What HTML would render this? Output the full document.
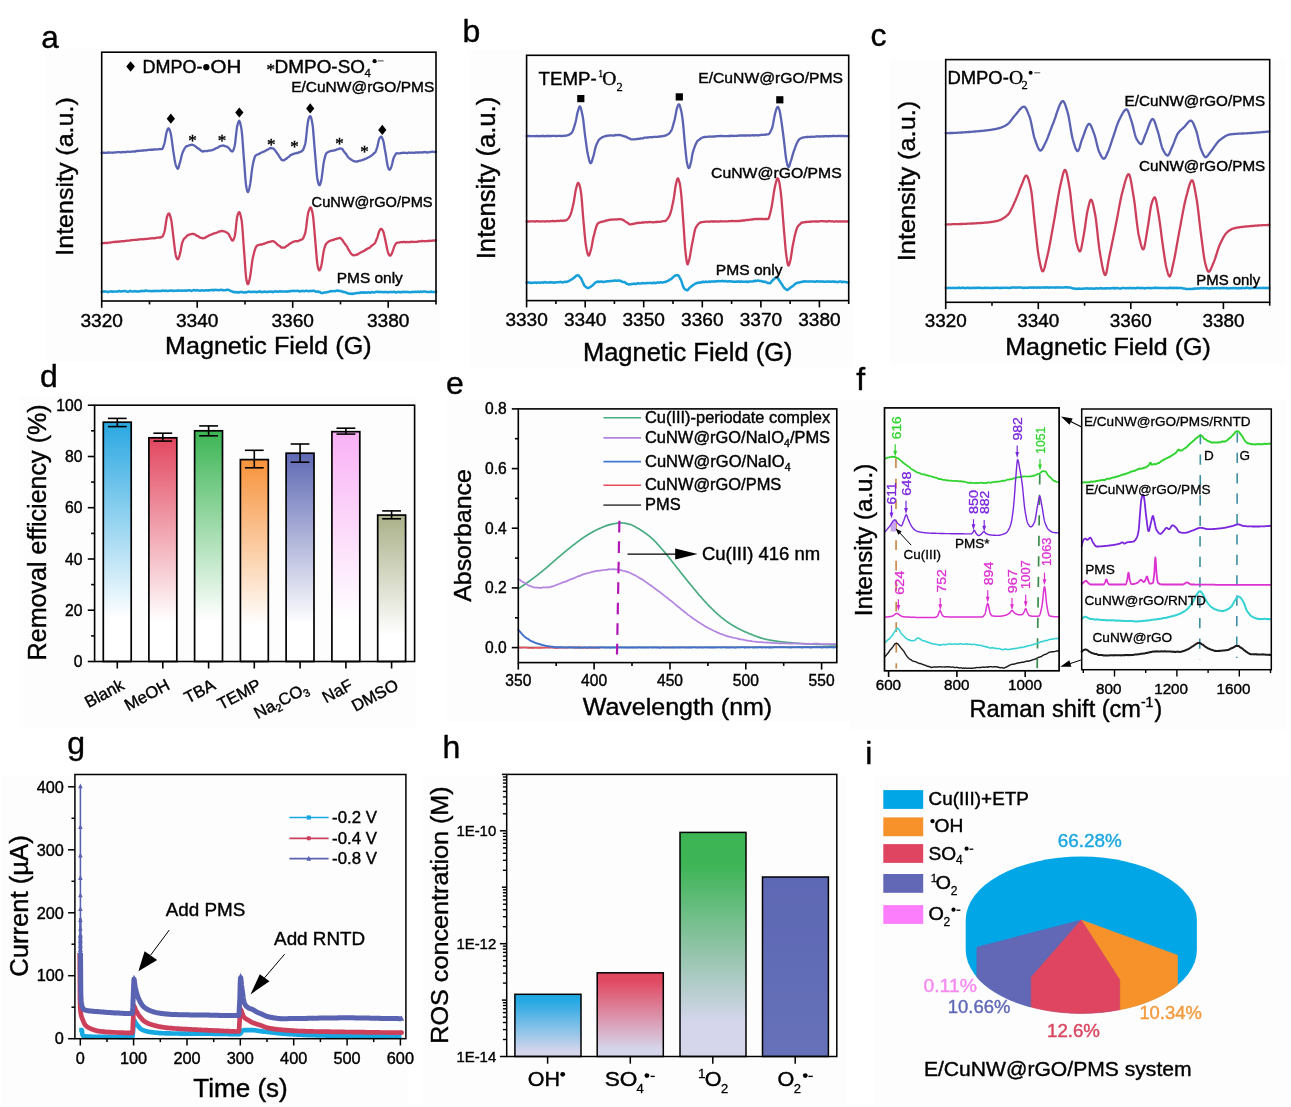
<!DOCTYPE html>
<html><head><meta charset="utf-8"><title>Figure</title>
<style>
html,body{margin:0;padding:0;background:#fff;}
body{width:1291px;height:1107px;overflow:hidden;}
svg{display:block;font-family:"Liberation Sans",sans-serif;}
</style></head><body>
<svg width="1291" height="1107" viewBox="0 0 1291 1107">
<defs><filter id="soft" x="0" y="0" width="100%" height="100%" filterUnits="userSpaceOnUse"><feGaussianBlur stdDeviation="0.45"/></filter><linearGradient id="gd0" x1="0" y1="0" x2="0" y2="1"><stop offset="0" stop-color="#29a7e1"/><stop offset="0.82" stop-color="#ffffff"/><stop offset="1" stop-color="#ffffff"/></linearGradient><linearGradient id="gd1" x1="0" y1="0" x2="0" y2="1"><stop offset="0" stop-color="#e2475f"/><stop offset="0.82" stop-color="#ffffff"/><stop offset="1" stop-color="#ffffff"/></linearGradient><linearGradient id="gd2" x1="0" y1="0" x2="0" y2="1"><stop offset="0" stop-color="#3cb554"/><stop offset="0.82" stop-color="#ffffff"/><stop offset="1" stop-color="#ffffff"/></linearGradient><linearGradient id="gd3" x1="0" y1="0" x2="0" y2="1"><stop offset="0" stop-color="#f7923a"/><stop offset="0.82" stop-color="#ffffff"/><stop offset="1" stop-color="#ffffff"/></linearGradient><linearGradient id="gd4" x1="0" y1="0" x2="0" y2="1"><stop offset="0" stop-color="#5f69b4"/><stop offset="0.82" stop-color="#ffffff"/><stop offset="1" stop-color="#ffffff"/></linearGradient><linearGradient id="gd5" x1="0" y1="0" x2="0" y2="1"><stop offset="0" stop-color="#f9b1f5"/><stop offset="0.82" stop-color="#ffffff"/><stop offset="1" stop-color="#ffffff"/></linearGradient><linearGradient id="gd6" x1="0" y1="0" x2="0" y2="1"><stop offset="0" stop-color="#aab088"/><stop offset="0.82" stop-color="#ffffff"/><stop offset="1" stop-color="#ffffff"/></linearGradient><linearGradient id="gh0" x1="0" y1="0" x2="0" y2="1"><stop offset="0" stop-color="#1ea7e3"/><stop offset="0.1" stop-color="#25a8e3"/><stop offset="0.92" stop-color="#d5d6ec"/><stop offset="1" stop-color="#d5d6ec"/></linearGradient><linearGradient id="gh1" x1="0" y1="0" x2="0" y2="1"><stop offset="0" stop-color="#e2465f"/><stop offset="0.1" stop-color="#e14a63"/><stop offset="0.92" stop-color="#d5d6ec"/><stop offset="1" stop-color="#d5d6ec"/></linearGradient><linearGradient id="gh2" x1="0" y1="0" x2="0" y2="1"><stop offset="0" stop-color="#3cb554"/><stop offset="0.15" stop-color="#3fb557"/><stop offset="0.55" stop-color="#96c5ae"/><stop offset="0.85" stop-color="#d5d6ec"/><stop offset="1" stop-color="#d5d6ec"/></linearGradient><linearGradient id="gh3" x1="0" y1="0" x2="0" y2="1"><stop offset="0" stop-color="#5d68b4"/><stop offset="1" stop-color="#6671b9"/></linearGradient></defs>
<rect x="0" y="0" width="1291" height="1107" fill="#fff"/>
<g filter="url(#soft)">
<rect x="45" y="48" width="395" height="314" fill="#fdfdfd"/>
<rect x="469" y="50" width="384" height="318" fill="#fdfdfd"/>
<rect x="890" y="59" width="395" height="306" fill="#fdfdfd"/>
<rect x="20" y="395" width="396" height="332" fill="#fdfdfd"/>
<rect x="446" y="400" width="414" height="322" fill="#fdfdfd"/>
<rect x="850" y="400" width="436" height="330" fill="#fdfdfd"/>
<rect x="2" y="775" width="406" height="330" fill="#fdfdfd"/>
<rect x="423" y="776" width="423" height="329" fill="#fdfdfd"/>
<rect x="875" y="775" width="414" height="330" fill="#fdfdfd"/>
<text x="41.2" y="48.2" font-size="31.5" stroke="#000" stroke-width="0.4">a</text>
<path d="M101.7,153 102.2,152.9 102.7,152.7 103.2,152.8 103.7,152.6 104.2,152.9 104.7,152.7 105.2,152.9 105.7,152.8 106.2,152.9 106.7,152.7 107.2,152.7 107.7,152.5 108.2,152.8 108.7,152.7 109.2,152.7 109.7,152.5 110.2,152.6 110.7,152.6 111.2,152.6 111.7,152.7 112.2,152.7 112.7,152.8 113.2,152.7 113.7,152.6 114.2,152.5 114.7,152.3 115.2,152.4 115.7,152.4 116.2,152.4 116.7,152.3 117.2,152.2 117.7,152.2 118.2,152.1 118.7,152.2 119.2,152.1 119.7,152.2 120.2,152.3 120.7,152.4 121.2,152.4 121.7,152.1 122.2,152 122.7,152.1 123.2,152.2 123.7,152.1 124.2,152 124.7,152.1 125.2,152.2 125.7,152.2 126.2,152 126.7,151.9 127.2,151.7 127.7,151.7 128.2,151.6 128.7,151.8 129.2,151.8 129.7,151.9 130.2,151.8 130.7,151.8 131.2,151.6 131.7,151.6 132.2,151.6 132.7,151.6 133.2,151.5 133.7,151.4 134.2,151.4 134.7,151.5 135.2,151.6 135.7,151.4 136.2,151.1 136.7,150.8 137.2,150.9 137.7,151 138.2,151 138.7,150.8 139.2,150.7 139.7,150.7 140.2,150.8 140.7,150.8 141.2,150.7 141.7,150.6 142.2,150.5 142.7,150.5 143.2,150.5 143.7,150.5 144.2,150.3 144.7,150.3 145.2,150.2 145.7,150.3 146.2,150.4 146.7,150.3 147.2,150.1 147.7,149.9 148.2,149.9 148.7,149.9 149.2,149.9 149.7,149.8 150.2,149.7 150.7,149.8 151.2,149.7 151.7,149.8 152.2,149.7 152.7,149.8 153.2,149.6 153.7,149.5 154.2,149.5 154.7,149.5 155.2,149.4 155.7,149.4 156.2,149.3 156.7,149.3 157.2,149.4 157.7,149.4 158.2,149.4 158.7,149.2 159.2,149.2 159.7,149 160.2,149.2 160.7,149.2 161.2,149.2 161.7,149 162.2,148.9 162.7,148.3 163.2,147.1 163.7,145.7 164.2,144 164.7,142.5 165.2,139.8 165.7,136.8 166.2,133.9 166.7,131.8 167.2,130.3 167.7,129.2 168.2,128.4 168.7,128.3 169.2,128.9 169.7,129.9 170.2,131.6 170.7,133.3 171.2,135.9 171.7,139.2 172.2,143.1 172.7,147 173.2,150.6 173.7,153.6 174.2,156.9 174.7,160 175.2,162.7 175.7,164.8 176.2,166.2 176.7,167.2 177.2,168.2 177.7,168.8 178.2,168.5 178.7,167 179.2,165.1 179.7,163.3 180.2,161.7 180.7,159.7 181.2,157.6 181.7,155.5 182.2,153.8 182.7,152.3 183.2,151.2 183.7,150.1 184.2,149.2 184.7,148.3 185.2,147.7 185.7,146.9 186.2,146.4 186.7,146.1 187.2,146.2 187.7,146 188.2,145.8 188.7,145.4 189.2,145.3 189.7,145.2 190.2,145.1 190.7,144.9 191.2,144.8 191.7,144.7 192.2,144.8 192.7,145 193.2,145.1 193.7,145.3 194.2,145.5 194.7,145.8 195.2,146.2 195.7,146.6 196.2,147 196.7,147.4 197.2,147.9 197.7,148.2 198.2,148.5 198.7,148.6 199.2,149 199.7,149.4 200.2,150 200.7,150.4 201.2,150.7 201.7,151 202.2,151.1 202.7,151.5 203.2,151.4 203.7,151.3 204.2,151 204.7,151 205.2,151 205.7,151.2 206.2,151.2 206.7,151.1 207.2,151 207.7,150.9 208.2,150.8 208.7,150.6 209.2,150.6 209.7,150.6 210.2,150.5 210.7,150.4 211.2,150.4 211.7,150.2 212.2,150.2 212.7,150 213.2,149.6 213.7,149.5 214.2,149.3 214.7,149.1 215.2,148.6 215.7,148.4 216.2,148.2 216.7,148 217.2,147.8 217.7,147.7 218.2,147.4 218.7,147 219.2,146.5 219.7,146.2 220.2,146 220.7,146 221.2,145.9 221.7,145.9 222.2,145.7 222.7,145.6 223.2,145.5 223.7,145.6 224.2,145.9 224.7,146 225.2,146.3 225.7,146.3 226.2,146.5 226.7,146.6 227.2,146.8 227.7,147.2 228.2,147.5 228.7,148 229.2,148.5 229.7,149.2 230.2,150 230.7,150.4 231.2,151 231.7,151.2 232.2,151.5 232.7,151.3 233.2,150.5 233.7,149.2 234.2,147.6 234.7,145.7 235.2,142.6 235.7,138.2 236.2,133.5 236.7,129.2 237.2,126.1 237.7,124.3 238.2,122.6 238.7,121.4 239.2,120.8 239.7,121.5 240.2,123 240.7,125.3 241.2,127.5 241.7,130.8 242.2,135.9 242.7,142.4 243.2,149.5 243.7,156.4 244.2,162.5 244.7,169.3 245.2,176.1 245.7,182.1 246.2,186.3 246.7,188.9 247.2,191 247.7,192.1 248.2,191.9 248.7,190.6 249.2,188.7 249.7,186.5 250.2,183.9 250.7,180.3 251.2,176.3 251.7,172.1 252.2,168.3 252.7,165.3 253.2,162.9 253.7,160.9 254.2,158.9 254.7,157.2 255.2,156 255.7,155.5 256.2,155.2 256.7,154.8 257.2,154.7 257.7,154.3 258.2,154.3 258.7,154 259.2,153.9 259.7,153.5 260.2,153.2 260.7,152.9 261.2,152.7 261.7,152.5 262.2,152.3 262.7,152 263.2,151.9 263.7,151.7 264.2,151.4 264.7,151.2 265.2,150.8 265.7,150.7 266.2,150.3 266.7,150.2 267.2,149.8 267.7,149.5 268.2,149.3 268.7,149.1 269.2,148.8 269.7,148.4 270.2,148.1 270.7,148 271.2,148 271.7,148.3 272.2,148.3 272.7,148.4 273.2,148.4 273.7,148.8 274.2,149.3 274.7,149.9 275.2,150.6 275.7,151.2 276.2,152 276.7,152.7 277.2,153.4 277.7,154.1 278.2,154.7 278.7,155.5 279.2,156.3 279.7,157.2 280.2,158 280.7,158.6 281.2,159.3 281.7,159.9 282.2,160.1 282.7,160.3 283.2,160.2 283.7,160.3 284.2,160.2 284.7,159.7 285.2,159.4 285.7,159 286.2,158.9 286.7,158.4 287.2,158 287.7,157.5 288.2,157.2 288.7,156.8 289.2,156.6 289.7,156 290.2,155.4 290.7,155 291.2,154.8 291.7,154.8 292.2,154.4 292.7,154.1 293.2,153.9 293.7,153.9 294.2,153.8 294.7,153.6 295.2,153.4 295.7,153.2 296.2,153 296.7,153.1 297.2,153 297.7,153 298.2,152.6 298.7,152.5 299.2,152.1 299.7,152.1 300.2,151.8 300.7,151.9 301.2,151.4 301.7,151.1 302.2,150.6 302.7,150.4 303.2,149.6 303.7,148.6 304.2,147.1 304.7,145.7 305.2,144 305.7,141.1 306.2,136.8 306.7,132 307.2,127.3 307.7,123.4 308.2,120.4 308.7,118.5 309.2,117.1 309.7,116.4 310.2,116.2 310.7,116.6 311.2,117.9 311.7,120.1 312.2,122.6 312.7,125.7 313.2,130.7 313.7,136.8 314.2,143.4 314.7,149.6 315.2,155.2 315.7,161.2 316.2,167.4 316.7,173.2 317.2,177.9 317.7,180.6 318.2,182.7 318.7,184.3 319.2,185.2 319.7,185.1 320.2,184.2 320.7,182.6 321.2,180.6 321.7,178 322.2,174.2 322.7,170.1 323.2,166.1 323.7,162.7 324.2,160.1 324.7,158.1 325.2,156.1 325.7,154.7 326.2,153.4 326.7,153 327.2,152.6 327.7,152.3 328.2,152.1 328.7,151.7 329.2,151.5 329.7,151.3 330.2,151.2 330.7,151.1 331.2,150.9 331.7,150.8 332.2,150.8 332.7,150.7 333.2,150.7 333.7,150.4 334.2,150.3 334.7,150.3 335.2,150.2 335.7,149.9 336.2,149.7 336.7,149.5 337.2,149.4 337.7,149.3 338.2,149.2 338.7,149 339.2,148.6 339.7,148.5 340.2,148.5 340.7,148.6 341.2,148.7 341.7,148.7 342.2,149.1 342.7,149.5 343.2,150.3 343.7,151.1 344.2,151.8 344.7,152.4 345.2,153.1 345.7,153.6 346.2,154.2 346.7,155 347.2,155.9 347.7,156.7 348.2,157.2 348.7,157.8 349.2,158.2 349.7,158.5 350.2,158.9 350.7,159.2 351.2,159.6 351.7,160 352.2,160.2 352.7,160.6 353.2,160.8 353.7,161.1 354.2,161.2 354.7,161.4 355.2,161.4 355.7,161.5 356.2,161.6 356.7,161.6 357.2,161.6 357.7,161.2 358.2,161.2 358.7,161 359.2,160.9 359.7,160.7 360.2,160.6 360.7,160.6 361.2,160.5 361.7,160.3 362.2,160 362.7,159.8 363.2,159.8 363.7,159.6 364.2,159.4 364.7,159.1 365.2,158.9 365.7,158.7 366.2,158.7 366.7,158.3 367.2,158 367.7,157.7 368.2,157.5 368.7,157.3 369.2,157 369.7,156.8 370.2,156.4 370.7,156 371.2,155.7 371.7,155.5 372.2,154.9 372.7,154.7 373.2,154.1 373.7,153.7 374.2,153.1 374.7,152.8 375.2,152.4 375.7,151.4 376.2,150.1 376.7,148.6 377.2,147.3 377.7,145.2 378.2,142.9 378.7,140.6 379.2,139 379.7,138.1 380.2,137.2 380.7,136.7 381.2,136.6 381.7,137.1 382.2,138.1 382.7,139.2 383.2,140.4 383.7,142.8 384.2,145.5 384.7,148.7 385.2,151.3 385.7,154 386.2,157.1 386.7,160.6 387.2,163.6 387.7,166.1 388.2,167.5 388.7,168.8 389.2,169.6 389.7,169.8 390.2,169.3 390.7,168.3 391.2,167.1 391.7,165.7 392.2,163.7 392.7,161.4 393.2,159.4 393.7,157.8 394.2,156.9 394.7,155.8 395.2,155.1 395.7,154 396.2,153.5 396.7,153.1 397.2,153.3 397.7,153.4 398.2,153.4 398.7,153.4 399.2,153.3 399.7,153.4 400.2,153.2 400.7,153.2 401.2,153 401.7,153.1 402.2,152.9 402.7,152.9 403.2,152.7 403.7,152.7 404.2,152.8 404.7,152.9 405.2,152.8 405.7,152.9 406.2,152.9 406.7,153.1 407.2,153.1 407.7,153 408.2,152.7 408.7,152.5 409.2,152.7 409.7,152.7 410.2,152.9 410.7,152.7 411.2,152.8 411.7,152.6 412.2,152.7 412.7,152.6 413.2,152.9 413.7,152.8 414.2,152.8 414.7,152.7 415.2,152.7 415.7,152.5 416.2,152.4 416.7,152.4 417.2,152.5 417.7,152.6 418.2,152.5 418.7,152.5 419.2,152.4 419.7,152.5 420.2,152.3 420.7,152.3 421.2,152.4 421.7,152.5 422.2,152.4 422.7,152.4 423.2,152.2 423.7,152.4 424.2,152.1 424.7,152.1 425.2,152 425.7,152.1 426.2,152.3 426.7,152.4 427.2,152.5 427.7,152.5 428.2,152.4 428.7,152.2 429.2,152.2 429.7,152.2 430.2,152.2 430.7,152 431.2,151.9 431.7,151.7 432.2,151.7 432.7,151.7 433.2,151.9 433.7,151.9 434.2,151.9 434.7,152 435.2,151.9 435.7,152 436,151.8" fill="none" stroke="#5a62b2" stroke-width="2.3" stroke-linejoin="round" stroke-linecap="round"/>
<path d="M101.7,243.5 102.2,243.2 102.7,243.3 103.2,243.1 103.7,243.2 104.2,243 104.7,243 105.2,242.9 105.7,242.8 106.2,242.9 106.7,243.1 107.2,243.1 107.7,242.9 108.2,242.7 108.7,242.6 109.2,242.6 109.7,242.6 110.2,242.6 110.7,242.5 111.2,242.3 111.7,242.3 112.2,242.2 112.7,242.2 113.2,242.1 113.7,242 114.2,242 114.7,241.9 115.2,241.7 115.7,241.7 116.2,241.7 116.7,242 117.2,241.7 117.7,241.7 118.2,241.5 118.7,241.8 119.2,241.7 119.7,241.6 120.2,241.4 120.7,241.4 121.2,241.4 121.7,241.4 122.2,241.1 122.7,241.2 123.2,241.2 123.7,241.3 124.2,241.2 124.7,241 125.2,240.9 125.7,240.8 126.2,240.8 126.7,240.8 127.2,240.7 127.7,240.6 128.2,240.6 128.7,240.7 129.2,240.6 129.7,240.6 130.2,240.4 130.7,240.3 131.2,240.1 131.7,240.1 132.2,240.2 132.7,240.2 133.2,240 133.7,239.9 134.2,239.8 134.7,239.8 135.2,239.8 135.7,239.9 136.2,239.9 136.7,239.9 137.2,239.7 137.7,239.7 138.2,239.5 138.7,239.6 139.2,239.4 139.7,239.4 140.2,239.3 140.7,239.3 141.2,239.2 141.7,239.1 142.2,239.3 142.7,239.4 143.2,239.3 143.7,239.1 144.2,239 144.7,239.1 145.2,239.2 145.7,239 146.2,238.9 146.7,238.9 147.2,238.9 147.7,238.9 148.2,238.7 148.7,238.7 149.2,238.5 149.7,238.6 150.2,238.6 150.7,238.3 151.2,238.4 151.7,238.2 152.2,238.3 152.7,238.2 153.2,238.1 153.7,238.3 154.2,238.4 154.7,238.4 155.2,238.1 155.7,237.9 156.2,237.8 156.7,237.8 157.2,237.7 157.7,237.6 158.2,237.6 158.7,237.6 159.2,237.5 159.7,237.4 160.2,237.6 160.7,237.4 161.2,237.3 161.7,237 162.2,236.8 162.7,236.3 163.2,235.3 163.7,234 164.2,232.5 164.7,230.7 165.2,228.1 165.7,224.4 166.2,221 166.7,217.9 167.2,216.3 167.7,215 168.2,214 168.7,213.6 169.2,213.5 169.7,214.5 170.2,215.9 170.7,217.9 171.2,219.8 171.7,222.9 172.2,226.8 172.7,231.1 173.2,235.6 173.7,239.7 174.2,244.2 174.7,248.2 175.2,252 175.7,254.8 176.2,256.7 176.7,258.1 177.2,259.1 177.7,259.3 178.2,258.9 178.7,257.9 179.2,256.6 179.7,254.9 180.2,253.1 180.7,250.5 181.2,247.6 181.7,244.9 182.2,242.9 182.7,241.6 183.2,240.3 183.7,239.4 184.2,238.7 184.7,238.1 185.2,237.8 185.7,237.3 186.2,236.9 186.7,236 187.2,235.6 187.7,235.3 188.2,235.2 188.7,234.9 189.2,234.6 189.7,234.4 190.2,234.3 190.7,234.2 191.2,234.2 191.7,234.1 192.2,233.9 192.7,233.8 193.2,233.9 193.7,234.1 194.2,234.1 194.7,234.3 195.2,234.5 195.7,235 196.2,235.4 196.7,235.8 197.2,235.9 197.7,236 198.2,236.1 198.7,236.6 199.2,237 199.7,237.4 200.2,237.6 200.7,237.8 201.2,237.9 201.7,237.9 202.2,238 202.7,238.3 203.2,238.4 203.7,238.2 204.2,238 204.7,237.9 205.2,237.7 205.7,237.4 206.2,236.9 206.7,236.8 207.2,236.5 207.7,236.2 208.2,235.9 208.7,235.6 209.2,235.4 209.7,235.2 210.2,235 210.7,234.7 211.2,234.4 211.7,234.4 212.2,234.3 212.7,234 213.2,233.7 213.7,233.4 214.2,233.4 214.7,233.2 215.2,233.2 215.7,233 216.2,232.9 216.7,232.7 217.2,232.5 217.7,232.2 218.2,231.9 218.7,231.7 219.2,231.4 219.7,231.5 220.2,231.3 220.7,231.4 221.2,231.1 221.7,231 222.2,230.9 222.7,231 223.2,231.2 223.7,231.3 224.2,231.3 224.7,231.5 225.2,231.7 225.7,232 226.2,232.2 226.7,232.5 227.2,232.9 227.7,233.3 228.2,233.5 228.7,234.2 229.2,235.1 229.7,236.2 230.2,237.1 230.7,238 231.2,239 231.7,240 232.2,240.5 232.7,240.7 233.2,240.2 233.7,239.2 234.2,237.9 234.7,236.2 235.2,233.8 235.7,229.6 236.2,224.6 236.7,220 237.2,216.5 237.7,214.9 238.2,213.5 238.7,212.5 239.2,212.1 239.7,212.6 240.2,214 240.7,215.8 241.2,218.2 241.7,220.9 242.2,225.7 242.7,231.9 243.2,239 243.7,246.1 244.2,252.6 244.7,259.7 245.2,267.1 245.7,273.7 246.2,278.5 246.7,281.1 247.2,283.2 247.7,284.2 248.2,284.1 248.7,282.8 249.2,280.9 249.7,278.8 250.2,276.3 250.7,273 251.2,269.2 251.7,265.2 252.2,261.4 252.7,258.4 253.2,256.2 253.7,254.2 254.2,252.2 254.7,250.4 255.2,248.9 255.7,247.6 256.2,246.7 256.7,246 257.2,245.6 257.7,245.3 258.2,245.2 258.7,245 259.2,244.8 259.7,244.7 260.2,244.7 260.7,244.4 261.2,244.4 261.7,244.5 262.2,244.5 262.7,244.2 263.2,243.8 263.7,243.7 264.2,243.8 264.7,243.6 265.2,243.3 265.7,243.1 266.2,243 266.7,242.7 267.2,242.5 267.7,242.2 268.2,242.3 268.7,242.1 269.2,242 269.7,241.8 270.2,241.8 270.7,241.6 271.2,241.4 271.7,241.3 272.2,241.2 272.7,241.2 273.2,241.3 273.7,241.4 274.2,241.6 274.7,242 275.2,242.5 275.7,243 276.2,243.3 276.7,243.8 277.2,244.4 277.7,244.8 278.2,245.3 278.7,245.5 279.2,245.7 279.7,246 280.2,246.4 280.7,247.1 281.2,247.4 281.7,247.7 282.2,247.6 282.7,247.5 283.2,247.7 283.7,247.6 284.2,247.6 284.7,247.4 285.2,247.2 285.7,246.7 286.2,246.3 286.7,246 287.2,245.8 287.7,245.4 288.2,245.1 288.7,244.6 289.2,244.2 289.7,243.7 290.2,243.4 290.7,243.3 291.2,243 291.7,242.7 292.2,242.3 292.7,242 293.2,241.8 293.7,241.6 294.2,241.6 294.7,241.5 295.2,241.3 295.7,241.1 296.2,241.2 296.7,241.3 297.2,241.2 297.7,241.1 298.2,241.1 298.7,240.9 299.2,240.6 299.7,240.3 300.2,240.1 300.7,240 301.2,239.7 301.7,239.6 302.2,239.2 302.7,238.9 303.2,238.2 303.7,237.1 304.2,235.9 304.7,234.5 305.2,233.3 305.7,230.6 306.2,227.2 306.7,223.1 307.2,219.1 307.7,215.4 308.2,212.8 308.7,211.1 309.2,209.8 309.7,208.5 310.2,207.6 310.7,207.4 311.2,208.2 311.7,209.7 312.2,211.6 312.7,213.8 313.2,217.3 313.7,222.3 314.2,228.1 314.7,234.2 315.2,239.9 315.7,245.8 316.2,252.2 316.7,258.2 317.2,263.1 317.7,266 318.2,268.1 318.7,269.7 319.2,270.4 319.7,270.2 320.2,269.4 320.7,267.8 321.2,266.1 321.7,263.8 322.2,260.8 322.7,257.4 323.2,254 323.7,251.1 324.2,249 324.7,247.3 325.2,245.8 325.7,244.5 326.2,243.8 326.7,243.2 327.2,242.7 327.7,242.2 328.2,241.9 328.7,241.6 329.2,241.3 329.7,241 330.2,240.8 330.7,240.6 331.2,240.4 331.7,240.2 332.2,240.2 332.7,240 333.2,240.1 333.7,239.7 334.2,239.6 334.7,239.2 335.2,239.1 335.7,239.1 336.2,239 336.7,238.8 337.2,238.5 337.7,238.5 338.2,238.3 338.7,238.3 339.2,238.1 339.7,237.9 340.2,237.9 340.7,238.3 341.2,238.9 341.7,239.3 342.2,239.8 342.7,240.5 343.2,241.3 343.7,242.2 344.2,242.7 344.7,243.6 345.2,244.1 345.7,245 346.2,245.5 346.7,246.2 347.2,246.8 347.7,247.9 348.2,248.9 348.7,249.9 349.2,250.7 349.7,251.5 350.2,252.3 350.7,253.2 351.2,253.8 351.7,254.2 352.2,254.7 352.7,255 353.2,255.3 353.7,255.2 354.2,255.1 354.7,255.3 355.2,255.2 355.7,255 356.2,254.7 356.7,254.5 357.2,254.6 357.7,254.4 358.2,254.1 358.7,253.7 359.2,253.3 359.7,253.1 360.2,252.8 360.7,252.5 361.2,252.2 361.7,251.9 362.2,251.7 362.7,251.4 363.2,251.4 363.7,251.1 364.2,250.9 364.7,250.3 365.2,250.1 365.7,249.6 366.2,249.5 366.7,249.1 367.2,248.9 367.7,248.6 368.2,248.3 368.7,248.1 369.2,248 369.7,247.7 370.2,247.3 370.7,246.6 371.2,246.1 371.7,245.8 372.2,245.4 372.7,245.1 373.2,244.5 373.7,244.2 374.2,243.8 374.7,243.4 375.2,242.6 375.7,241.5 376.2,240.2 376.7,239.1 377.2,237.9 377.7,236.3 378.2,234.4 378.7,232.8 379.2,231.3 379.7,230.3 380.2,229.6 380.7,229 381.2,228.9 381.7,229.1 382.2,229.7 382.7,230.5 383.2,231.3 383.7,232.9 384.2,235 384.7,237.3 385.2,239.5 385.7,242 386.2,244.3 386.7,246.7 387.2,249.2 387.7,251.3 388.2,253.1 388.7,254.2 389.2,255 389.7,255.6 390.2,255.7 390.7,255.5 391.2,254.7 391.7,253.7 392.2,252.6 392.7,251.1 393.2,249.8 393.7,248.1 394.2,246.8 394.7,245.7 395.2,244.8 395.7,243.9 396.2,243.2 396.7,242.9 397.2,242.7 397.7,242.7 398.2,242.7 398.7,242.6 399.2,242.5 399.7,242.3 400.2,242.2 400.7,242.1 401.2,242.2 401.7,242.2 402.2,242.3 402.7,242.1 403.2,242 403.7,241.8 404.2,241.9 404.7,242 405.2,242.3 405.7,242.3 406.2,242.1 406.7,242 407.2,242 407.7,242.2 408.2,242.2 408.7,242.2 409.2,242.1 409.7,242 410.2,242.1 410.7,242 411.2,241.8 411.7,241.7 412.2,241.7 412.7,241.9 413.2,242 413.7,241.8 414.2,241.8 414.7,241.8 415.2,241.8 415.7,241.8 416.2,241.8 416.7,241.8 417.2,241.9 417.7,241.6 418.2,241.5 418.7,241.3 419.2,241.4 419.7,241.2 420.2,241.3 420.7,241.3 421.2,241.4 421.7,241 422.2,241 422.7,241 423.2,241.1 423.7,241.1 424.2,241.3 424.7,241.3 425.2,241.1 425.7,241.1 426.2,241.2 426.7,241.2 427.2,240.9 427.7,240.9 428.2,240.9 428.7,241.1 429.2,240.9 429.7,240.9 430.2,240.7 430.7,240.7 431.2,240.8 431.7,240.8 432.2,240.8 432.7,240.6 433.2,240.5 433.7,240.6 434.2,240.6 434.7,240.5 435.2,240.3 435.7,240.3 436,240.4" fill="none" stroke="#cc3f5c" stroke-width="2.3" stroke-linejoin="round" stroke-linecap="round"/>
<path d="M101.7,292.1 102.2,292.1 102.7,291.6 103.2,291.5 103.7,291.5 104.2,291.7 104.7,291.6 105.2,291.6 105.7,291.6 106.2,291.5 106.7,291.6 107.2,291.8 107.7,292.1 108.2,292 108.7,291.8 109.2,291.6 109.7,291.4 110.2,291.5 110.7,291.4 111.2,291.5 111.7,291.3 112.2,291.6 112.7,291.8 113.2,291.7 113.7,291.4 114.2,291.4 114.7,291.5 115.2,291.5 115.7,291.4 116.2,291.5 116.7,291.8 117.2,291.7 117.7,291.5 118.2,291.2 118.7,291 119.2,291 119.7,291 120.2,291.4 120.7,291.5 121.2,291.4 121.7,291.3 122.2,291.3 122.7,291.3 123.2,291.1 123.7,291.1 124.2,291.2 124.7,291.2 125.2,291 125.7,291.1 126.2,291.2 126.7,291.5 127.2,291.7 127.7,291.7 128.2,291.8 128.7,291.5 129.2,291.5 129.7,291.1 130.2,291.1 130.7,290.8 131.2,291.1 131.7,291.3 132.2,291.5 132.7,291.6 133.2,291.4 133.7,291.4 134.2,291.2 134.7,291.1 135.2,291.2 135.7,291.4 136.2,291.4 136.7,291.4 137.2,291.2 137.7,291.5 138.2,291.4 138.7,291.5 139.2,291.4 139.7,291.3 140.2,291.1 140.7,291.2 141.2,291 141.7,291.2 142.2,291.1 142.7,291.1 143.2,291.1 143.7,291.1 144.2,291.2 144.7,291.1 145.2,290.6 145.7,290.5 146.2,290.5 146.7,290.8 147.2,290.8 147.7,290.9 148.2,290.9 148.7,291 149.2,291 149.7,291 150.2,290.9 150.7,291.1 151.2,291.3 151.7,291.2 152.2,290.9 152.7,290.9 153.2,291.2 153.7,291.2 154.2,291 154.7,290.8 155.2,290.9 155.7,291 156.2,291 156.7,290.9 157.2,290.8 157.7,290.9 158.2,290.9 158.7,291 159.2,291 159.7,291.1 160.2,290.9 160.7,291 161.2,290.8 161.7,291 162.2,290.7 162.7,290.6 163.2,290.6 163.7,290.7 164.2,290.9 164.7,290.9 165.2,290.8 165.7,290.7 166.2,290.6 166.7,290.9 167.2,291.1 167.7,291 168.2,290.9 168.7,290.7 169.2,290.7 169.7,290.8 170.2,290.8 170.7,290.6 171.2,290.4 171.7,290.5 172.2,290.7 172.7,290.9 173.2,290.8 173.7,290.9 174.2,290.8 174.7,290.8 175.2,290.8 175.7,290.8 176.2,290.8 176.7,290.8 177.2,290.6 177.7,290.7 178.2,290.5 178.7,290.7 179.2,290.6 179.7,290.6 180.2,290.6 180.7,290.8 181.2,290.7 181.7,290.7 182.2,290.5 182.7,290.5 183.2,290.8 183.7,290.8 184.2,290.7 184.7,290.6 185.2,290.5 185.7,290.7 186.2,290.6 186.7,290.7 187.2,290.6 187.7,290.4 188.2,290.4 188.7,290.3 189.2,290.2 189.7,290.2 190.2,290.5 190.7,290.7 191.2,290.9 191.7,290.9 192.2,290.7 192.7,290.5 193.2,290.2 193.7,290.1 194.2,290 194.7,290.3 195.2,290.5 195.7,290.5 196.2,290.4 196.7,290.1 197.2,290.2 197.7,290.3 198.2,290.5 198.7,290.4 199.2,290.6 199.7,290.7 200.2,290.8 200.7,290.5 201.2,290.3 201.7,290.3 202.2,290.3 202.7,290.4 203.2,290.5 203.7,290.6 204.2,290.7 204.7,290.6 205.2,290.4 205.7,290.3 206.2,290.2 206.7,290.3 207.2,290.3 207.7,290.6 208.2,290.3 208.7,290.4 209.2,290.3 209.7,290.3 210.2,290.3 210.7,290.1 211.2,290.1 211.7,290 212.2,289.9 212.7,290.2 213.2,290.1 213.7,290.4 214.2,289.9 214.7,289.9 215.2,289.7 215.7,290 216.2,290.1 216.7,290.1 217.2,290.1 217.7,290 218.2,290.2 218.7,290.3 219.2,290.3 219.7,289.9 220.2,289.9 220.7,289.7 221.2,289.7 221.7,289.9 222.2,290.2 222.7,290.3 223.2,290.1 223.7,290.2 224.2,290.2 224.7,290.3 225.2,290.2 225.7,290.2 226.2,290.1 226.7,289.8 227.2,289.8 227.7,289.7 228.2,289.9 228.7,290.1 229.2,290.1 229.7,290.3 230.2,290.7 230.7,291 231.2,291.2 231.7,291.3 232.2,291.4 232.7,291.7 233.2,291.8 233.7,292.2 234.2,292.1 234.7,292.2 235.2,292.1 235.7,292.2 236.2,292.2 236.7,292.1 237.2,292.4 237.7,292.3 238.2,292.5 238.7,292.3 239.2,292.4 239.7,292.1 240.2,292.1 240.7,291.9 241.2,292.1 241.7,292.1 242.2,292.2 242.7,292.1 243.2,292.3 243.7,292.5 244.2,292.6 244.7,292.3 245.2,292.1 245.7,292.2 246.2,292.5 246.7,292.3 247.2,292 247.7,291.7 248.2,291.7 248.7,291.6 249.2,291.7 249.7,291.7 250.2,292.1 250.7,292.1 251.2,292.1 251.7,291.8 252.2,291.7 252.7,291.9 253.2,292 253.7,291.9 254.2,291.7 254.7,291.8 255.2,291.9 255.7,292.1 256.2,292.1 256.7,292.2 257.2,291.9 257.7,291.9 258.2,291.8 258.7,291.6 259.2,291.7 259.7,291.5 260.2,291.7 260.7,291.5 261.2,292 261.7,292 262.2,292.3 262.7,292.1 263.2,291.9 263.7,291.6 264.2,291.4 264.7,291.7 265.2,291.9 265.7,292.1 266.2,292.1 266.7,291.9 267.2,291.8 267.7,291.9 268.2,292 268.7,291.7 269.2,291.5 269.7,291.5 270.2,291.8 270.7,291.7 271.2,291.7 271.7,291.4 272.2,291.6 272.7,291.8 273.2,292.2 273.7,291.9 274.2,291.7 274.7,291.2 275.2,291.4 275.7,291.4 276.2,291.6 276.7,291.6 277.2,291.6 277.7,291.8 278.2,291.8 278.7,291.8 279.2,291.4 279.7,291.3 280.2,291.2 280.7,291.4 281.2,291.5 281.7,291.7 282.2,291.6 282.7,291.6 283.2,291.4 283.7,291.5 284.2,291.5 284.7,291.4 285.2,291.6 285.7,291.5 286.2,291.7 286.7,291.5 287.2,291.7 287.7,291.4 288.2,291.4 288.7,291.2 289.2,291.3 289.7,291.4 290.2,291.3 290.7,291.1 291.2,290.8 291.7,291 292.2,290.9 292.7,291 293.2,290.8 293.7,290.9 294.2,290.8 294.7,291 295.2,291.1 295.7,291 296.2,291 296.7,291 297.2,290.7 297.7,290.7 298.2,290.7 298.7,291.1 299.2,291.4 299.7,291.5 300.2,291.3 300.7,291 301.2,290.9 301.7,291 302.2,291.2 302.7,291.1 303.2,291 303.7,291 304.2,291.3 304.7,291.3 305.2,291.1 305.7,290.8 306.2,290.7 306.7,290.7 307.2,290.9 307.7,291.1 308.2,291.2 308.7,291.3 309.2,291.1 309.7,291 310.2,290.8 310.7,290.9 311.2,291 311.7,291.1 312.2,290.9 312.7,290.8 313.2,290.7 313.7,290.8 314.2,290.8 314.7,291.1 315.2,291.5 315.7,291.6 316.2,291.7 316.7,291.7 317.2,291.6 317.7,291.6 318.2,291.6 318.7,291.9 319.2,291.8 319.7,291.9 320.2,292.2 320.7,292.6 321.2,293 321.7,292.9 322.2,293.1 322.7,293 323.2,292.8 323.7,292.7 324.2,292.5 324.7,292.6 325.2,292.4 325.7,292.5 326.2,292.4 326.7,292.3 327.2,292.1 327.7,292 328.2,291.9 328.7,291.8 329.2,291.7 329.7,291.6 330.2,291.3 330.7,291.1 331.2,291.1 331.7,291.3 332.2,291.3 332.7,291.3 333.2,291 333.7,290.9 334.2,291.1 334.7,291.3 335.2,291.2 335.7,291 336.2,290.8 336.7,290.8 337.2,290.6 337.7,290.6 338.2,290.7 338.7,290.9 339.2,291.1 339.7,291.1 340.2,290.9 340.7,291 341.2,291 341.7,291.4 342.2,291.6 342.7,291.9 343.2,291.9 343.7,291.8 344.2,291.9 344.7,292.2 345.2,292.4 345.7,292.5 346.2,292.6 346.7,292.9 347.2,293.2 347.7,293.2 348.2,293.4 348.7,293.5 349.2,293.7 349.7,293.8 350.2,293.8 350.7,293.6 351.2,293.9 351.7,293.7 352.2,293.9 352.7,293.6 353.2,293.7 353.7,293.7 354.2,293.6 354.7,293.6 355.2,293.4 355.7,293.3 356.2,293.1 356.7,293 357.2,292.9 357.7,292.9 358.2,293 358.7,293.1 359.2,293 359.7,292.9 360.2,292.5 360.7,292.3 361.2,292.5 361.7,292.7 362.2,292.6 362.7,292.7 363.2,292.4 363.7,292.4 364.2,292.2 364.7,292.7 365.2,292.8 365.7,292.7 366.2,292.5 366.7,292.5 367.2,292.7 367.7,292.5 368.2,292.4 368.7,292.2 369.2,292.3 369.7,292.6 370.2,292.8 370.7,292.6 371.2,292.4 371.7,292.1 372.2,292.2 372.7,292.3 373.2,292.3 373.7,292.4 374.2,292.5 374.7,292.4 375.2,292.2 375.7,291.9 376.2,291.8 376.7,291.8 377.2,291.7 377.7,291.9 378.2,292 378.7,292.2 379.2,292 379.7,291.8 380.2,291.7 380.7,292.1 381.2,292 381.7,292.1 382.2,292 382.7,292.2 383.2,292.2 383.7,292.2 384.2,292 384.7,292.1 385.2,292.2 385.7,292.2 386.2,292 386.7,291.9 387.2,292.1 387.7,292.3 388.2,292.4 388.7,292.2 389.2,291.9 389.7,291.9 390.2,292 390.7,292 391.2,291.9 391.7,291.9 392.2,292.2 392.7,292 393.2,292.1 393.7,291.8 394.2,291.9 394.7,291.8 395.2,292.1 395.7,292.5 396.2,292.6 396.7,292.4 397.2,292.2 397.7,292 398.2,292 398.7,291.7 399.2,292.1 399.7,292.2 400.2,292.4 400.7,292.1 401.2,292.1 401.7,292.1 402.2,292.2 402.7,292 403.2,291.8 403.7,291.8 404.2,291.9 404.7,292.1 405.2,292.1 405.7,291.8 406.2,291.9 406.7,291.9 407.2,292 407.7,291.8 408.2,291.9 408.7,292.1 409.2,292.2 409.7,292.2 410.2,292.2 410.7,292.3 411.2,292.2 411.7,292 412.2,291.8 412.7,291.8 413.2,291.9 413.7,292 414.2,292 414.7,291.9 415.2,291.7 415.7,291.9 416.2,291.8 416.7,292 417.2,291.7 417.7,291.8 418.2,291.6 418.7,291.9 419.2,292 419.7,292 420.2,291.7 420.7,291.6 421.2,291.7 421.7,292 422.2,291.9 422.7,291.7 423.2,291.5 423.7,291.6 424.2,291.5 424.7,291.5 425.2,291.7 425.7,291.7 426.2,291.7 426.7,291.8 427.2,292.1 427.7,292 428.2,292.1 428.7,292.1 429.2,292 429.7,291.9 430.2,291.7 430.7,291.9 431.2,291.6 431.7,291.9 432.2,291.7 432.7,292 433.2,292 433.7,292.1 434.2,291.9 434.7,292 435.2,291.7 435.7,291.8 436,291.6" fill="none" stroke="#189fd9" stroke-width="2.5" stroke-linejoin="round" stroke-linecap="round"/>
<path d="M170.8,113.6 L175,118.7 L170.8,123.8 L166.7,118.7Z" fill="#000"/>
<path d="M239.3,107.4 L243.5,112.5 L239.3,117.6 L235.2,112.5Z" fill="#000"/>
<path d="M310.2,103.3 L314.3,108.4 L310.2,113.5 L306.1,108.4Z" fill="#000"/>
<path d="M382.3,124.8 L386.4,129.9 L382.3,135 L378.2,129.9Z" fill="#000"/>
<text x="192.6" y="145.5" font-size="17" text-anchor="middle" stroke="#000" stroke-width="0.4" font-family='"Liberation Serif", serif'>*</text>
<text x="221.9" y="145.5" font-size="17" text-anchor="middle" stroke="#000" stroke-width="0.4" font-family='"Liberation Serif", serif'>*</text>
<text x="271.3" y="149.7" font-size="17" text-anchor="middle" stroke="#000" stroke-width="0.4" font-family='"Liberation Serif", serif'>*</text>
<text x="294.4" y="152.3" font-size="17" text-anchor="middle" stroke="#000" stroke-width="0.4" font-family='"Liberation Serif", serif'>*</text>
<text x="339.4" y="149.3" font-size="17" text-anchor="middle" stroke="#000" stroke-width="0.4" font-family='"Liberation Serif", serif'>*</text>
<text x="364.5" y="156.6" font-size="17" text-anchor="middle" stroke="#000" stroke-width="0.4" font-family='"Liberation Serif", serif'>*</text>
<path d="M130.6,61.2 L134.9,66.5 L130.6,71.8 L126.3,66.5Z" fill="#000"/>
<text x="142.6" y="72.7" font-size="18" textLength="59.8" lengthAdjust="spacingAndGlyphs" stroke="#000" stroke-width="0.4">DMPO-</text>
<circle cx="206.3" cy="67.2" r="3.1" fill="#000"/>
<text x="210.5" y="72.7" font-size="18" textLength="30.8" lengthAdjust="spacingAndGlyphs" stroke="#000" stroke-width="0.4">OH</text>
<text x="266.6" y="75" font-size="17" stroke="#000" stroke-width="0.4" font-family='"Liberation Serif", serif'>*</text>
<text x="274.6" y="72.7" font-size="18" textLength="90.4" lengthAdjust="spacingAndGlyphs" stroke="#000" stroke-width="0.4">DMPO-SO</text>
<text x="364.4" y="76.6" font-size="11.5" stroke="#000" stroke-width="0.3">4</text>
<circle cx="374.6" cy="61.2" r="2.1" fill="#000"/>
<line x1="377.8" y1="60.9" x2="383.6" y2="60.9" stroke="#333" stroke-width="0.9"/>
<text x="291.2" y="91.5" font-size="15.3" textLength="143.1" lengthAdjust="spacingAndGlyphs" stroke="#000" stroke-width="0.4">E/CuNW@rGO/PMS</text>
<text x="311.6" y="207.4" font-size="14.4" textLength="121" lengthAdjust="spacingAndGlyphs" stroke="#000" stroke-width="0.4">CuNW@rGO/PMS</text>
<text x="336.8" y="283.2" font-size="15" textLength="66" lengthAdjust="spacingAndGlyphs" stroke="#000" stroke-width="0.4">PMS only</text>
<rect x="101.7" y="52.2" width="334.3" height="248.8" fill="none" stroke="#000" stroke-width="1.6"/>
<line x1="101.7" y1="301" x2="101.7" y2="307.8" stroke="#000" stroke-width="1.6"/>
<line x1="197.2" y1="301" x2="197.2" y2="307.8" stroke="#000" stroke-width="1.6"/>
<line x1="292.7" y1="301" x2="292.7" y2="307.8" stroke="#000" stroke-width="1.6"/>
<line x1="388.2" y1="301" x2="388.2" y2="307.8" stroke="#000" stroke-width="1.6"/>
<line x1="149.5" y1="301" x2="149.5" y2="304.4" stroke="#000" stroke-width="1.6"/>
<line x1="245" y1="301" x2="245" y2="304.4" stroke="#000" stroke-width="1.6"/>
<line x1="340.5" y1="301" x2="340.5" y2="304.4" stroke="#000" stroke-width="1.6"/>
<line x1="436" y1="301" x2="436" y2="304.4" stroke="#000" stroke-width="1.6"/>
<text x="101.7" y="326.6" font-size="18.3" text-anchor="middle" textLength="42.5" lengthAdjust="spacingAndGlyphs" stroke="#000" stroke-width="0.4">3320</text>
<text x="197.2" y="326.6" font-size="18.3" text-anchor="middle" textLength="42.5" lengthAdjust="spacingAndGlyphs" stroke="#000" stroke-width="0.4">3340</text>
<text x="292.7" y="326.6" font-size="18.3" text-anchor="middle" textLength="42.5" lengthAdjust="spacingAndGlyphs" stroke="#000" stroke-width="0.4">3360</text>
<text x="388.2" y="326.6" font-size="18.3" text-anchor="middle" textLength="42.5" lengthAdjust="spacingAndGlyphs" stroke="#000" stroke-width="0.4">3380</text>
<text x="268.3" y="353.8" font-size="24.6" text-anchor="middle" textLength="206.5" lengthAdjust="spacingAndGlyphs" stroke="#000" stroke-width="0.4">Magnetic Field (G)</text>
<text x="72.6" y="176.5" font-size="24.5" text-anchor="middle" textLength="158.4" lengthAdjust="spacingAndGlyphs" stroke="#000" stroke-width="0.4" transform="rotate(-90 72.6 176.5)">Intensity (a.u.)</text>
<text x="462.6" y="41.6" font-size="32" stroke="#000" stroke-width="0.4">b</text>
<path d="M526.6,136.1 527.1,136.1 527.6,136.1 528.1,136 528.6,136 529.1,135.9 529.6,136 530.1,136.1 530.6,136.1 531.1,136.1 531.6,136.1 532.1,136.2 532.6,136.1 533.1,136.1 533.6,136.1 534.1,136 534.6,136.2 535.1,136.2 535.6,136.3 536.1,136.1 536.6,136 537.1,136 537.6,136 538.1,136.2 538.6,136.2 539.1,136.4 539.6,136.1 540.1,136.2 540.6,136 541.1,136 541.6,136 542.1,136.1 542.6,135.9 543.1,135.8 543.6,135.9 544.1,136.2 544.6,136.3 545.1,136.2 545.6,136.1 546.1,136 546.6,136 547.1,135.9 547.6,136 548.1,135.9 548.6,136.1 549.1,136 549.6,136.1 550.1,136 550.6,136.1 551.1,136.1 551.6,136 552.1,135.9 552.6,135.8 553.1,135.9 553.6,135.9 554.1,135.8 554.6,135.9 555.1,135.9 555.6,136 556.1,136.2 556.6,136.1 557.1,136.1 557.6,135.9 558.1,135.8 558.6,135.8 559.1,135.9 559.6,135.8 560.1,135.9 560.6,135.9 561.1,136.1 561.6,136.1 562.1,136 562.6,135.9 563.1,135.9 563.6,135.8 564.1,135.7 564.6,135.7 565.1,135.8 565.6,135.8 566.1,135.7 566.6,135.5 567.1,135.3 567.6,135.2 568.1,135 568.6,135 569.1,134.8 569.6,134.4 570.1,134 570.6,133.7 571.1,133.4 571.6,132.9 572.1,132.2 572.6,131.2 573.1,130.1 573.6,128.7 574.1,127.2 574.6,125.5 575.1,123.8 575.6,122 576.1,119.7 576.6,117.1 577.1,114.6 577.6,112.3 578.1,110.7 578.6,109 579.1,107.6 579.6,106.5 580.1,106.5 580.6,107.3 581.1,109.1 581.6,111.2 582.1,113.4 582.6,115.7 583.1,118.7 583.6,122.8 584.1,127.3 584.6,131.8 585.1,135.8 585.6,139.3 586.1,143.1 586.6,146.8 587.1,150.2 587.6,153.1 588.1,155.5 588.6,157.6 589.1,159.8 589.6,161.6 590.1,162.8 590.6,163.3 591.1,163 591.6,162.1 592.1,160.7 592.6,158.8 593.1,157.2 593.6,155.6 594.1,153.5 594.6,151.2 595.1,149 595.6,147.1 596.1,145.7 596.6,144.4 597.1,143.3 597.6,142.2 598.1,141.3 598.6,140.4 599.1,139.7 599.6,139.1 600.1,138.7 600.6,138.5 601.1,138.1 601.6,137.7 602.1,137.3 602.6,137.1 603.1,137 603.6,136.8 604.1,136.6 604.6,136.3 605.1,136.2 605.6,136.1 606.1,136 606.6,136 607.1,135.8 607.6,135.7 608.1,135.6 608.6,135.6 609.1,135.6 609.6,135.4 610.1,135.5 610.6,135.3 611.1,135.3 611.6,135.3 612.1,135.6 612.6,135.6 613.1,135.7 613.6,135.5 614.1,135.5 614.6,135.4 615.1,135.3 615.6,135 616.1,135 616.6,135.1 617.1,135.2 617.6,135.1 618.1,135 618.6,135 619.1,135 619.6,135 620.1,135.2 620.6,135.1 621.1,135.3 621.6,135.3 622.1,135.7 622.6,135.9 623.1,136 623.6,136 624.1,136.2 624.6,136.4 625.1,136.6 625.6,136.6 626.1,136.7 626.6,137 627.1,137.4 627.6,137.8 628.1,138 628.6,138.1 629.1,138.1 629.6,138.5 630.1,138.8 630.6,139.2 631.1,139.3 631.6,139.4 632.1,139.4 632.6,139.3 633.1,139.3 633.6,139.3 634.1,139.4 634.6,139.3 635.1,139.3 635.6,139.1 636.1,139.2 636.6,139.1 637.1,139 637.6,138.8 638.1,138.7 638.6,138.8 639.1,138.9 639.6,138.9 640.1,138.6 640.6,138.4 641.1,138.3 641.6,138.4 642.1,138.4 642.6,138.5 643.1,138.2 643.6,137.9 644.1,137.7 644.6,137.6 645.1,137.6 645.6,137.7 646.1,137.7 646.6,137.7 647.1,137.5 647.6,137.5 648.1,137.5 648.6,137.4 649.1,137.3 649.6,137.1 650.1,137.2 650.6,137.1 651.1,137.1 651.6,137.3 652.1,137.3 652.6,137.2 653.1,136.9 653.6,136.9 654.1,136.9 654.6,136.9 655.1,136.9 655.6,136.9 656.1,136.9 656.6,136.8 657.1,136.8 657.6,136.8 658.1,136.7 658.6,136.7 659.1,136.6 659.6,136.5 660.1,136.4 660.6,136.5 661.1,136.4 661.6,136.3 662.1,136.1 662.6,136.1 663.1,136.1 663.6,136 664.1,135.9 664.6,135.7 665.1,135.7 665.6,135.5 666.1,135.4 666.6,135.1 667.1,134.7 667.6,134.5 668.1,134.2 668.6,133.8 669.1,133.5 669.6,133 670.1,132.4 670.6,131.7 671.1,130.9 671.6,129.9 672.1,128.6 672.6,127 673.1,125.4 673.6,123.4 674.1,121.6 674.6,119.7 675.1,117.6 675.6,115 676.1,112.2 676.6,109.6 677.1,107.8 677.6,106.4 678.1,105.2 678.6,104.4 679.1,104.3 679.6,105.2 680.1,106.8 680.6,108.6 681.1,110.4 681.6,112.8 682.1,115.9 682.6,119.4 683.1,123.7 683.6,129.1 684.1,135.1 684.6,140.9 685.1,146.1 685.6,151 686.1,156 686.6,160.2 687.1,163.3 687.6,165.3 688.1,166.9 688.6,168 689.1,168 689.6,167.1 690.1,165.5 690.6,163.6 691.1,161.8 691.6,159.1 692.1,156 692.6,153.4 693.1,151.4 693.6,150 694.1,148.4 694.6,147 695.1,145.7 695.6,144.6 696.1,143.5 696.6,142.4 697.1,141.4 697.6,141 698.1,140.4 698.6,140.1 699.1,139.7 699.6,139.4 700.1,139 700.6,138.5 701.1,138.2 701.6,137.9 702.1,137.7 702.6,137.5 703.1,137.3 703.6,137.2 704.1,137.1 704.6,137 705.1,137 705.6,136.9 706.1,136.8 706.6,136.8 707.1,136.8 707.6,136.8 708.1,136.7 708.6,136.7 709.1,136.7 709.6,136.6 710.1,136.5 710.6,136.6 711.1,136.6 711.6,136.6 712.1,136.6 712.6,136.6 713.1,136.5 713.6,136.5 714.1,136.4 714.6,136.5 715.1,136.5 715.6,136.4 716.1,136.2 716.6,136.2 717.1,136.2 717.6,136.1 718.1,136.1 718.6,136.1 719.1,136.2 719.6,136 720.1,135.9 720.6,135.9 721.1,136 721.6,135.9 722.1,136 722.6,136 723.1,136.2 723.6,136.2 724.1,136.1 724.6,136.1 725.1,136.2 725.6,136.1 726.1,136.1 726.6,136.1 727.1,136.2 727.6,136.2 728.1,136.1 728.6,135.9 729.1,135.9 729.6,136 730.1,136.1 730.6,135.9 731.1,135.8 731.6,135.6 732.1,135.8 732.6,135.9 733.1,136 733.6,136 734.1,135.9 734.6,135.9 735.1,135.8 735.6,135.8 736.1,135.8 736.6,135.8 737.1,135.9 737.6,135.8 738.1,135.6 738.6,135.5 739.1,135.7 739.6,135.6 740.1,135.5 740.6,135.4 741.1,135.6 741.6,135.6 742.1,135.6 742.6,135.4 743.1,135.5 743.6,135.5 744.1,135.5 744.6,135.5 745.1,135.5 745.6,135.5 746.1,135.5 746.6,135.5 747.1,135.4 747.6,135.4 748.1,135.4 748.6,135.5 749.1,135.5 749.6,135.6 750.1,135.5 750.6,135.4 751.1,135.3 751.6,135.3 752.1,135.3 752.6,135.2 753.1,135.2 753.6,135.4 754.1,135.4 754.6,135.5 755.1,135.3 755.6,135.3 756.1,135.1 756.6,135.2 757.1,135.3 757.6,135.4 758.1,135.5 758.6,135.3 759.1,135.2 759.6,135.1 760.1,135.2 760.6,135 761.1,134.9 761.6,134.7 762.1,134.9 762.6,134.8 763.1,134.9 763.6,134.7 764.1,134.7 764.6,134.7 765.1,134.8 765.6,134.8 766.1,134.5 766.6,134.3 767.1,134.4 767.6,134.4 768.1,134.4 768.6,134.1 769.1,133.8 769.6,133.1 770.1,132.3 770.6,131.2 771.1,130.3 771.6,129.2 772.1,128 772.6,126 773.1,123.7 773.6,121 774.1,118.4 774.6,115.7 775.1,113.5 775.6,111.6 776.1,110 776.6,108.5 777.1,107.5 777.6,106.9 778.1,107 778.6,107.8 779.1,109.1 779.6,110.7 780.1,113 780.6,116.1 781.1,119.3 781.6,122.7 782.1,126.2 782.6,130 783.1,133.6 783.6,137.6 784.1,141.7 784.6,146.2 785.1,150.7 785.6,155.1 786.1,158.8 786.6,161.5 787.1,163.6 787.6,165.5 788.1,166.9 788.6,167.2 789.1,166.5 789.6,165.1 790.1,163.3 790.6,161.7 791.1,160.4 791.6,158.7 792.1,156.9 792.6,155.1 793.1,153.4 793.6,151.8 794.1,150.2 794.6,149 795.1,147.6 795.6,146.2 796.1,145 796.6,143.8 797.1,142.8 797.6,141.6 798.1,140.8 798.6,140.1 799.1,139.6 799.6,139 800.1,138.7 800.6,138.4 801.1,138.2 801.6,138 802.1,137.8 802.6,137.6 803.1,137.5 803.6,137.3 804.1,137.4 804.6,137.3 805.1,137.2 805.6,137.2 806.1,137 806.6,137.1 807.1,136.9 807.6,137 808.1,136.8 808.6,136.9 809.1,136.8 809.6,137 810.1,137 810.6,136.9 811.1,136.8 811.6,136.6 812.1,136.7 812.6,136.8 813.1,136.9 813.6,136.9 814.1,136.7 814.6,136.6 815.1,136.7 815.6,136.7 816.1,136.6 816.6,136.3 817.1,136.2 817.6,136.4 818.1,136.4 818.6,136.5 819.1,136.4 819.6,136.5 820.1,136.5 820.6,136.4 821.1,136.3 821.6,136.4 822.1,136.3 822.6,136.2 823.1,136.2 823.6,136.4 824.1,136.5 824.6,136.2 825.1,136.1 825.6,136.1 826.1,136.2 826.6,136.3 827.1,136.2 827.6,136.2 828.1,136.3 828.6,136.5 829.1,136.3 829.6,136.1 830.1,136 830.6,136.1 831.1,136.3 831.6,136.2 832.1,136.1 832.6,136 833.1,136 833.6,136 834.1,135.9 834.6,135.9 835.1,136 835.6,136.1 836.1,136.1 836.6,136.1 837.1,136.1 837.6,136 838.1,136 838.6,136 839.1,135.9 839.6,135.9 840.1,135.9 840.6,136 841.1,136.1 841.6,136 842.1,135.9 842.6,135.9 843.1,136 843.6,136 844.1,136.1 844.6,136.1 845.1,136.1 845.6,136 846.1,136.1 846.6,136.1 847.1,136.2 847.6,136.2 848.1,136.1 848.4,136" fill="none" stroke="#5a62b2" stroke-width="2.3" stroke-linejoin="round" stroke-linecap="round"/>
<path d="M526.6,221.4 527.1,221.6 527.6,221.5 528.1,221.6 528.6,221.5 529.1,221.5 529.6,221.4 530.1,221.3 530.6,221.3 531.1,221.3 531.6,221.3 532.1,221.3 532.6,221.4 533.1,221.3 533.6,221.3 534.1,221.3 534.6,221.6 535.1,221.5 535.6,221.4 536.1,221.2 536.6,221.3 537.1,221.2 537.6,221.2 538.1,221.3 538.6,221.4 539.1,221.5 539.6,221.4 540.1,221.3 540.6,221.3 541.1,221.4 541.6,221.3 542.1,221.3 542.6,221.3 543.1,221.3 543.6,221.3 544.1,221.3 544.6,221.4 545.1,221.4 545.6,221.5 546.1,221.3 546.6,221.3 547.1,221.2 547.6,221.2 548.1,221.3 548.6,221.3 549.1,221.4 549.6,221.4 550.1,221.3 550.6,221.2 551.1,221.2 551.6,221.2 552.1,221.1 552.6,221 553.1,220.9 553.6,221.1 554.1,221.1 554.6,221.3 555.1,221.2 555.6,221.2 556.1,221 556.6,221 557.1,221 557.6,220.9 558.1,220.9 558.6,220.9 559.1,221 559.6,220.9 560.1,220.7 560.6,220.7 561.1,220.5 561.6,220.8 562.1,220.8 562.6,220.9 563.1,220.7 563.6,220.4 564.1,220.5 564.6,220.6 565.1,220.6 565.6,220.4 566.1,220.3 566.6,220.1 567.1,219.7 567.6,219.2 568.1,218.7 568.6,218.2 569.1,217.5 569.6,216.7 570.1,215.6 570.6,214.4 571.1,213 571.6,211.3 572.1,209.4 572.6,207.3 573.1,205.2 573.6,203.1 574.1,200.2 574.6,196.9 575.1,193.6 575.6,190.8 576.1,188.8 576.6,186.8 577.1,184.8 577.6,183.4 578.1,182.8 578.6,183.2 579.1,184.1 579.6,185.6 580.1,187.2 580.6,190 581.1,193.2 581.6,197.7 582.1,203.6 582.6,210.3 583.1,216.8 583.6,222.4 584.1,227.9 584.6,233.6 585.1,238.7 585.6,243.1 586.1,246.5 586.6,249.2 587.1,251.6 587.6,253.6 588.1,254.9 588.6,255.6 589.1,255.4 589.6,254.2 590.1,252.6 590.6,250.8 591.1,249.1 591.6,246.9 592.1,244.2 592.6,241.4 593.1,238.8 593.6,236.6 594.1,234.9 594.6,232.8 595.1,230.8 595.6,228.9 596.1,227.2 596.6,225.8 597.1,224.7 597.6,223.8 598.1,223.2 598.6,222.9 599.1,222.7 599.6,222.6 600.1,222.3 600.6,222 601.1,222 601.6,221.9 602.1,221.8 602.6,221.6 603.1,221.4 603.6,221.4 604.1,221.4 604.6,221.2 605.1,220.9 605.6,220.6 606.1,220.5 606.6,220.5 607.1,220.4 607.6,220.3 608.1,220.2 608.6,220.1 609.1,219.9 609.6,219.9 610.1,219.8 610.6,219.7 611.1,219.6 611.6,219.5 612.1,219.7 612.6,219.7 613.1,219.7 613.6,219.6 614.1,219.5 614.6,219.3 615.1,219.4 615.6,219.3 616.1,219.5 616.6,219.4 617.1,219.4 617.6,219.3 618.1,219.2 618.6,219.2 619.1,219.3 619.6,219.3 620.1,219.2 620.6,219.1 621.1,219.2 621.6,219.4 622.1,219.6 622.6,219.8 623.1,219.9 623.6,220.3 624.1,220.6 624.6,221 625.1,221.3 625.6,221.7 626.1,222.1 626.6,222.3 627.1,222.6 627.6,222.8 628.1,223.3 628.6,223.6 629.1,224.1 629.6,224.3 630.1,224.3 630.6,224.4 631.1,224.3 631.6,224.2 632.1,223.9 632.6,224 633.1,224 633.6,223.9 634.1,223.6 634.6,223.7 635.1,223.5 635.6,223.4 636.1,223.2 636.6,223.1 637.1,223 637.6,223 638.1,223 638.6,223 639.1,222.8 639.6,222.7 640.1,222.8 640.6,222.8 641.1,222.7 641.6,222.6 642.1,222.5 642.6,222.5 643.1,222.6 643.6,222.5 644.1,222.3 644.6,222.4 645.1,222.2 645.6,222.3 646.1,222.1 646.6,222.2 647.1,222.3 647.6,222.3 648.1,222.2 648.6,222.1 649.1,222 649.6,222 650.1,222 650.6,222.2 651.1,222.1 651.6,222.2 652.1,222.2 652.6,222.3 653.1,222.3 653.6,222.3 654.1,222.2 654.6,222.2 655.1,222 655.6,222 656.1,221.9 656.6,222 657.1,222 657.6,221.8 658.1,221.8 658.6,221.7 659.1,221.8 659.6,221.9 660.1,221.8 660.6,221.7 661.1,221.6 661.6,221.6 662.1,221.4 662.6,221.2 663.1,221.2 663.6,221.2 664.1,221.2 664.6,221 665.1,221 665.6,220.7 666.1,220.4 666.6,219.8 667.1,219.3 667.6,218.7 668.1,218 668.6,217.3 669.1,216.3 669.6,215.5 670.1,214.1 670.6,212.7 671.1,210.9 671.6,209 672.1,206.6 672.6,204.3 673.1,202 673.6,199.5 674.1,196.5 674.6,192.7 675.1,189.2 675.6,186 676.1,183.6 676.6,181.5 677.1,179.7 677.6,178.6 678.1,178.4 678.6,179.5 679.1,181.1 679.6,182.8 680.1,185.3 680.6,188.9 681.1,193.1 681.6,198.7 682.1,205 682.6,212.1 683.1,219.1 683.6,225.9 684.1,233.5 684.6,241.1 685.1,247.9 685.6,252.9 686.1,257.1 686.6,260.9 687.1,263.6 687.6,264.4 688.1,263.4 688.6,261.8 689.1,259.9 689.6,258.2 690.1,255.6 690.6,252.4 691.1,249.4 691.6,246.6 692.1,244.1 692.6,241.5 693.1,238.9 693.6,236.4 694.1,233.8 694.6,231.6 695.1,229.6 695.6,228 696.1,227 696.6,226.3 697.1,225.7 697.6,224.9 698.1,224.3 698.6,223.8 699.1,223.3 699.6,223 700.1,222.6 700.6,222.5 701.1,222.1 701.6,222.1 702.1,222.1 702.6,222.1 703.1,222 703.6,221.8 704.1,221.8 704.6,221.8 705.1,221.7 705.6,221.6 706.1,221.7 706.6,221.6 707.1,221.6 707.6,221.6 708.1,221.6 708.6,221.8 709.1,221.7 709.6,221.7 710.1,221.4 710.6,221.5 711.1,221.4 711.6,221.4 712.1,221.5 712.6,221.4 713.1,221.6 713.6,221.5 714.1,221.5 714.6,221.5 715.1,221.5 715.6,221.4 716.1,221.3 716.6,221.4 717.1,221.5 717.6,221.6 718.1,221.6 718.6,221.6 719.1,221.5 719.6,221.4 720.1,221.3 720.6,221.2 721.1,221.3 721.6,221.3 722.1,221.4 722.6,221.3 723.1,221.4 723.6,221.3 724.1,221.4 724.6,221.4 725.1,221.4 725.6,221.4 726.1,221.4 726.6,221.3 727.1,221.3 727.6,221.3 728.1,221.3 728.6,221.2 729.1,221.2 729.6,221.1 730.1,221.1 730.6,221.1 731.1,221.2 731.6,221 732.1,221 732.6,220.9 733.1,221.1 733.6,221.1 734.1,221.2 734.6,221.2 735.1,221.2 735.6,221 736.1,221.1 736.6,221 737.1,221.1 737.6,221.1 738.1,221.1 738.6,221 739.1,220.9 739.6,220.9 740.1,221 740.6,221 741.1,220.8 741.6,220.6 742.1,220.5 742.6,220.5 743.1,220.4 743.6,220.5 744.1,220.5 744.6,220.5 745.1,220.2 745.6,220.2 746.1,220.1 746.6,220 747.1,219.9 747.6,219.9 748.1,220 748.6,220 749.1,219.8 749.6,219.7 750.1,219.6 750.6,219.6 751.1,219.7 751.6,219.5 752.1,219.6 752.6,219.4 753.1,219.4 753.6,219.1 754.1,219.1 754.6,219.1 755.1,219 755.6,219 756.1,219 756.6,219 757.1,219.1 757.6,219 758.1,219.1 758.6,219 759.1,219.1 759.6,218.9 760.1,218.9 760.6,218.9 761.1,219.1 761.6,219 762.1,219.1 762.6,218.9 763.1,219.1 763.6,219.1 764.1,219.1 764.6,219.1 765.1,219 765.6,219.1 766.1,218.9 766.6,219 767.1,219.1 767.6,219.1 768.1,219.1 768.6,218.5 769.1,217.2 769.6,215.5 770.1,213.6 770.6,211.4 771.1,209.3 771.6,206.9 772.1,204.3 772.6,201 773.1,197.9 773.6,194.4 774.1,191.2 774.6,188.2 775.1,185.9 775.6,184 776.1,182 776.6,180.2 777.1,178.9 777.6,178.3 778.1,178.8 778.6,179.9 779.1,181.6 779.6,183.8 780.1,187.1 780.6,190.9 781.1,195.2 781.6,200.3 782.1,206.5 782.6,212.9 783.1,219.5 783.6,225.7 784.1,231.7 784.6,237.5 785.1,243.6 785.6,249 786.1,253.8 786.6,257.3 787.1,260.6 787.6,263.5 788.1,265.3 788.6,265.6 789.1,264.7 789.6,263.1 790.1,261.2 790.6,259.2 791.1,256.3 791.6,253 792.1,249.5 792.6,246.3 793.1,243.7 793.6,241.4 794.1,239 794.6,236.6 795.1,234.4 795.6,232.6 796.1,230.8 796.6,229.2 797.1,227.8 797.6,226.8 798.1,226.1 798.6,225.5 799.1,225 799.6,224.5 800.1,224.1 800.6,223.7 801.1,223.1 801.6,222.6 802.1,222.5 802.6,222.5 803.1,222.5 803.6,222.4 804.1,222.3 804.6,222.2 805.1,222 805.6,222.1 806.1,222 806.6,222.1 807.1,221.9 807.6,221.9 808.1,221.8 808.6,221.8 809.1,221.7 809.6,221.8 810.1,221.7 810.6,221.8 811.1,221.6 811.6,221.5 812.1,221.6 812.6,221.6 813.1,221.6 813.6,221.3 814.1,221.3 814.6,221.3 815.1,221.5 815.6,221.5 816.1,221.5 816.6,221.5 817.1,221.5 817.6,221.5 818.1,221.6 818.6,221.5 819.1,221.4 819.6,221.3 820.1,221.2 820.6,221.2 821.1,221.1 821.6,221.3 822.1,221.1 822.6,221.1 823.1,221.1 823.6,221.3 824.1,221.3 824.6,221.3 825.1,221.2 825.6,221.4 826.1,221.4 826.6,221.5 827.1,221.5 827.6,221.4 828.1,221.3 828.6,221 829.1,221.1 829.6,221.2 830.1,221.3 830.6,221.3 831.1,221.3 831.6,221.3 832.1,221.2 832.6,221.4 833.1,221.4 833.6,221.6 834.1,221.6 834.6,221.6 835.1,221.5 835.6,221.4 836.1,221.4 836.6,221.2 837.1,221.3 837.6,221.5 838.1,221.6 838.6,221.5 839.1,221.3 839.6,221.4 840.1,221.5 840.6,221.5 841.1,221.4 841.6,221.3 842.1,221.4 842.6,221.4 843.1,221.5 843.6,221.5 844.1,221.4 844.6,221.3 845.1,221.4 845.6,221.5 846.1,221.4 846.6,221.4 847.1,221.5 847.6,221.5 848.1,221.5 848.4,221.4" fill="none" stroke="#cc3f5c" stroke-width="2.3" stroke-linejoin="round" stroke-linecap="round"/>
<path d="M526.6,282.6 527.1,282.7 527.6,282.6 528.1,282.3 528.6,282.4 529.1,282.6 529.6,282.7 530.1,282.7 530.6,282.6 531.1,283 531.6,282.9 532.1,282.9 532.6,282.7 533.1,282.7 533.6,282.7 534.1,282.6 534.6,282.6 535.1,282.6 535.6,282.7 536.1,282.8 536.6,282.9 537.1,282.7 537.6,282.6 538.1,282.5 538.6,282.5 539.1,282.7 539.6,282.7 540.1,282.8 540.6,282.6 541.1,282.5 541.6,282.4 542.1,282.4 542.6,282.6 543.1,282.7 543.6,282.6 544.1,282.3 544.6,282.2 545.1,282.1 545.6,282.4 546.1,282.6 546.6,282.6 547.1,282.5 547.6,282.4 548.1,282.4 548.6,282.4 549.1,282.4 549.6,282.3 550.1,282.4 550.6,282.1 551.1,282.3 551.6,282.4 552.1,282.5 552.6,282.5 553.1,282.3 553.6,282.6 554.1,282.7 554.6,282.6 555.1,282.4 555.6,282.4 556.1,282.4 556.6,282.3 557.1,282.2 557.6,282.2 558.1,282.3 558.6,282.2 559.1,282.2 559.6,282 560.1,281.9 560.6,281.8 561.1,282 561.6,282.2 562.1,282.4 562.6,282.4 563.1,282.4 563.6,282.2 564.1,282 564.6,281.8 565.1,281.8 565.6,281.8 566.1,281.9 566.6,282 567.1,281.7 567.6,281.5 568.1,281.2 568.6,281.2 569.1,280.9 569.6,280.6 570.1,280.3 570.6,279.9 571.1,279.8 571.6,279.4 572.1,279.1 572.6,278.7 573.1,278.5 573.6,278.2 574.1,277.7 574.6,277.3 575.1,276.8 575.6,276.4 576.1,275.8 576.6,275.5 577.1,275.4 577.6,275.4 578.1,275.2 578.6,275.5 579.1,276 579.6,276.7 580.1,277.3 580.6,277.8 581.1,278.5 581.6,279.5 582.1,280.7 582.6,281.7 583.1,282.8 583.6,283.9 584.1,285.2 584.6,285.8 585.1,286.3 585.6,286.6 586.1,287.1 586.6,287.5 587.1,287.8 587.6,288 588.1,288 588.6,287.9 589.1,287.7 589.6,287.4 590.1,287.1 590.6,286.8 591.1,286.4 591.6,286 592.1,285.7 592.6,285.3 593.1,284.9 593.6,284.4 594.1,283.9 594.6,283.4 595.1,282.9 595.6,282.4 596.1,282.2 596.6,282 597.1,281.7 597.6,281.7 598.1,281.5 598.6,282 599.1,281.8 599.6,281.8 600.1,281.8 600.6,281.7 601.1,281.6 601.6,281.5 602.1,281.7 602.6,281.9 603.1,282 603.6,281.9 604.1,281.8 604.6,281.8 605.1,281.7 605.6,281.6 606.1,281.5 606.6,281.4 607.1,281.3 607.6,281.2 608.1,281.2 608.6,281.3 609.1,281.3 609.6,281.2 610.1,281.1 610.6,281 611.1,280.9 611.6,281 612.1,281.1 612.6,281 613.1,280.8 613.6,280.7 614.1,280.7 614.6,280.5 615.1,280.6 615.6,280.6 616.1,280.8 616.6,280.8 617.1,280.8 617.6,280.6 618.1,280.4 618.6,280.5 619.1,280.7 619.6,280.7 620.1,280.6 620.6,280.8 621.1,281.1 621.6,281.6 622.1,281.7 622.6,282 623.1,282 623.6,282.1 624.1,282 624.6,282 625.1,282.4 625.6,282.9 626.1,283.4 626.6,283.7 627.1,283.7 627.6,284.1 628.1,284.2 628.6,284.6 629.1,284.2 629.6,284.3 630.1,284.2 630.6,284.4 631.1,284.2 631.6,284.1 632.1,284 632.6,284 633.1,283.8 633.6,283.6 634.1,283.6 634.6,283.8 635.1,284 635.6,284.1 636.1,284 636.6,283.7 637.1,283.4 637.6,283.2 638.1,283.3 638.6,283.5 639.1,283.6 639.6,283.5 640.1,283.4 640.6,283.5 641.1,283.6 641.6,283.4 642.1,283.2 642.6,283.1 643.1,283.2 643.6,283.3 644.1,283.2 644.6,283.3 645.1,283.2 645.6,283.3 646.1,283.1 646.6,283 647.1,283 647.6,283 648.1,283.1 648.6,283.1 649.1,283 649.6,282.9 650.1,282.9 650.6,283 651.1,283.1 651.6,283 652.1,283.3 652.6,283.2 653.1,282.9 653.6,282.6 654.1,282.7 654.6,283 655.1,283.2 655.6,283.1 656.1,283.1 656.6,282.8 657.1,282.6 657.6,282.3 658.1,282.5 658.6,282.6 659.1,282.7 659.6,282.6 660.1,282.4 660.6,282.3 661.1,282.3 661.6,282.4 662.1,282.5 662.6,282.5 663.1,282.4 663.6,282.3 664.1,282.1 664.6,282.1 665.1,282 665.6,281.9 666.1,281.6 666.6,281.5 667.1,281.2 667.6,281 668.1,280.9 668.6,280.6 669.1,280.1 669.6,279.7 670.1,279.6 670.6,279.5 671.1,279.2 671.6,278.7 672.1,278.3 672.6,277.6 673.1,277.2 673.6,276.8 674.1,276.4 674.6,276 675.1,275.6 675.6,275.5 676.1,275.3 676.6,275.3 677.1,275.2 677.6,275.3 678.1,275.3 678.6,275.7 679.1,276.4 679.6,277.5 680.1,278.5 680.6,279.3 681.1,280.3 681.6,281.7 682.1,283.3 682.6,284.9 683.1,286.3 683.6,287.6 684.1,288.3 684.6,288.9 685.1,289.4 685.6,289.7 686.1,289.9 686.6,290.2 687.1,290.3 687.6,290.2 688.1,289.7 688.6,289.1 689.1,288.3 689.6,287.8 690.1,287.3 690.6,287 691.1,286.6 691.6,286.2 692.1,285.9 692.6,285.5 693.1,285 693.6,284.8 694.1,284.5 694.6,284.2 695.1,283.7 695.6,283.6 696.1,283.5 696.6,283.2 697.1,283 697.6,282.7 698.1,282.9 698.6,282.7 699.1,282.6 699.6,282.6 700.1,282.7 700.6,282.6 701.1,282.3 701.6,282.1 702.1,282.2 702.6,281.8 703.1,281.9 703.6,281.8 704.1,282.2 704.6,282 705.1,281.9 705.6,281.6 706.1,281.8 706.6,281.8 707.1,282.1 707.6,282.1 708.1,281.8 708.6,281.6 709.1,281.5 709.6,281.8 710.1,281.9 710.6,281.7 711.1,281.6 711.6,281.6 712.1,281.6 712.6,281.6 713.1,281.4 713.6,281.6 714.1,281.6 714.6,281.7 715.1,281.5 715.6,281.3 716.1,281.3 716.6,281.3 717.1,281.4 717.6,281.3 718.1,281.1 718.6,281 719.1,281.2 719.6,281.2 720.1,281.3 720.6,281.3 721.1,281.3 721.6,281.1 722.1,280.8 722.6,281 723.1,281.2 723.6,281.4 724.1,281.2 724.6,281.2 725.1,281 725.6,281.2 726.1,281.2 726.6,281.4 727.1,281.5 727.6,281.4 728.1,281.3 728.6,281.2 729.1,281.4 729.6,281.4 730.1,281.3 730.6,281.2 731.1,281.4 731.6,281.4 732.1,281.5 732.6,281.7 733.1,281.8 733.6,281.7 734.1,281.7 734.6,281.6 735.1,281.8 735.6,281.7 736.1,281.7 736.6,281.6 737.1,281.7 737.6,281.8 738.1,281.5 738.6,281.3 739.1,281.6 739.6,281.7 740.1,281.9 740.6,281.6 741.1,281.7 741.6,281.5 742.1,281.6 742.6,281.7 743.1,281.8 743.6,281.7 744.1,281.7 744.6,281.7 745.1,281.7 745.6,281.7 746.1,281.6 746.6,281.6 747.1,281.9 747.6,281.9 748.1,281.9 748.6,281.5 749.1,281.4 749.6,281.5 750.1,281.5 750.6,281.6 751.1,281.5 751.6,281.4 752.1,281.4 752.6,281.4 753.1,281.4 753.6,281.2 754.1,281.1 754.6,280.8 755.1,280.9 755.6,280.8 756.1,280.9 756.6,280.9 757.1,280.8 757.6,280.7 758.1,280.5 758.6,280.7 759.1,280.7 759.6,281 760.1,280.9 760.6,281.1 761.1,281 761.6,281.2 762.1,281.3 762.6,281.6 763.1,281.8 763.6,281.7 764.1,281.7 764.6,281.6 765.1,281.9 765.6,281.9 766.1,282.2 766.6,282.5 767.1,282.8 767.6,282.9 768.1,282.9 768.6,282.9 769.1,283.1 769.6,283.3 770.1,283.2 770.6,282.9 771.1,282.1 771.6,281.4 772.1,280.8 772.6,280.5 773.1,280 773.6,279.4 774.1,279 774.6,278.5 775.1,278.1 775.6,277.7 776.1,277.5 776.6,277.6 777.1,277.7 777.6,278 778.1,278.8 778.6,279.5 779.1,280.3 779.6,281 780.1,281.5 780.6,282.5 781.1,283.1 781.6,284 782.1,284.7 782.6,285.5 783.1,286.4 783.6,287.1 784.1,287.8 784.6,288.2 785.1,288.7 785.6,289 786.1,289.5 786.6,289.8 787.1,290.1 787.6,289.9 788.1,289.6 788.6,289.1 789.1,288.8 789.6,288.5 790.1,287.9 790.6,287.5 791.1,287.1 791.6,286.9 792.1,286.5 792.6,286.1 793.1,285.7 793.6,285.4 794.1,285 794.6,284.4 795.1,283.9 795.6,283.6 796.1,283.3 796.6,283.1 797.1,283 797.6,282.8 798.1,282.6 798.6,282.3 799.1,282.5 799.6,282.5 800.1,282.3 800.6,282.1 801.1,282 801.6,282.1 802.1,281.8 802.6,281.6 803.1,281.5 803.6,281.7 804.1,281.6 804.6,281.5 805.1,281.2 805.6,281.4 806.1,281.4 806.6,281.6 807.1,281.5 807.6,281.6 808.1,281.5 808.6,281.5 809.1,281.4 809.6,281.4 810.1,281.5 810.6,281.4 811.1,281.5 811.6,281.4 812.1,281.6 812.6,281.6 813.1,281.6 813.6,281.5 814.1,281.7 814.6,281.7 815.1,281.8 815.6,281.7 816.1,281.4 816.6,281.3 817.1,281.2 817.6,281.4 818.1,281.6 818.6,281.5 819.1,281.6 819.6,281.5 820.1,281.7 820.6,281.6 821.1,281.5 821.6,281.4 822.1,281.4 822.6,281.6 823.1,281.6 823.6,281.8 824.1,281.8 824.6,281.8 825.1,281.7 825.6,281.7 826.1,281.6 826.6,281.5 827.1,281.5 827.6,281.7 828.1,281.7 828.6,281.5 829.1,281.5 829.6,281.7 830.1,281.8 830.6,281.6 831.1,281.6 831.6,281.8 832.1,281.7 832.6,281.5 833.1,281.4 833.6,281.7 834.1,281.8 834.6,281.9 835.1,281.6 835.6,281.8 836.1,281.7 836.6,282.1 837.1,282 837.6,282.2 838.1,282 838.6,281.8 839.1,281.7 839.6,281.6 840.1,281.5 840.6,281.6 841.1,281.6 841.6,281.9 842.1,282.2 842.6,282.1 843.1,281.8 843.6,281.7 844.1,281.9 844.6,282.1 845.1,282 845.6,282.1 846.1,282.1 846.6,282.2 847.1,282.3 847.6,282.5 848.1,282.6 848.4,282.5" fill="none" stroke="#189fd9" stroke-width="2.5" stroke-linejoin="round" stroke-linecap="round"/>
<rect x="577.2" y="95" width="7.2" height="7.2" fill="#000"/>
<rect x="675.7" y="93.3" width="7.2" height="7.2" fill="#000"/>
<rect x="776.2" y="96.2" width="7.2" height="7.2" fill="#000"/>
<text x="538.6" y="85" font-size="18" textLength="58" lengthAdjust="spacingAndGlyphs" stroke="#000" stroke-width="0.4">TEMP-</text>
<text x="598.3" y="77.3" font-size="9.5" stroke="#000" stroke-width="0.3" font-family='"Liberation Serif", serif'>1</text>
<text x="602.2" y="85" font-size="19.5" stroke="#000" stroke-width="0.4" font-family='"Liberation Serif", serif'>O</text>
<text x="616.6" y="90.5" font-size="12.5" stroke="#000" stroke-width="0.3" font-family='"Liberation Serif", serif'>2</text>
<text x="698.2" y="82.6" font-size="15.5" textLength="144.9" lengthAdjust="spacingAndGlyphs" stroke="#000" stroke-width="0.4">E/CuNW@rGO/PMS</text>
<text x="711.1" y="178.4" font-size="15.5" textLength="130.6" lengthAdjust="spacingAndGlyphs" stroke="#000" stroke-width="0.4">CuNW@rGO/PMS</text>
<text x="715.8" y="274.5" font-size="15.2" textLength="66.7" lengthAdjust="spacingAndGlyphs" stroke="#000" stroke-width="0.4">PMS only</text>
<rect x="526.6" y="55.3" width="322.1" height="245.3" fill="none" stroke="#000" stroke-width="1.6"/>
<line x1="526.6" y1="300.6" x2="526.6" y2="307.4" stroke="#000" stroke-width="1.6"/>
<line x1="585.2" y1="300.6" x2="585.2" y2="307.4" stroke="#000" stroke-width="1.6"/>
<line x1="643.7" y1="300.6" x2="643.7" y2="307.4" stroke="#000" stroke-width="1.6"/>
<line x1="702.3" y1="300.6" x2="702.3" y2="307.4" stroke="#000" stroke-width="1.6"/>
<line x1="760.9" y1="300.6" x2="760.9" y2="307.4" stroke="#000" stroke-width="1.6"/>
<line x1="819.4" y1="300.6" x2="819.4" y2="307.4" stroke="#000" stroke-width="1.6"/>
<line x1="555.9" y1="300.6" x2="555.9" y2="304" stroke="#000" stroke-width="1.6"/>
<line x1="614.4" y1="300.6" x2="614.4" y2="304" stroke="#000" stroke-width="1.6"/>
<line x1="673" y1="300.6" x2="673" y2="304" stroke="#000" stroke-width="1.6"/>
<line x1="731.6" y1="300.6" x2="731.6" y2="304" stroke="#000" stroke-width="1.6"/>
<line x1="790.1" y1="300.6" x2="790.1" y2="304" stroke="#000" stroke-width="1.6"/>
<line x1="848.7" y1="300.6" x2="848.7" y2="304" stroke="#000" stroke-width="1.6"/>
<text x="526.6" y="326.2" font-size="18.2" text-anchor="middle" textLength="42.4" lengthAdjust="spacingAndGlyphs" stroke="#000" stroke-width="0.4">3330</text>
<text x="585.2" y="326.2" font-size="18.2" text-anchor="middle" textLength="42.4" lengthAdjust="spacingAndGlyphs" stroke="#000" stroke-width="0.4">3340</text>
<text x="643.7" y="326.2" font-size="18.2" text-anchor="middle" textLength="42.4" lengthAdjust="spacingAndGlyphs" stroke="#000" stroke-width="0.4">3350</text>
<text x="702.3" y="326.2" font-size="18.2" text-anchor="middle" textLength="42.4" lengthAdjust="spacingAndGlyphs" stroke="#000" stroke-width="0.4">3360</text>
<text x="760.9" y="326.2" font-size="18.2" text-anchor="middle" textLength="42.4" lengthAdjust="spacingAndGlyphs" stroke="#000" stroke-width="0.4">3370</text>
<text x="819.4" y="326.2" font-size="18.2" text-anchor="middle" textLength="42.4" lengthAdjust="spacingAndGlyphs" stroke="#000" stroke-width="0.4">3380</text>
<text x="687.7" y="361" font-size="25" text-anchor="middle" textLength="209.5" lengthAdjust="spacingAndGlyphs" stroke="#000" stroke-width="0.4">Magnetic Field (G)</text>
<text x="495.3" y="178" font-size="25" text-anchor="middle" textLength="162.5" lengthAdjust="spacingAndGlyphs" stroke="#000" stroke-width="0.4" transform="rotate(-90 495.3 178)">Intensity (a.u.)</text>
<text x="870.6" y="45.8" font-size="32" stroke="#000" stroke-width="0.4">c</text>
<path d="M945.7,133.1 946.2,133.1 946.7,133.1 947.2,133.1 947.7,133.1 948.2,133.1 948.7,133.1 949.2,133.1 949.7,133 950.2,133 950.7,133 951.2,133 951.7,133 952.2,133 952.7,133 953.2,132.9 953.7,132.9 954.2,132.9 954.7,132.9 955.2,132.9 955.7,132.8 956.2,132.8 956.7,132.8 957.2,132.8 957.7,132.7 958.2,132.7 958.7,132.7 959.2,132.7 959.7,132.6 960.2,132.6 960.7,132.6 961.2,132.5 961.7,132.5 962.2,132.5 962.7,132.4 963.2,132.4 963.7,132.4 964.2,132.3 964.7,132.3 965.2,132.3 965.7,132.2 966.2,132.2 966.7,132.2 967.2,132.1 967.7,132.1 968.2,132 968.7,132 969.2,132 969.7,131.9 970.2,131.9 970.7,131.8 971.2,131.8 971.7,131.8 972.2,131.7 972.7,131.7 973.2,131.6 973.7,131.6 974.2,131.6 974.7,131.5 975.2,131.5 975.7,131.4 976.2,131.4 976.7,131.3 977.2,131.3 977.7,131.3 978.2,131.2 978.7,131.2 979.2,131.1 979.7,131.1 980.2,131 980.7,131 981.2,130.9 981.7,130.9 982.2,130.9 982.7,130.8 983.2,130.8 983.7,130.7 984.2,130.7 984.7,130.6 985.2,130.5 985.7,130.5 986.2,130.4 986.7,130.4 987.2,130.3 987.7,130.2 988.2,130.2 988.7,130.1 989.2,130.1 989.7,130 990.2,129.9 990.7,129.8 991.2,129.8 991.7,129.7 992.2,129.6 992.7,129.5 993.2,129.4 993.7,129.3 994.2,129.3 994.7,129.2 995.2,129.1 995.7,129 996.2,128.9 996.7,128.8 997.2,128.7 997.7,128.5 998.2,128.4 998.7,128.3 999.2,128.2 999.7,128 1000.2,127.9 1000.7,127.7 1001.2,127.5 1001.7,127.3 1002.2,127.1 1002.7,126.9 1003.2,126.7 1003.7,126.5 1004.2,126.2 1004.7,126 1005.2,125.7 1005.7,125.4 1006.2,125.1 1006.7,124.8 1007.2,124.5 1007.7,124.1 1008.2,123.7 1008.7,123.2 1009.2,122.7 1009.7,122.1 1010.2,121.5 1010.7,120.9 1011.2,120.3 1011.7,119.6 1012.2,118.9 1012.7,118.2 1013.2,117.6 1013.7,116.9 1014.2,116.3 1014.7,115.7 1015.2,115.2 1015.7,114.6 1016.2,114 1016.7,113.4 1017.2,112.8 1017.7,112.1 1018.2,111.5 1018.7,110.9 1019.2,110.2 1019.7,109.6 1020.2,109.1 1020.7,108.6 1021.2,108.1 1021.7,107.7 1022.2,107.3 1022.7,107 1023.2,106.8 1023.7,106.7 1024.2,106.7 1024.7,106.9 1025.2,107.4 1025.7,108 1026.2,108.8 1026.7,109.8 1027.2,110.9 1027.7,112.1 1028.2,113.3 1028.7,114.6 1029.2,115.8 1029.7,117.1 1030.2,118.8 1030.7,120.8 1031.2,123 1031.7,125.4 1032.2,127.9 1032.7,130.4 1033.2,132.8 1033.7,135.1 1034.2,137.1 1034.7,138.7 1035.2,140.1 1035.7,141.5 1036.2,143 1036.7,144.3 1037.2,145.7 1037.7,146.9 1038.2,148 1038.7,148.9 1039.2,149.7 1039.7,150.2 1040.2,150.5 1040.7,150.6 1041.2,150.3 1041.7,149.8 1042.2,149.2 1042.7,148.3 1043.2,147.4 1043.7,146.3 1044.2,145.3 1044.7,144.2 1045.2,143.2 1045.7,142.2 1046.2,141.2 1046.7,140 1047.2,138.9 1047.7,137.6 1048.2,136.4 1048.7,135 1049.2,133.7 1049.7,132.4 1050.2,131 1050.7,129.7 1051.2,128.3 1051.7,127 1052.2,125.7 1052.7,124.4 1053.2,123.2 1053.7,122 1054.2,120.6 1054.7,119.2 1055.2,117.8 1055.7,116.3 1056.2,114.7 1056.7,113.2 1057.2,111.7 1057.7,110.3 1058.2,108.8 1058.7,107.5 1059.2,106.2 1059.7,105 1060.2,104 1060.7,103.1 1061.2,102.3 1061.7,101.7 1062.2,101.3 1062.7,101.1 1063.2,101.2 1063.7,101.6 1064.2,102.3 1064.7,103.4 1065.2,104.7 1065.7,106.1 1066.2,107.7 1066.7,109.3 1067.2,111 1067.7,112.7 1068.2,114.6 1068.7,116.9 1069.2,119.6 1069.7,122.6 1070.2,125.6 1070.7,128.7 1071.2,131.7 1071.7,134.5 1072.2,137.1 1072.7,139.2 1073.2,140.9 1073.7,142.6 1074.2,144.2 1074.7,145.8 1075.2,147.3 1075.7,148.6 1076.2,149.7 1076.7,150.5 1077.2,151 1077.7,151.1 1078.2,150.7 1078.7,149.8 1079.2,148.6 1079.7,147.1 1080.2,145.4 1080.7,143.6 1081.2,141.9 1081.7,140.3 1082.2,139 1082.7,137.8 1083.2,136.4 1083.7,135 1084.2,133.6 1084.7,132.1 1085.2,130.7 1085.7,129.4 1086.2,128.1 1086.7,126.9 1087.2,125.9 1087.7,125.1 1088.2,124.4 1088.7,124 1089.2,123.9 1089.7,124.1 1090.2,124.5 1090.7,125.3 1091.2,126.2 1091.7,127.4 1092.2,128.6 1092.7,129.9 1093.2,131.3 1093.7,132.7 1094.2,134 1094.7,135.5 1095.2,137.2 1095.7,139.1 1096.2,141.2 1096.7,143.3 1097.2,145.4 1097.7,147.3 1098.2,149.1 1098.7,150.7 1099.2,152 1099.7,153 1100.2,154 1100.7,155 1101.2,156 1101.7,156.8 1102.2,157.6 1102.7,158.2 1103.2,158.6 1103.7,158.8 1104.2,158.7 1104.7,158.3 1105.2,157.7 1105.7,156.8 1106.2,155.8 1106.7,154.7 1107.2,153.6 1107.7,152.6 1108.2,151.4 1108.7,150.2 1109.2,148.8 1109.7,147.4 1110.2,145.9 1110.7,144.3 1111.2,142.8 1111.7,141.3 1112.2,139.7 1112.7,138.3 1113.2,136.8 1113.7,135.4 1114.2,133.9 1114.7,132.3 1115.2,130.8 1115.7,129.3 1116.2,127.7 1116.7,126.2 1117.2,124.8 1117.7,123.4 1118.2,122.2 1118.7,121 1119.2,119.9 1119.7,118.9 1120.2,118 1120.7,117 1121.2,116 1121.7,115 1122.2,114.1 1122.7,113.2 1123.2,112.4 1123.7,111.6 1124.2,110.9 1124.7,110.4 1125.2,109.9 1125.7,109.6 1126.2,109.4 1126.7,109.4 1127.2,109.8 1127.7,110.5 1128.2,111.5 1128.7,112.8 1129.2,114.2 1129.7,115.7 1130.2,117.3 1130.7,118.8 1131.2,120.3 1131.7,121.8 1132.2,123.5 1132.7,125.4 1133.2,127.4 1133.7,129.5 1134.2,131.5 1134.7,133.5 1135.2,135.3 1135.7,136.9 1136.2,138.2 1136.7,139.2 1137.2,140 1137.7,140.8 1138.2,141.6 1138.7,142.3 1139.2,142.9 1139.7,143.4 1140.2,143.8 1140.7,144 1141.2,144 1141.7,143.6 1142.2,142.9 1142.7,141.9 1143.2,140.7 1143.7,139.3 1144.2,137.9 1144.7,136.5 1145.2,135.1 1145.7,133.9 1146.2,132.8 1146.7,131.6 1147.2,130.2 1147.7,128.8 1148.2,127.4 1148.7,126 1149.2,124.6 1149.7,123.3 1150.2,122.2 1150.7,121.1 1151.2,120.2 1151.7,119.6 1152.2,119.1 1152.7,119 1153.2,119.2 1153.7,119.8 1154.2,120.7 1154.7,121.9 1155.2,123.3 1155.7,124.8 1156.2,126.4 1156.7,128 1157.2,129.6 1157.7,131.1 1158.2,132.7 1158.7,134.5 1159.2,136.4 1159.7,138.5 1160.2,140.5 1160.7,142.6 1161.2,144.5 1161.7,146.3 1162.2,147.8 1162.7,149.1 1163.2,150.1 1163.7,151 1164.2,151.9 1164.7,152.8 1165.2,153.6 1165.7,154.3 1166.2,154.8 1166.7,155.2 1167.2,155.5 1167.7,155.5 1168.2,155.2 1168.7,154.6 1169.2,153.7 1169.7,152.7 1170.2,151.6 1170.7,150.4 1171.2,149.2 1171.7,148 1172.2,146.9 1172.7,145.8 1173.2,144.6 1173.7,143.4 1174.2,142.1 1174.7,140.7 1175.2,139.4 1175.7,138.1 1176.2,136.8 1176.7,135.7 1177.2,134.6 1177.7,133.7 1178.2,133 1178.7,132.3 1179.2,131.7 1179.7,131.2 1180.2,130.6 1180.7,130.2 1181.2,129.7 1181.7,129.3 1182.2,128.8 1182.7,128.4 1183.2,127.9 1183.7,127.5 1184.2,127 1184.7,126.5 1185.2,125.9 1185.7,125.3 1186.2,124.6 1186.7,124 1187.2,123.4 1187.7,122.8 1188.2,122.2 1188.7,121.7 1189.2,121.3 1189.7,121 1190.2,120.7 1190.7,120.6 1191.2,120.7 1191.7,121 1192.2,121.5 1192.7,122.3 1193.2,123.2 1193.7,124.3 1194.2,125.5 1194.7,126.8 1195.2,128 1195.7,129.3 1196.2,130.6 1196.7,132.2 1197.2,134.1 1197.7,136.2 1198.2,138.4 1198.7,140.7 1199.2,142.9 1199.7,144.9 1200.2,146.8 1200.7,148.5 1201.2,149.7 1201.7,150.9 1202.2,152.1 1202.7,153.2 1203.2,154.3 1203.7,155.2 1204.2,156 1204.7,156.7 1205.2,157.1 1205.7,157.2 1206.2,157.1 1206.7,156.8 1207.2,156.3 1207.7,155.8 1208.2,155.1 1208.7,154.4 1209.2,153.7 1209.7,153 1210.2,152.3 1210.7,151.7 1211.2,151.1 1211.7,150.4 1212.2,149.8 1212.7,149.1 1213.2,148.3 1213.7,147.6 1214.2,146.9 1214.7,146.2 1215.2,145.5 1215.7,144.8 1216.2,144.1 1216.7,143.4 1217.2,142.8 1217.7,142.2 1218.2,141.6 1218.7,141.1 1219.2,140.6 1219.7,140.2 1220.2,139.8 1220.7,139.4 1221.2,139.1 1221.7,138.7 1222.2,138.3 1222.7,137.9 1223.2,137.6 1223.7,137.2 1224.2,136.9 1224.7,136.6 1225.2,136.3 1225.7,136 1226.2,135.7 1226.7,135.5 1227.2,135.2 1227.7,135 1228.2,134.9 1228.7,134.7 1229.2,134.6 1229.7,134.5 1230.2,134.4 1230.7,134.3 1231.2,134.3 1231.7,134.2 1232.2,134.2 1232.7,134.1 1233.2,134.1 1233.7,134 1234.2,134 1234.7,133.9 1235.2,133.9 1235.7,133.9 1236.2,133.8 1236.7,133.8 1237.2,133.8 1237.7,133.7 1238.2,133.7 1238.7,133.7 1239.2,133.7 1239.7,133.6 1240.2,133.6 1240.7,133.6 1241.2,133.6 1241.7,133.5 1242.2,133.5 1242.7,133.5 1243.2,133.5 1243.7,133.4 1244.2,133.4 1244.7,133.4 1245.2,133.4 1245.7,133.4 1246.2,133.3 1246.7,133.3 1247.2,133.3 1247.7,133.2 1248.2,133.2 1248.7,133.2 1249.2,133.1 1249.7,133.1 1250.2,133.1 1250.7,133 1251.2,133 1251.7,133 1252.2,132.9 1252.7,132.9 1253.2,132.9 1253.7,132.8 1254.2,132.8 1254.7,132.7 1255.2,132.7 1255.7,132.7 1256.2,132.6 1256.7,132.6 1257.2,132.5 1257.7,132.5 1258.2,132.5 1258.7,132.4 1259.2,132.4 1259.7,132.3 1260.2,132.3 1260.7,132.3 1261.2,132.2 1261.7,132.2 1262.2,132.1 1262.7,132.1 1263.2,132 1263.7,132 1264.2,132 1264.7,131.9 1265.2,131.9 1265.7,131.8 1266.2,131.8 1266.7,131.7 1267.2,131.7 1267.7,131.7 1268.2,131.6 1268.7,131.6 1269.2,131.5 1269.4,131.5" fill="none" stroke="#5a62b2" stroke-width="2.3" stroke-linejoin="round" stroke-linecap="round"/>
<path d="M945.7,224.3 946.2,224.3 946.7,224.3 947.2,224.3 947.7,224.3 948.2,224.3 948.7,224.3 949.2,224.3 949.7,224.3 950.2,224.3 950.7,224.3 951.2,224.3 951.7,224.3 952.2,224.2 952.7,224.2 953.2,224.2 953.7,224.2 954.2,224.2 954.7,224.2 955.2,224.2 955.7,224.2 956.2,224.2 956.7,224.1 957.2,224.1 957.7,224.1 958.2,224.1 958.7,224.1 959.2,224.1 959.7,224 960.2,224 960.7,224 961.2,224 961.7,224 962.2,224 962.7,223.9 963.2,223.9 963.7,223.9 964.2,223.9 964.7,223.9 965.2,223.8 965.7,223.8 966.2,223.8 966.7,223.8 967.2,223.7 967.7,223.7 968.2,223.7 968.7,223.7 969.2,223.6 969.7,223.6 970.2,223.6 970.7,223.6 971.2,223.5 971.7,223.5 972.2,223.5 972.7,223.5 973.2,223.4 973.7,223.4 974.2,223.4 974.7,223.3 975.2,223.3 975.7,223.3 976.2,223.3 976.7,223.2 977.2,223.2 977.7,223.2 978.2,223.1 978.7,223.1 979.2,223.1 979.7,223.1 980.2,223 980.7,223 981.2,223 981.7,222.9 982.2,222.9 982.7,222.9 983.2,222.8 983.7,222.8 984.2,222.7 984.7,222.7 985.2,222.7 985.7,222.6 986.2,222.6 986.7,222.5 987.2,222.5 987.7,222.4 988.2,222.4 988.7,222.3 989.2,222.3 989.7,222.2 990.2,222.1 990.7,222.1 991.2,222 991.7,221.9 992.2,221.8 992.7,221.8 993.2,221.7 993.7,221.6 994.2,221.5 994.7,221.4 995.2,221.3 995.7,221.2 996.2,221.1 996.7,221 997.2,220.9 997.7,220.8 998.2,220.7 998.7,220.5 999.2,220.3 999.7,220.1 1000.2,219.9 1000.7,219.7 1001.2,219.5 1001.7,219.2 1002.2,218.9 1002.7,218.6 1003.2,218.3 1003.7,218 1004.2,217.7 1004.7,217.3 1005.2,217 1005.7,216.6 1006.2,216.2 1006.7,215.8 1007.2,215.3 1007.7,214.9 1008.2,214.4 1008.7,213.8 1009.2,213.1 1009.7,212.4 1010.2,211.5 1010.7,210.6 1011.2,209.6 1011.7,208.6 1012.2,207.6 1012.7,206.5 1013.2,205.4 1013.7,204.3 1014.2,203.1 1014.7,202 1015.2,200.9 1015.7,199.7 1016.2,198.6 1016.7,197.4 1017.2,196.2 1017.7,194.9 1018.2,193.6 1018.7,192.3 1019.2,190.9 1019.7,189.6 1020.2,188.3 1020.7,187.1 1021.2,185.9 1021.7,184.8 1022.2,183.5 1022.7,182.1 1023.2,180.8 1023.7,179.5 1024.2,178.3 1024.7,177.3 1025.2,176.4 1025.7,175.9 1026.2,175.6 1026.7,175.7 1027.2,176.3 1027.7,177.2 1028.2,178.5 1028.7,180 1029.2,181.8 1029.7,183.8 1030.2,185.8 1030.7,188 1031.2,190.5 1031.7,194 1032.2,198.2 1032.7,203 1033.2,208 1033.7,213.2 1034.2,218.2 1034.7,222.8 1035.2,227.2 1035.7,231.8 1036.2,236.4 1036.7,241 1037.2,245.5 1037.7,249.6 1038.2,253.3 1038.7,256.4 1039.2,259 1039.7,261.6 1040.2,264.1 1040.7,266.4 1041.2,268.4 1041.7,270 1042.2,271 1042.7,271.4 1043.2,271.1 1043.7,270.2 1044.2,268.8 1044.7,267.1 1045.2,265.1 1045.7,263 1046.2,260.8 1046.7,258.7 1047.2,256.7 1047.7,254.6 1048.2,252.4 1048.7,250 1049.2,247.5 1049.7,244.9 1050.2,242.2 1050.7,239.5 1051.2,236.7 1051.7,233.9 1052.2,231.1 1052.7,228.3 1053.2,225.6 1053.7,222.8 1054.2,220.1 1054.7,217.3 1055.2,214.3 1055.7,211.3 1056.2,208.3 1056.7,205.3 1057.2,202.3 1057.7,199.3 1058.2,196.4 1058.7,193.6 1059.2,190.9 1059.7,188.4 1060.2,186.1 1060.7,184 1061.2,181.8 1061.7,179.6 1062.2,177.4 1062.7,175.3 1063.2,173.4 1063.7,171.8 1064.2,170.6 1064.7,169.9 1065.2,169.9 1065.7,170.5 1066.2,171.7 1066.7,173.4 1067.2,175.5 1067.7,177.9 1068.2,180.5 1068.7,183.3 1069.2,186 1069.7,188.9 1070.2,192.4 1070.7,196.6 1071.2,201.1 1071.7,205.9 1072.2,210.6 1072.7,215.2 1073.2,219.5 1073.7,223.3 1074.2,227.2 1074.7,231.2 1075.2,234.9 1075.7,238.4 1076.2,241.3 1076.7,243.6 1077.2,245.4 1077.7,247.1 1078.2,248.6 1078.7,249.9 1079.2,250.9 1079.7,251.4 1080.2,251.2 1080.7,250.2 1081.2,248.5 1081.7,246.2 1082.2,243.6 1082.7,240.8 1083.2,238 1083.7,235.4 1084.2,232.5 1084.7,229.3 1085.2,225.8 1085.7,222.2 1086.2,218.7 1086.7,215.4 1087.2,212.5 1087.7,210.1 1088.2,207.9 1088.7,205.8 1089.2,203.7 1089.7,201.9 1090.2,200.5 1090.7,199.7 1091.2,199.7 1091.7,200.2 1092.2,201.4 1092.7,203 1093.2,205 1093.7,207.3 1094.2,209.7 1094.7,212.2 1095.2,214.7 1095.7,217.8 1096.2,221.5 1096.7,225.8 1097.2,230.4 1097.7,235.1 1098.2,239.8 1098.7,244.2 1099.2,248.2 1099.7,251.5 1100.2,254.4 1100.7,257.2 1101.2,260.1 1101.7,263 1102.2,265.7 1102.7,268.1 1103.2,270.4 1103.7,272.2 1104.2,273.7 1104.7,274.7 1105.2,275.1 1105.7,274.7 1106.2,273.4 1106.7,271.2 1107.2,268.5 1107.7,265.5 1108.2,262.5 1108.7,259.6 1109.2,257 1109.7,254.7 1110.2,252.3 1110.7,249.9 1111.2,247.5 1111.7,245 1112.2,242.6 1112.7,240.2 1113.2,237.7 1113.7,235.3 1114.2,232.9 1114.7,230.4 1115.2,227.9 1115.7,225.5 1116.2,223 1116.7,220.4 1117.2,217.8 1117.7,215.1 1118.2,212.4 1118.7,209.6 1119.2,206.9 1119.7,204.3 1120.2,201.7 1120.7,199.3 1121.2,196.9 1121.7,194.7 1122.2,192.7 1122.7,190.8 1123.2,189 1123.7,187.1 1124.2,185.2 1124.7,183.3 1125.2,181.5 1125.7,179.8 1126.2,178.3 1126.7,176.9 1127.2,175.8 1127.7,174.9 1128.2,174.4 1128.7,174.2 1129.2,174.6 1129.7,175.7 1130.2,177.4 1130.7,179.7 1131.2,182.3 1131.7,185.1 1132.2,188.1 1132.7,191.1 1133.2,194.1 1133.7,197 1134.2,200.3 1134.7,204.1 1135.2,208.2 1135.7,212.5 1136.2,216.8 1136.7,221.1 1137.2,225.1 1137.7,228.9 1138.2,232.2 1138.7,235 1139.2,237.2 1139.7,239.4 1140.2,241.6 1140.7,243.7 1141.2,245.5 1141.7,247.1 1142.2,248.3 1142.7,249.1 1143.2,249.4 1143.7,248.9 1144.2,247.6 1144.7,245.6 1145.2,243 1145.7,240.1 1146.2,236.9 1146.7,233.7 1147.2,230.6 1147.7,227.7 1148.2,224.7 1148.7,221.4 1149.2,217.9 1149.7,214.3 1150.2,210.8 1150.7,207.8 1151.2,205.2 1151.7,203.3 1152.2,201.8 1152.7,200.4 1153.2,199.2 1153.7,198.2 1154.2,197.5 1154.7,197.3 1155.2,197.8 1155.7,199.1 1156.2,201.2 1156.7,203.7 1157.2,206.5 1157.7,209.5 1158.2,212.5 1158.7,215.3 1159.2,218.4 1159.7,221.8 1160.2,225.5 1160.7,229.4 1161.2,233.3 1161.7,237.2 1162.2,241 1162.7,244.7 1163.2,248.1 1163.7,251.4 1164.2,254.8 1164.7,258.1 1165.2,261.3 1165.7,264.2 1166.2,266.7 1166.7,268.8 1167.2,270.7 1167.7,272.5 1168.2,274.1 1168.7,275.4 1169.2,276.3 1169.7,276.5 1170.2,275.9 1170.7,274.7 1171.2,273 1171.7,270.9 1172.2,268.5 1172.7,266.2 1173.2,263.9 1173.7,261.7 1174.2,259.4 1174.7,256.9 1175.2,254.3 1175.7,251.6 1176.2,248.8 1176.7,246 1177.2,243.1 1177.7,240.3 1178.2,237.4 1178.7,234.7 1179.2,232 1179.7,229.4 1180.2,226.7 1180.7,224 1181.2,221.3 1181.7,218.6 1182.2,215.9 1182.7,213.2 1183.2,210.6 1183.7,208 1184.2,205.5 1184.7,203.2 1185.2,201 1185.7,198.9 1186.2,197 1186.7,195.1 1187.2,193.3 1187.7,191.3 1188.2,189.4 1188.7,187.6 1189.2,185.9 1189.7,184.3 1190.2,182.9 1190.7,181.8 1191.2,180.9 1191.7,180.4 1192.2,180.3 1192.7,180.8 1193.2,182 1193.7,183.8 1194.2,186 1194.7,188.5 1195.2,191.2 1195.7,194 1196.2,196.8 1196.7,199.6 1197.2,202.9 1197.7,206.6 1198.2,210.6 1198.7,214.9 1199.2,219.3 1199.7,223.7 1200.2,228 1200.7,232.1 1201.2,235.9 1201.7,239.7 1202.2,243.5 1202.7,247.4 1203.2,251.2 1203.7,254.8 1204.2,258 1204.7,260.8 1205.2,263 1205.7,264.9 1206.2,266.7 1206.7,268.4 1207.2,269.8 1207.7,270.9 1208.2,271.6 1208.7,271.8 1209.2,271.6 1209.7,271.1 1210.2,270.3 1210.7,269.4 1211.2,268.3 1211.7,267.1 1212.2,265.9 1212.7,264.6 1213.2,263.4 1213.7,262.3 1214.2,261.1 1214.7,259.7 1215.2,258.3 1215.7,256.7 1216.2,255.2 1216.7,253.6 1217.2,252 1217.7,250.4 1218.2,248.9 1218.7,247.5 1219.2,246.1 1219.7,244.9 1220.2,243.8 1220.7,242.7 1221.2,241.7 1221.7,240.7 1222.2,239.7 1222.7,238.7 1223.2,237.7 1223.7,236.9 1224.2,236 1224.7,235.2 1225.2,234.5 1225.7,233.8 1226.2,233.2 1226.7,232.7 1227.2,232.2 1227.7,231.8 1228.2,231.4 1228.7,231 1229.2,230.6 1229.7,230.3 1230.2,230 1230.7,229.7 1231.2,229.4 1231.7,229.1 1232.2,228.9 1232.7,228.7 1233.2,228.5 1233.7,228.4 1234.2,228.3 1234.7,228.2 1235.2,228 1235.7,227.9 1236.2,227.8 1236.7,227.7 1237.2,227.6 1237.7,227.5 1238.2,227.5 1238.7,227.4 1239.2,227.3 1239.7,227.2 1240.2,227.2 1240.7,227.1 1241.2,227 1241.7,227 1242.2,226.9 1242.7,226.8 1243.2,226.8 1243.7,226.7 1244.2,226.7 1244.7,226.6 1245.2,226.6 1245.7,226.5 1246.2,226.5 1246.7,226.4 1247.2,226.4 1247.7,226.4 1248.2,226.3 1248.7,226.3 1249.2,226.2 1249.7,226.2 1250.2,226.1 1250.7,226.1 1251.2,226 1251.7,226 1252.2,226 1252.7,225.9 1253.2,225.9 1253.7,225.8 1254.2,225.8 1254.7,225.7 1255.2,225.7 1255.7,225.7 1256.2,225.6 1256.7,225.6 1257.2,225.6 1257.7,225.5 1258.2,225.5 1258.7,225.4 1259.2,225.4 1259.7,225.4 1260.2,225.3 1260.7,225.3 1261.2,225.3 1261.7,225.3 1262.2,225.2 1262.7,225.2 1263.2,225.2 1263.7,225.2 1264.2,225.1 1264.7,225.1 1265.2,225.1 1265.7,225.1 1266.2,225.1 1266.7,225.1 1267.2,225 1267.7,225 1268.2,225 1268.7,225 1269.2,225 1269.4,225" fill="none" stroke="#cc3f5c" stroke-width="2.3" stroke-linejoin="round" stroke-linecap="round"/>
<path d="M945.7,288.1 946.2,288.1 946.7,288 947.2,288 947.7,288 948.2,287.9 948.7,287.8 949.2,287.9 949.7,288 950.2,288.1 950.7,288 951.2,288 951.7,288 952.2,288 952.7,287.8 953.2,287.9 953.7,287.9 954.2,288.1 954.7,287.9 955.2,288 955.7,288 956.2,288.1 956.7,288.1 957.2,288.1 957.7,288 958.2,287.8 958.7,287.6 959.2,287.8 959.7,287.8 960.2,288 960.7,288 961.2,287.8 961.7,288 962.2,287.7 962.7,287.8 963.2,287.6 963.7,287.9 964.2,288.1 964.7,288.2 965.2,288.1 965.7,288 966.2,288 966.7,287.9 967.2,287.8 967.7,287.6 968.2,287.7 968.7,288 969.2,288.2 969.7,288.1 970.2,288.1 970.7,288.1 971.2,288.1 971.7,288 972.2,287.9 972.7,287.9 973.2,287.8 973.7,287.8 974.2,287.8 974.7,288 975.2,288 975.7,287.8 976.2,287.7 976.7,287.9 977.2,288 977.7,287.9 978.2,287.7 978.7,287.6 979.2,287.7 979.7,287.7 980.2,287.9 980.7,287.9 981.2,288 981.7,288 982.2,288.1 982.7,288.1 983.2,288 983.7,287.9 984.2,287.9 984.7,287.8 985.2,287.8 985.7,287.8 986.2,288 986.7,287.9 987.2,287.8 987.7,287.7 988.2,287.8 988.7,287.9 989.2,288.1 989.7,288.1 990.2,288.1 990.7,288 991.2,287.9 991.7,287.9 992.2,287.8 992.7,287.8 993.2,288 993.7,288.1 994.2,288.1 994.7,287.8 995.2,287.7 995.7,287.7 996.2,287.8 996.7,287.8 997.2,287.8 997.7,287.7 998.2,287.9 998.7,287.9 999.2,288.1 999.7,287.9 1000.2,287.9 1000.7,287.8 1001.2,287.9 1001.7,288 1002.2,287.8 1002.7,287.7 1003.2,287.7 1003.7,287.8 1004.2,287.7 1004.7,287.8 1005.2,287.8 1005.7,287.8 1006.2,287.7 1006.7,287.8 1007.2,287.8 1007.7,287.8 1008.2,287.9 1008.7,287.9 1009.2,287.9 1009.7,287.9 1010.2,287.8 1010.7,287.7 1011.2,287.6 1011.7,287.7 1012.2,287.6 1012.7,287.5 1013.2,287.5 1013.7,287.5 1014.2,287.5 1014.7,287.5 1015.2,287.5 1015.7,287.7 1016.2,287.7 1016.7,287.6 1017.2,287.5 1017.7,287.5 1018.2,287.5 1018.7,287.6 1019.2,287.6 1019.7,287.5 1020.2,287.5 1020.7,287.4 1021.2,287.5 1021.7,287.6 1022.2,287.8 1022.7,288 1023.2,287.8 1023.7,287.8 1024.2,287.7 1024.7,287.9 1025.2,287.8 1025.7,287.7 1026.2,287.8 1026.7,287.7 1027.2,287.7 1027.7,287.7 1028.2,287.7 1028.7,287.7 1029.2,287.5 1029.7,287.5 1030.2,287.4 1030.7,287.5 1031.2,287.6 1031.7,287.7 1032.2,287.6 1032.7,287.6 1033.2,287.6 1033.7,287.7 1034.2,287.6 1034.7,287.6 1035.2,287.5 1035.7,287.6 1036.2,287.6 1036.7,287.8 1037.2,287.7 1037.7,287.5 1038.2,287.3 1038.7,287.4 1039.2,287.5 1039.7,287.7 1040.2,287.7 1040.7,287.6 1041.2,287.6 1041.7,287.5 1042.2,287.4 1042.7,287.5 1043.2,287.4 1043.7,287.6 1044.2,287.5 1044.7,287.7 1045.2,287.5 1045.7,287.5 1046.2,287.3 1046.7,287.4 1047.2,287.3 1047.7,287.4 1048.2,287.6 1048.7,287.7 1049.2,287.6 1049.7,287.5 1050.2,287.3 1050.7,287.4 1051.2,287.4 1051.7,287.5 1052.2,287.5 1052.7,287.4 1053.2,287.4 1053.7,287.4 1054.2,287.4 1054.7,287.5 1055.2,287.5 1055.7,287.7 1056.2,287.6 1056.7,287.5 1057.2,287.3 1057.7,287.3 1058.2,287.4 1058.7,287.4 1059.2,287.4 1059.7,287.4 1060.2,287.4 1060.7,287.4 1061.2,287.4 1061.7,287.4 1062.2,287.5 1062.7,287.5 1063.2,287.6 1063.7,287.5 1064.2,287.4 1064.7,287.3 1065.2,287.3 1065.7,287.2 1066.2,287.2 1066.7,287.3 1067.2,287.5 1067.7,287.3 1068.2,287.4 1068.7,287.4 1069.2,287.5 1069.7,287.4 1070.2,287.6 1070.7,287.7 1071.2,287.9 1071.7,288.1 1072.2,288.2 1072.7,288.4 1073.2,288.5 1073.7,288.5 1074.2,288.5 1074.7,288.6 1075.2,288.8 1075.7,288.9 1076.2,288.7 1076.7,288.7 1077.2,288.7 1077.7,288.9 1078.2,288.8 1078.7,288.7 1079.2,288.6 1079.7,288.7 1080.2,288.7 1080.7,288.8 1081.2,288.8 1081.7,288.8 1082.2,288.7 1082.7,288.7 1083.2,288.7 1083.7,288.6 1084.2,288.4 1084.7,288.5 1085.2,288.4 1085.7,288.5 1086.2,288.2 1086.7,288.2 1087.2,288.5 1087.7,288.6 1088.2,288.7 1088.7,288.5 1089.2,288.4 1089.7,288.4 1090.2,288.5 1090.7,288.6 1091.2,288.7 1091.7,288.5 1092.2,288.5 1092.7,288.5 1093.2,288.7 1093.7,288.7 1094.2,288.8 1094.7,288.6 1095.2,288.6 1095.7,288.4 1096.2,288.3 1096.7,288.3 1097.2,288.4 1097.7,288.5 1098.2,288.5 1098.7,288.5 1099.2,288.4 1099.7,288.3 1100.2,288.1 1100.7,288.1 1101.2,288.3 1101.7,288.4 1102.2,288.4 1102.7,288.3 1103.2,288.5 1103.7,288.5 1104.2,288.5 1104.7,288.3 1105.2,288.4 1105.7,288.5 1106.2,288.3 1106.7,288.2 1107.2,288.2 1107.7,288.3 1108.2,288.2 1108.7,288.3 1109.2,288.4 1109.7,288.5 1110.2,288.3 1110.7,288.3 1111.2,288.3 1111.7,288.2 1112.2,288.2 1112.7,288.1 1113.2,288.2 1113.7,288.1 1114.2,288.2 1114.7,288.1 1115.2,288.4 1115.7,288.3 1116.2,288.2 1116.7,288 1117.2,288 1117.7,288.1 1118.2,288.2 1118.7,288.3 1119.2,288.5 1119.7,288.4 1120.2,288.5 1120.7,288.6 1121.2,288.6 1121.7,288.2 1122.2,288 1122.7,288 1123.2,288 1123.7,288 1124.2,288 1124.7,288.1 1125.2,288.2 1125.7,288.3 1126.2,288.3 1126.7,288.3 1127.2,288.1 1127.7,288.1 1128.2,288.1 1128.7,288.2 1129.2,288.2 1129.7,288 1130.2,288 1130.7,287.9 1131.2,288.1 1131.7,288.2 1132.2,288.3 1132.7,288.2 1133.2,287.9 1133.7,288 1134.2,288.1 1134.7,288.3 1135.2,288.3 1135.7,288.3 1136.2,288.2 1136.7,288 1137.2,287.8 1137.7,287.7 1138.2,287.7 1138.7,288 1139.2,288.1 1139.7,288.1 1140.2,288.2 1140.7,288.2 1141.2,288.1 1141.7,288.1 1142.2,287.9 1142.7,288 1143.2,288.1 1143.7,288.2 1144.2,288.3 1144.7,288.4 1145.2,288.3 1145.7,288.2 1146.2,288 1146.7,288.1 1147.2,288 1147.7,288 1148.2,288.1 1148.7,288 1149.2,288.2 1149.7,288 1150.2,288.2 1150.7,288.2 1151.2,288.2 1151.7,288 1152.2,287.9 1152.7,288 1153.2,288.1 1153.7,288 1154.2,288 1154.7,287.8 1155.2,287.8 1155.7,287.6 1156.2,287.9 1156.7,287.9 1157.2,287.9 1157.7,287.9 1158.2,287.8 1158.7,287.9 1159.2,287.9 1159.7,287.9 1160.2,287.9 1160.7,288 1161.2,288 1161.7,288.1 1162.2,288.1 1162.7,288 1163.2,288 1163.7,288 1164.2,288.1 1164.7,288 1165.2,288 1165.7,288 1166.2,288.2 1166.7,288.2 1167.2,288.2 1167.7,288 1168.2,288.1 1168.7,288.1 1169.2,288.2 1169.7,287.9 1170.2,287.8 1170.7,287.6 1171.2,287.9 1171.7,287.9 1172.2,287.9 1172.7,287.9 1173.2,288.2 1173.7,288 1174.2,287.9 1174.7,287.8 1175.2,288 1175.7,288 1176.2,287.9 1176.7,287.8 1177.2,287.9 1177.7,288.1 1178.2,288.2 1178.7,288 1179.2,287.9 1179.7,287.9 1180.2,288 1180.7,288.1 1181.2,288.1 1181.7,288.1 1182.2,288.1 1182.7,288.3 1183.2,288.5 1183.7,288.5 1184.2,288.6 1184.7,288.5 1185.2,288.8 1185.7,288.9 1186.2,289.1 1186.7,289.1 1187.2,289 1187.7,289 1188.2,288.9 1188.7,288.9 1189.2,288.9 1189.7,288.9 1190.2,288.9 1190.7,288.9 1191.2,289 1191.7,289 1192.2,288.8 1192.7,288.7 1193.2,288.8 1193.7,288.9 1194.2,288.7 1194.7,288.6 1195.2,288.7 1195.7,288.6 1196.2,288.6 1196.7,288.4 1197.2,288.4 1197.7,288.4 1198.2,288.3 1198.7,288.4 1199.2,288.4 1199.7,288.6 1200.2,288.4 1200.7,288.2 1201.2,288.1 1201.7,288 1202.2,288.2 1202.7,288.3 1203.2,288.4 1203.7,288.1 1204.2,288.1 1204.7,288.1 1205.2,288.1 1205.7,288.3 1206.2,288.3 1206.7,288.3 1207.2,288.2 1207.7,288.4 1208.2,288.6 1208.7,288.5 1209.2,288.4 1209.7,288.3 1210.2,288.4 1210.7,288.4 1211.2,288.3 1211.7,288.1 1212.2,288.1 1212.7,288.1 1213.2,288.3 1213.7,288.3 1214.2,288.3 1214.7,288.1 1215.2,288.1 1215.7,288.1 1216.2,288.3 1216.7,288.2 1217.2,288 1217.7,288 1218.2,288.1 1218.7,288.2 1219.2,288.2 1219.7,288.2 1220.2,288.3 1220.7,288.2 1221.2,288.2 1221.7,288 1222.2,288 1222.7,288.1 1223.2,288.2 1223.7,288.1 1224.2,288 1224.7,287.9 1225.2,288.2 1225.7,288.2 1226.2,288.2 1226.7,288 1227.2,288.2 1227.7,288.3 1228.2,288.5 1228.7,288.3 1229.2,288.3 1229.7,288.3 1230.2,288.2 1230.7,288.2 1231.2,288.2 1231.7,288.3 1232.2,288.2 1232.7,288.1 1233.2,288 1233.7,288.2 1234.2,288.3 1234.7,288.2 1235.2,288 1235.7,288 1236.2,288.2 1236.7,288.3 1237.2,288.4 1237.7,288.3 1238.2,288.2 1238.7,288.1 1239.2,288.3 1239.7,288.3 1240.2,288.2 1240.7,288.2 1241.2,288.1 1241.7,288.2 1242.2,288 1242.7,288 1243.2,288 1243.7,288 1244.2,288.3 1244.7,288.2 1245.2,288.2 1245.7,287.9 1246.2,287.8 1246.7,287.6 1247.2,287.8 1247.7,287.8 1248.2,288.1 1248.7,288.1 1249.2,288.2 1249.7,288.3 1250.2,288.2 1250.7,288.3 1251.2,288.1 1251.7,288.2 1252.2,288 1252.7,288.1 1253.2,288 1253.7,288 1254.2,288 1254.7,288.1 1255.2,288.1 1255.7,288.1 1256.2,288.1 1256.7,288 1257.2,288 1257.7,288 1258.2,288 1258.7,288 1259.2,287.9 1259.7,288 1260.2,288 1260.7,288.1 1261.2,288.1 1261.7,288.1 1262.2,288.1 1262.7,288 1263.2,287.9 1263.7,287.8 1264.2,287.8 1264.7,288 1265.2,288.1 1265.7,288.2 1266.2,288 1266.7,287.9 1267.2,287.8 1267.7,287.9 1268.2,288 1268.7,288.1 1269.2,288.1 1269.4,288.1" fill="none" stroke="#189fd9" stroke-width="2.5" stroke-linejoin="round" stroke-linecap="round"/>
<text x="947.4" y="83.7" font-size="18" textLength="61.4" lengthAdjust="spacingAndGlyphs" stroke="#000" stroke-width="0.4">DMPO-</text>
<text x="1009" y="83.7" font-size="19.5" stroke="#000" stroke-width="0.4" font-family='"Liberation Serif", serif'>O</text>
<text x="1021.4" y="88.8" font-size="12.5" stroke="#000" stroke-width="0.3" font-family='"Liberation Serif", serif'>2</text>
<circle cx="1030.6" cy="72.8" r="2" fill="#000"/>
<line x1="1034.2" y1="72.8" x2="1040.2" y2="72.8" stroke="#333" stroke-width="0.9"/>
<text x="1124.6" y="106.3" font-size="15" textLength="140.5" lengthAdjust="spacingAndGlyphs" stroke="#000" stroke-width="0.4">E/CuNW@rGO/PMS</text>
<text x="1139.1" y="170.5" font-size="15" textLength="126.1" lengthAdjust="spacingAndGlyphs" stroke="#000" stroke-width="0.4">CuNW@rGO/PMS</text>
<text x="1196.3" y="284.6" font-size="14.6" textLength="63.8" lengthAdjust="spacingAndGlyphs" stroke="#000" stroke-width="0.4">PMS only</text>
<rect x="945.7" y="59.6" width="324" height="242.7" fill="none" stroke="#000" stroke-width="1.6"/>
<line x1="945.7" y1="302.3" x2="945.7" y2="309.1" stroke="#000" stroke-width="1.6"/>
<line x1="1038.3" y1="302.3" x2="1038.3" y2="309.1" stroke="#000" stroke-width="1.6"/>
<line x1="1130.8" y1="302.3" x2="1130.8" y2="309.1" stroke="#000" stroke-width="1.6"/>
<line x1="1223.4" y1="302.3" x2="1223.4" y2="309.1" stroke="#000" stroke-width="1.6"/>
<line x1="992" y1="302.3" x2="992" y2="305.7" stroke="#000" stroke-width="1.6"/>
<line x1="1084.6" y1="302.3" x2="1084.6" y2="305.7" stroke="#000" stroke-width="1.6"/>
<line x1="1177.1" y1="302.3" x2="1177.1" y2="305.7" stroke="#000" stroke-width="1.6"/>
<line x1="1269.7" y1="302.3" x2="1269.7" y2="305.7" stroke="#000" stroke-width="1.6"/>
<text x="945.7" y="327" font-size="18.1" text-anchor="middle" textLength="42" lengthAdjust="spacingAndGlyphs" stroke="#000" stroke-width="0.4">3320</text>
<text x="1038.3" y="327" font-size="18.1" text-anchor="middle" textLength="42" lengthAdjust="spacingAndGlyphs" stroke="#000" stroke-width="0.4">3340</text>
<text x="1130.8" y="327" font-size="18.1" text-anchor="middle" textLength="42" lengthAdjust="spacingAndGlyphs" stroke="#000" stroke-width="0.4">3360</text>
<text x="1223.4" y="327" font-size="18.1" text-anchor="middle" textLength="42" lengthAdjust="spacingAndGlyphs" stroke="#000" stroke-width="0.4">3380</text>
<text x="1108" y="355" font-size="24" text-anchor="middle" textLength="205.4" lengthAdjust="spacingAndGlyphs" stroke="#000" stroke-width="0.4">Magnetic Field (G)</text>
<text x="914.7" y="181" font-size="24" text-anchor="middle" textLength="160.4" lengthAdjust="spacingAndGlyphs" stroke="#000" stroke-width="0.4" transform="rotate(-90 914.7 181)">Intensity (a.u.)</text>
<text x="40" y="386.5" font-size="32" stroke="#000" stroke-width="0.4">d</text>
<rect x="103.3" y="422.2" width="27.9" height="239.3" fill="url(#gd0)" stroke="#000" stroke-width="1.7"/>
<line x1="117.3" y1="418.4" x2="117.3" y2="426.6" stroke="#000" stroke-width="1.6"/>
<line x1="107.9" y1="418.4" x2="126.7" y2="418.4" stroke="#000" stroke-width="1.6"/>
<line x1="107.9" y1="426.6" x2="126.7" y2="426.6" stroke="#000" stroke-width="1.6"/>
<rect x="148.9" y="437.8" width="27.9" height="223.7" fill="url(#gd1)" stroke="#000" stroke-width="1.7"/>
<line x1="162.8" y1="433.2" x2="162.8" y2="441.1" stroke="#000" stroke-width="1.6"/>
<line x1="153.4" y1="433.2" x2="172.2" y2="433.2" stroke="#000" stroke-width="1.6"/>
<line x1="153.4" y1="441.1" x2="172.2" y2="441.1" stroke="#000" stroke-width="1.6"/>
<rect x="194.6" y="430.8" width="27.9" height="230.7" fill="url(#gd2)" stroke="#000" stroke-width="1.7"/>
<line x1="208.6" y1="425.9" x2="208.6" y2="435.8" stroke="#000" stroke-width="1.6"/>
<line x1="199.2" y1="425.9" x2="218" y2="425.9" stroke="#000" stroke-width="1.6"/>
<line x1="199.2" y1="435.8" x2="218" y2="435.8" stroke="#000" stroke-width="1.6"/>
<rect x="240.4" y="459.6" width="27.9" height="201.9" fill="url(#gd3)" stroke="#000" stroke-width="1.7"/>
<line x1="254.3" y1="450.3" x2="254.3" y2="467.8" stroke="#000" stroke-width="1.6"/>
<line x1="244.9" y1="450.3" x2="263.7" y2="450.3" stroke="#000" stroke-width="1.6"/>
<line x1="244.9" y1="467.8" x2="263.7" y2="467.8" stroke="#000" stroke-width="1.6"/>
<rect x="286.1" y="453.2" width="27.9" height="208.3" fill="url(#gd4)" stroke="#000" stroke-width="1.7"/>
<line x1="300.1" y1="444" x2="300.1" y2="462.2" stroke="#000" stroke-width="1.6"/>
<line x1="290.7" y1="444" x2="309.4" y2="444" stroke="#000" stroke-width="1.6"/>
<line x1="290.7" y1="462.2" x2="309.4" y2="462.2" stroke="#000" stroke-width="1.6"/>
<rect x="331.9" y="431.7" width="27.9" height="229.8" fill="url(#gd5)" stroke="#000" stroke-width="1.7"/>
<line x1="345.9" y1="428.2" x2="345.9" y2="434.1" stroke="#000" stroke-width="1.6"/>
<line x1="336.5" y1="428.2" x2="355.3" y2="428.2" stroke="#000" stroke-width="1.6"/>
<line x1="336.5" y1="434.1" x2="355.3" y2="434.1" stroke="#000" stroke-width="1.6"/>
<rect x="377.7" y="515.1" width="27.9" height="146.4" fill="url(#gd6)" stroke="#000" stroke-width="1.7"/>
<line x1="391.6" y1="510.9" x2="391.6" y2="518.8" stroke="#000" stroke-width="1.6"/>
<line x1="382.2" y1="510.9" x2="401" y2="510.9" stroke="#000" stroke-width="1.6"/>
<line x1="382.2" y1="518.8" x2="401" y2="518.8" stroke="#000" stroke-width="1.6"/>
<rect x="94.6" y="405.2" width="320" height="256.3" fill="none" stroke="#000" stroke-width="1.6"/>
<line x1="94.6" y1="661.5" x2="87.8" y2="661.5" stroke="#000" stroke-width="1.6"/>
<line x1="94.6" y1="610.2" x2="87.8" y2="610.2" stroke="#000" stroke-width="1.6"/>
<line x1="94.6" y1="559" x2="87.8" y2="559" stroke="#000" stroke-width="1.6"/>
<line x1="94.6" y1="507.7" x2="87.8" y2="507.7" stroke="#000" stroke-width="1.6"/>
<line x1="94.6" y1="456.5" x2="87.8" y2="456.5" stroke="#000" stroke-width="1.6"/>
<line x1="94.6" y1="405.2" x2="87.8" y2="405.2" stroke="#000" stroke-width="1.6"/>
<line x1="94.6" y1="635.9" x2="91.1" y2="635.9" stroke="#000" stroke-width="1.6"/>
<line x1="94.6" y1="584.6" x2="91.1" y2="584.6" stroke="#000" stroke-width="1.6"/>
<line x1="94.6" y1="533.4" x2="91.1" y2="533.4" stroke="#000" stroke-width="1.6"/>
<line x1="94.6" y1="482.1" x2="91.1" y2="482.1" stroke="#000" stroke-width="1.6"/>
<line x1="94.6" y1="430.8" x2="91.1" y2="430.8" stroke="#000" stroke-width="1.6"/>
<text x="82.4" y="667.1" font-size="15.7" text-anchor="end" stroke="#000" stroke-width="0.4">0</text>
<text x="82.4" y="615.8" font-size="15.7" text-anchor="end" stroke="#000" stroke-width="0.4">20</text>
<text x="82.4" y="564.6" font-size="15.7" text-anchor="end" stroke="#000" stroke-width="0.4">40</text>
<text x="82.4" y="513.3" font-size="15.7" text-anchor="end" stroke="#000" stroke-width="0.4">60</text>
<text x="82.4" y="462.1" font-size="15.7" text-anchor="end" stroke="#000" stroke-width="0.4">80</text>
<text x="82.4" y="410.8" font-size="15.7" text-anchor="end" stroke="#000" stroke-width="0.4">100</text>
<line x1="117.3" y1="661.5" x2="117.3" y2="668.5" stroke="#000" stroke-width="1.6"/>
<line x1="162.8" y1="661.5" x2="162.8" y2="668.5" stroke="#000" stroke-width="1.6"/>
<line x1="208.6" y1="661.5" x2="208.6" y2="668.5" stroke="#000" stroke-width="1.6"/>
<line x1="254.3" y1="661.5" x2="254.3" y2="668.5" stroke="#000" stroke-width="1.6"/>
<line x1="300.1" y1="661.5" x2="300.1" y2="668.5" stroke="#000" stroke-width="1.6"/>
<line x1="345.9" y1="661.5" x2="345.9" y2="668.5" stroke="#000" stroke-width="1.6"/>
<line x1="391.6" y1="661.5" x2="391.6" y2="668.5" stroke="#000" stroke-width="1.6"/>
<text x="125.3" y="688.6" font-size="16.7" text-anchor="end" stroke="#000" stroke-width="0.4" transform="rotate(-28 125.3 688.6)">Blank</text>
<text x="170.8" y="688.6" font-size="16.7" text-anchor="end" stroke="#000" stroke-width="0.4" transform="rotate(-28 170.8 688.6)">MeOH</text>
<text x="216.6" y="688.6" font-size="16.7" text-anchor="end" stroke="#000" stroke-width="0.4" transform="rotate(-28 216.6 688.6)">TBA</text>
<text x="262.3" y="688.6" font-size="16.7" text-anchor="end" stroke="#000" stroke-width="0.4" transform="rotate(-28 262.3 688.6)">TEMP</text>
<text x="309.6" y="691.8" font-size="16.7" text-anchor="end" stroke="#000" stroke-width="0.4" transform="rotate(-28 309.6 691.8)">Na<tspan font-size="11" dy="3.5">2</tspan><tspan dy="-3.5">CO</tspan><tspan font-size="11" dy="3.5">3</tspan></text>
<text x="353.9" y="688.6" font-size="16.7" text-anchor="end" stroke="#000" stroke-width="0.4" transform="rotate(-28 353.9 688.6)">NaF</text>
<text x="399.6" y="688.6" font-size="16.7" text-anchor="end" stroke="#000" stroke-width="0.4" transform="rotate(-28 399.6 688.6)">DMSO</text>
<text x="45.9" y="532.4" font-size="25.5" text-anchor="middle" textLength="256.1" lengthAdjust="spacingAndGlyphs" stroke="#000" stroke-width="0.4" transform="rotate(-90 45.9 532.4)">Removal efficiency (%)</text>
<text x="446" y="394" font-size="32" stroke="#000" stroke-width="0.4">e</text>
<path d="M518.3,647.6 836.6,647" fill="none" stroke="#555" stroke-width="1.5" stroke-linejoin="round" stroke-linecap="round"/>
<path d="M518.3,647.7 519.3,647.6 520.3,647.6 521.3,647.5 522.3,647.6 523.3,647.5 524.3,647.5 525.3,647.5 526.3,647.6 527.3,647.7 528.3,647.9 529.3,648 530.3,648 531.3,648 532.3,648 533.3,648.1 534.3,647.8 535.3,647.8 536.3,647.7 537.3,647.9 538.3,647.9 539.3,647.9 540.3,647.8 541.3,647.9 542.3,647.8 543.3,647.7 544.3,647.7 545.3,647.7 546.3,647.5 547.3,647.4 548.3,647.7 549.3,647.7 550.3,647.6 551.3,647.3 552.3,647.6 553.3,647.8 554.3,647.9 555.3,648 556.3,648.1 557.3,647.9 558.3,647.8 559.3,647.6 560.3,647.7 561.3,647.7 562.3,647.6 563.3,647.8 564.3,647.8 565.3,647.8 566.3,647.7 567.3,647.6 568.3,647.6 569.3,647.5 570.3,647.4 571.3,647.2 572.3,647.2 573.3,647.4 574.3,647.6 575.3,647.6 576.3,647.6 577.3,647.9 578.3,647.6 579.3,647.4 580.3,647.2 581.3,647.4 582.3,647.9 583.3,647.9 584.3,647.8 585.3,647.6 586.3,647.9 587.3,647.7 588.3,647.8 589.3,647.6 590.3,647.6 591.3,647.6 592.3,647.6 593.3,647.6 594.3,647.6 595.3,647.7 596.3,647.8 597.3,647.8 598.3,647.7 599.3,647.6 600,647.7" fill="none" stroke="#e8505b" stroke-width="1.6" stroke-linejoin="round" stroke-linecap="round"/>
<path d="M518.3,588.8 518.8,588.5 519.3,588.1 519.8,587.8 520.3,587.5 520.8,587.1 521.3,586.8 521.8,586.5 522.3,586.1 522.8,585.8 523.3,585.4 523.8,585.1 524.3,584.8 524.8,584.4 525.3,584.1 525.8,583.7 526.3,583.3 526.8,583 527.3,582.6 527.8,582.3 528.3,581.9 528.8,581.6 529.3,581.2 529.8,580.8 530.3,580.5 530.8,580.1 531.3,579.7 531.8,579.3 532.3,579 532.8,578.6 533.3,578.2 533.8,577.8 534.3,577.5 534.8,577.1 535.3,576.7 535.8,576.3 536.3,575.9 536.8,575.5 537.3,575.2 537.8,574.8 538.3,574.4 538.8,574 539.3,573.6 539.8,573.2 540.3,572.8 540.8,572.4 541.3,572 541.8,571.6 542.3,571.2 542.8,570.8 543.3,570.4 543.8,570 544.3,569.5 544.8,569.1 545.3,568.7 545.8,568.3 546.3,567.8 546.8,567.4 547.3,567 547.8,566.5 548.3,566.1 548.8,565.6 549.3,565.2 549.8,564.8 550.3,564.3 550.8,563.9 551.3,563.5 551.8,563 552.3,562.6 552.8,562.1 553.3,561.7 553.8,561.3 554.3,560.8 554.8,560.4 555.3,560 555.8,559.6 556.3,559.1 556.8,558.7 557.3,558.3 557.8,557.9 558.3,557.4 558.8,557 559.3,556.6 559.8,556.2 560.3,555.7 560.8,555.3 561.3,554.9 561.8,554.5 562.3,554 562.8,553.6 563.3,553.2 563.8,552.8 564.3,552.4 564.8,551.9 565.3,551.5 565.8,551.1 566.3,550.7 566.8,550.3 567.3,549.9 567.8,549.5 568.3,549.1 568.8,548.7 569.3,548.3 569.8,547.9 570.3,547.5 570.8,547.1 571.3,546.7 571.8,546.3 572.3,545.9 572.8,545.5 573.3,545.1 573.8,544.7 574.3,544.3 574.8,544 575.3,543.6 575.8,543.2 576.3,542.8 576.8,542.4 577.3,542 577.8,541.7 578.3,541.3 578.8,540.9 579.3,540.5 579.8,540.2 580.3,539.8 580.8,539.4 581.3,539.1 581.8,538.7 582.3,538.4 582.8,538 583.3,537.7 583.8,537.3 584.3,537 584.8,536.7 585.3,536.3 585.8,536 586.3,535.7 586.8,535.4 587.3,535.1 587.8,534.8 588.3,534.5 588.8,534.2 589.3,533.9 589.8,533.6 590.3,533.3 590.8,533 591.3,532.7 591.8,532.4 592.3,532.1 592.8,531.9 593.3,531.6 593.8,531.3 594.3,531 594.8,530.8 595.3,530.5 595.8,530.3 596.3,530 596.8,529.8 597.3,529.5 597.8,529.3 598.3,529.1 598.8,528.8 599.3,528.6 599.8,528.4 600.3,528.2 600.8,528 601.3,527.7 601.8,527.5 602.3,527.3 602.8,527.1 603.3,526.9 603.8,526.7 604.3,526.5 604.8,526.3 605.3,526.1 605.8,525.9 606.3,525.8 606.8,525.6 607.3,525.4 607.8,525.2 608.3,525.1 608.8,524.9 609.3,524.8 609.8,524.7 610.3,524.6 610.8,524.4 611.3,524.3 611.8,524.2 612.3,524.1 612.8,524 613.3,523.9 613.8,523.8 614.3,523.7 614.8,523.6 615.3,523.5 615.8,523.5 616.3,523.4 616.8,523.3 617.3,523.2 617.8,523.2 618.3,523.1 618.8,523 619.3,523 619.8,523 620.3,522.9 620.8,522.9 621.3,522.9 621.8,522.9 622.3,522.9 622.8,523 623.3,523 623.8,523.1 624.3,523.1 624.8,523.2 625.3,523.3 625.8,523.4 626.3,523.5 626.8,523.6 627.3,523.7 627.8,523.8 628.3,524 628.8,524.1 629.3,524.2 629.8,524.3 630.3,524.5 630.8,524.6 631.3,524.8 631.8,525 632.3,525.2 632.8,525.5 633.3,525.7 633.8,526 634.3,526.2 634.8,526.5 635.3,526.8 635.8,527.1 636.3,527.4 636.8,527.7 637.3,528 637.8,528.2 638.3,528.5 638.8,528.8 639.3,529.1 639.8,529.4 640.3,529.7 640.8,530 641.3,530.4 641.8,530.7 642.3,531 642.8,531.3 643.3,531.7 643.8,532 644.3,532.4 644.8,532.7 645.3,533.1 645.8,533.4 646.3,533.8 646.8,534.2 647.3,534.5 647.8,534.9 648.3,535.3 648.8,535.7 649.3,536.1 649.8,536.5 650.3,536.9 650.8,537.4 651.3,537.8 651.8,538.2 652.3,538.7 652.8,539.2 653.3,539.7 653.8,540.1 654.3,540.6 654.8,541.2 655.3,541.7 655.8,542.2 656.3,542.7 656.8,543.3 657.3,543.8 657.8,544.4 658.3,544.9 658.8,545.5 659.3,546 659.8,546.6 660.3,547.2 660.8,547.8 661.3,548.3 661.8,548.9 662.3,549.5 662.8,550 663.3,550.6 663.8,551.2 664.3,551.8 664.8,552.4 665.3,553 665.8,553.6 666.3,554.2 666.8,554.8 667.3,555.4 667.8,556 668.3,556.7 668.8,557.3 669.3,557.9 669.8,558.5 670.3,559.2 670.8,559.8 671.3,560.5 671.8,561.1 672.3,561.7 672.8,562.4 673.3,563 673.8,563.7 674.3,564.3 674.8,564.9 675.3,565.5 675.8,566.2 676.3,566.8 676.8,567.4 677.3,568.1 677.8,568.7 678.3,569.3 678.8,569.9 679.3,570.6 679.8,571.2 680.3,571.8 680.8,572.5 681.3,573.1 681.8,573.7 682.3,574.4 682.8,575 683.3,575.6 683.8,576.3 684.3,576.9 684.8,577.5 685.3,578.1 685.8,578.8 686.3,579.4 686.8,580 687.3,580.6 687.8,581.2 688.3,581.9 688.8,582.5 689.3,583.1 689.8,583.7 690.3,584.3 690.8,584.9 691.3,585.5 691.8,586.1 692.3,586.8 692.8,587.4 693.3,588 693.8,588.6 694.3,589.2 694.8,589.8 695.3,590.4 695.8,591 696.3,591.6 696.8,592.2 697.3,592.8 697.8,593.4 698.3,594 698.8,594.6 699.3,595.1 699.8,595.7 700.3,596.3 700.8,596.8 701.3,597.4 701.8,598 702.3,598.5 702.8,599.1 703.3,599.6 703.8,600.2 704.3,600.8 704.8,601.3 705.3,601.9 705.8,602.4 706.3,602.9 706.8,603.5 707.3,604 707.8,604.6 708.3,605.1 708.8,605.6 709.3,606.1 709.8,606.7 710.3,607.2 710.8,607.7 711.3,608.2 711.8,608.7 712.3,609.2 712.8,609.6 713.3,610.1 713.8,610.6 714.3,611.1 714.8,611.5 715.3,612 715.8,612.5 716.3,612.9 716.8,613.4 717.3,613.8 717.8,614.3 718.3,614.7 718.8,615.2 719.3,615.6 719.8,616 720.3,616.4 720.8,616.9 721.3,617.3 721.8,617.7 722.3,618.1 722.8,618.5 723.3,618.9 723.8,619.3 724.3,619.7 724.8,620.1 725.3,620.4 725.8,620.8 726.3,621.2 726.8,621.5 727.3,621.9 727.8,622.2 728.3,622.5 728.8,622.9 729.3,623.2 729.8,623.5 730.3,623.8 730.8,624.2 731.3,624.5 731.8,624.8 732.3,625.1 732.8,625.4 733.3,625.7 733.8,626 734.3,626.3 734.8,626.6 735.3,626.9 735.8,627.1 736.3,627.4 736.8,627.7 737.3,628 737.8,628.2 738.3,628.5 738.8,628.7 739.3,629 739.8,629.3 740.3,629.5 740.8,629.8 741.3,630 741.8,630.2 742.3,630.5 742.8,630.7 743.3,631 743.8,631.2 744.3,631.4 744.8,631.7 745.3,631.9 745.8,632.1 746.3,632.3 746.8,632.5 747.3,632.8 747.8,633 748.3,633.2 748.8,633.4 749.3,633.6 749.8,633.8 750.3,634 750.8,634.2 751.3,634.4 751.8,634.6 752.3,634.8 752.8,635 753.3,635.2 753.8,635.4 754.3,635.6 754.8,635.8 755.3,636 755.8,636.2 756.3,636.3 756.8,636.5 757.3,636.7 757.8,636.9 758.3,637.1 758.8,637.3 759.3,637.4 759.8,637.6 760.3,637.8 760.8,637.9 761.3,638.1 761.8,638.2 762.3,638.4 762.8,638.5 763.3,638.7 763.8,638.8 764.3,638.9 764.8,639 765.3,639.1 765.8,639.2 766.3,639.4 766.8,639.5 767.3,639.6 767.8,639.7 768.3,639.8 768.8,639.9 769.3,640 769.8,640.1 770.3,640.2 770.8,640.3 771.3,640.3 771.8,640.4 772.3,640.5 772.8,640.6 773.3,640.7 773.8,640.8 774.3,640.9 774.8,640.9 775.3,641 775.8,641.1 776.3,641.2 776.8,641.2 777.3,641.3 777.8,641.4 778.3,641.5 778.8,641.5 779.3,641.6 779.8,641.6 780.3,641.7 780.8,641.8 781.3,641.8 781.8,641.9 782.3,641.9 782.8,642 783.3,642 783.8,642.1 784.3,642.1 784.8,642.2 785.3,642.2 785.8,642.3 786.3,642.3 786.8,642.4 787.3,642.4 787.8,642.5 788.3,642.5 788.8,642.6 789.3,642.6 789.8,642.7 790.3,642.7 790.8,642.7 791.3,642.8 791.8,642.8 792.3,642.9 792.8,642.9 793.3,643 793.8,643 794.3,643 794.8,643.1 795.3,643.1 795.8,643.1 796.3,643.2 796.8,643.2 797.3,643.3 797.8,643.3 798.3,643.3 798.8,643.4 799.3,643.4 799.8,643.4 800.3,643.5 800.8,643.5 801.3,643.5 801.8,643.5 802.3,643.6 802.8,643.6 803.3,643.6 803.8,643.7 804.3,643.7 804.8,643.7 805.3,643.8 805.8,643.8 806.3,643.8 806.8,643.8 807.3,643.9 807.8,643.9 808.3,643.9 808.8,643.9 809.3,644 809.8,644 810.3,644 810.8,644 811.3,644.1 811.8,644.1 812.3,644.1 812.8,644.1 813.3,644.1 813.8,644.2 814.3,644.2 814.8,644.2 815.3,644.2 815.8,644.3 816.3,644.3 816.8,644.3 817.3,644.3 817.8,644.3 818.3,644.4 818.8,644.4 819.3,644.4 819.8,644.4 820.3,644.4 820.8,644.5 821.3,644.5 821.8,644.5 822.3,644.5 822.8,644.5 823.3,644.6 823.8,644.6 824.3,644.6 824.8,644.6 825.3,644.6 825.8,644.6 826.3,644.7 826.8,644.7 827.3,644.7 827.8,644.7 828.3,644.7 828.8,644.7 829.3,644.7 829.8,644.8 830.3,644.8 830.8,644.8 831.3,644.8 831.8,644.8 832.3,644.8 832.8,644.8 833.3,644.8 833.8,644.9 834.3,644.9 834.8,644.9 835.3,644.9 835.8,644.9 836.3,644.9 836.6,644.9" fill="none" stroke="#4aab80" stroke-width="1.7" stroke-linejoin="round" stroke-linecap="round"/>
<path d="M518.3,579.2 518.8,579.4 519.3,579.6 519.8,579.7 520.3,580.2 520.8,580.7 521.3,581.3 521.8,581.5 522.3,581.7 522.8,581.8 523.3,582.2 523.8,582.4 524.3,582.7 524.8,582.9 525.3,583.2 525.8,583.6 526.3,584 526.8,584.3 527.3,584.6 527.8,585 528.3,585.3 528.8,585.5 529.3,585.7 529.8,585.8 530.3,586 530.8,586.2 531.3,586.5 531.8,586.7 532.3,586.8 532.8,587 533.3,587.1 533.8,587.3 534.3,587.4 534.8,587.5 535.3,587.5 535.8,587.6 536.3,587.6 536.8,587.7 537.3,587.7 537.8,587.7 538.3,587.7 538.8,587.7 539.3,587.8 539.8,587.8 540.3,587.8 540.8,587.9 541.3,587.9 541.8,587.7 542.3,587.6 542.8,587.4 543.3,587.5 543.8,587.4 544.3,587.4 544.8,587.5 545.3,587.5 545.8,587.5 546.3,587.3 546.8,587.2 547.3,587.3 547.8,587.4 548.3,587.4 548.8,587.3 549.3,587.3 549.8,587.1 550.3,587 550.8,586.8 551.3,586.6 551.8,586.6 552.3,586.4 552.8,586.4 553.3,586.2 553.8,586 554.3,585.8 554.8,585.6 555.3,585.3 555.8,585.2 556.3,585 556.8,584.9 557.3,584.6 557.8,584.5 558.3,584.2 558.8,584 559.3,583.8 559.8,583.7 560.3,583.5 560.8,583.4 561.3,583.1 561.8,582.9 562.3,582.6 562.8,582.5 563.3,582.3 563.8,582 564.3,581.7 564.8,581.8 565.3,581.8 565.8,581.6 566.3,581.4 566.8,581.1 567.3,580.9 567.8,580.6 568.3,580.4 568.8,580.2 569.3,579.9 569.8,579.7 570.3,579.6 570.8,579.3 571.3,579.1 571.8,578.9 572.3,578.9 572.8,578.7 573.3,578.4 573.8,578.2 574.3,578.1 574.8,577.8 575.3,577.6 575.8,577.4 576.3,577.2 576.8,576.8 577.3,576.6 577.8,576.3 578.3,576.2 578.8,576.2 579.3,576.1 579.8,575.9 580.3,575.6 580.8,575.4 581.3,575.1 581.8,574.8 582.3,574.7 582.8,574.6 583.3,574.4 583.8,574.1 584.3,574 584.8,573.9 585.3,573.9 585.8,573.7 586.3,573.6 586.8,573.3 587.3,573.2 587.8,573.1 588.3,573 588.8,573 589.3,572.9 589.8,572.7 590.3,572.5 590.8,572.3 591.3,572.1 591.8,572 592.3,571.8 592.8,571.7 593.3,571.6 593.8,571.6 594.3,571.4 594.8,571.3 595.3,571.2 595.8,571.1 596.3,570.9 596.8,570.9 597.3,570.8 597.8,570.8 598.3,570.7 598.8,570.6 599.3,570.7 599.8,570.8 600.3,570.7 600.8,570.5 601.3,570.4 601.8,570.3 602.3,570.2 602.8,570.1 603.3,570 603.8,570 604.3,569.9 604.8,569.9 605.3,569.9 605.8,569.8 606.3,569.8 606.8,569.8 607.3,569.7 607.8,569.4 608.3,569.3 608.8,569.2 609.3,569.3 609.8,569.3 610.3,569.3 610.8,569.4 611.3,569.5 611.8,569.3 612.3,569.2 612.8,569.2 613.3,569.2 613.8,569.4 614.3,569.2 614.8,569.3 615.3,569.3 615.8,569.3 616.3,569.5 616.8,569.4 617.3,569.5 617.8,569.5 618.3,569.7 618.8,569.9 619.3,570 619.8,570 620.3,570 620.8,570.2 621.3,570.1 621.8,570.4 622.3,570.5 622.8,570.8 623.3,571 623.8,571 624.3,571.1 624.8,571.1 625.3,571.3 625.8,571.4 626.3,571.6 626.8,571.8 627.3,571.9 627.8,572.1 628.3,572.2 628.8,572.3 629.3,572.6 629.8,572.8 630.3,573 630.8,573.2 631.3,573.5 631.8,573.8 632.3,574 632.8,574.3 633.3,574.6 633.8,574.7 634.3,574.9 634.8,575.2 635.3,575.5 635.8,575.8 636.3,576 636.8,576.3 637.3,576.6 637.8,576.9 638.3,577.2 638.8,577.6 639.3,577.9 639.8,578.1 640.3,578.4 640.8,578.7 641.3,578.9 641.8,579.1 642.3,579.5 642.8,579.9 643.3,580.3 643.8,580.5 644.3,580.9 644.8,581.3 645.3,581.7 645.8,582 646.3,582.2 646.8,582.6 647.3,582.9 647.8,583.4 648.3,583.7 648.8,584.1 649.3,584.4 649.8,584.7 650.3,585 650.8,585.3 651.3,585.9 651.8,586.1 652.3,586.5 652.8,586.8 653.3,587.2 653.8,587.6 654.3,588 654.8,588.4 655.3,588.7 655.8,589.1 656.3,589.5 656.8,589.9 657.3,590.2 657.8,590.6 658.3,590.9 658.8,591.3 659.3,591.7 659.8,592.1 660.3,592.4 660.8,592.9 661.3,593.3 661.8,593.6 662.3,593.8 662.8,594.3 663.3,594.8 663.8,595.2 664.3,595.7 664.8,596 665.3,596.4 665.8,596.8 666.3,597.2 666.8,597.5 667.3,597.8 667.8,598.3 668.3,598.8 668.8,599.2 669.3,599.6 669.8,600.1 670.3,600.3 670.8,600.5 671.3,601 671.8,601.4 672.3,601.9 672.8,602.2 673.3,602.6 673.8,603 674.3,603.5 674.8,604 675.3,604.5 675.8,605 676.3,605.3 676.8,605.8 677.3,606.1 677.8,606.5 678.3,606.9 678.8,607.2 679.3,607.6 679.8,608 680.3,608.5 680.8,609.1 681.3,609.4 681.8,609.8 682.3,610.1 682.8,610.5 683.3,611 683.8,611.3 684.3,611.9 684.8,612.1 685.3,612.4 685.8,612.8 686.3,613.2 686.8,613.7 687.3,614.1 687.8,614.6 688.3,615 688.8,615.3 689.3,615.5 689.8,616 690.3,616.4 690.8,616.7 691.3,617 691.8,617.4 692.3,617.9 692.8,618.2 693.3,618.6 693.8,618.9 694.3,619.4 694.8,619.6 695.3,619.9 695.8,620.2 696.3,620.5 696.8,621 697.3,621.4 697.8,621.8 698.3,622 698.8,622.3 699.3,622.5 699.8,622.9 700.3,623.2 700.8,623.5 701.3,623.9 701.8,624.3 702.3,624.5 702.8,624.6 703.3,625 703.8,625.5 704.3,625.7 704.8,626 705.3,626.4 705.8,626.7 706.3,626.9 706.8,627.1 707.3,627.5 707.8,627.8 708.3,628.1 708.8,628.3 709.3,628.6 709.8,628.8 710.3,629 710.8,629.2 711.3,629.5 711.8,629.8 712.3,630 712.8,630.3 713.3,630.5 713.8,630.8 714.3,631 714.8,631.3 715.3,631.5 715.8,631.7 716.3,631.8 716.8,632.1 717.3,632.4 717.8,632.7 718.3,632.9 718.8,633.1 719.3,633.2 719.8,633.5 720.3,633.7 720.8,633.9 721.3,634.1 721.8,634.2 722.3,634.3 722.8,634.5 723.3,634.8 723.8,635 724.3,635.2 724.8,635.4 725.3,635.6 725.8,635.7 726.3,635.8 726.8,636.1 727.3,636.2 727.8,636.5 728.3,636.4 728.8,636.6 729.3,636.7 729.8,636.9 730.3,636.9 730.8,637.2 731.3,637.3 731.8,637.5 732.3,637.5 732.8,637.6 733.3,637.7 733.8,637.9 734.3,638 734.8,638 735.3,638 735.8,638.1 736.3,638.2 736.8,638.5 737.3,638.5 737.8,638.6 738.3,638.9 738.8,639.1 739.3,639.3 739.8,639.2 740.3,639.3 740.8,639.2 741.3,639.5 741.8,639.5 742.3,639.6 742.8,639.7 743.3,639.7 743.8,639.8 744.3,640 744.8,640.1 745.3,640.2 745.8,640.3 746.3,640.4 746.8,640.6 747.3,640.6 747.8,640.6 748.3,640.7 748.8,640.8 749.3,641 749.8,640.9 750.3,640.9 750.8,640.9 751.3,641.1 751.8,641.3 752.3,641.4 752.8,641.5 753.3,641.5 753.8,641.5 754.3,641.5 754.8,641.6 755.3,641.7 755.8,641.8 756.3,641.9 756.8,641.9 757.3,641.8 757.8,641.7 758.3,642 758.8,642 759.3,642.1 759.8,642 760.3,642.1 760.8,642.2 761.3,642.2 761.8,642.2 762.3,642.1 762.8,642.3 763.3,642.4 763.8,642.5 764.3,642.5 764.8,642.5 765.3,642.3 765.8,642.4 766.3,642.6 766.8,642.7 767.3,642.7 767.8,642.6 768.3,642.7 768.8,642.7 769.3,642.7 769.8,642.7 770.3,642.7 770.8,642.8 771.3,642.7 771.8,642.8 772.3,642.9 772.8,643 773.3,642.9 773.8,643 774.3,643.1 774.8,643.1 775.3,643.1 775.8,643.1 776.3,643.2 776.8,643 777.3,643 777.8,643.2 778.3,643.3 778.8,643.4 779.3,643.4 779.8,643.4 780.3,643.4 780.8,643.4 781.3,643.4 781.8,643.3 782.3,643.4 782.8,643.4 783.3,643.4 783.8,643.3 784.3,643.4 784.8,643.5 785.3,643.5 785.8,643.5 786.3,643.4 786.8,643.4 787.3,643.3 787.8,643.4 788.3,643.4 788.8,643.6 789.3,643.6 789.8,643.6 790.3,643.4 790.8,643.5 791.3,643.6 791.8,643.7 792.3,643.6 792.8,643.6 793.3,643.6 793.8,643.3 794.3,643.2 794.8,643.3 795.3,643.5 795.8,643.6 796.3,643.7 796.8,643.6 797.3,643.5 797.8,643.5 798.3,643.6 798.8,643.5 799.3,643.5 799.8,643.5 800.3,643.6 800.8,643.7 801.3,643.6 801.8,643.6 802.3,643.7 802.8,643.9 803.3,643.9 803.8,643.8 804.3,643.8 804.8,643.8 805.3,643.9 805.8,644 806.3,644 806.8,643.9 807.3,643.8 807.8,643.7 808.3,643.7 808.8,643.7 809.3,643.9 809.8,643.8 810.3,643.9 810.8,643.9 811.3,643.8 811.8,643.9 812.3,643.8 812.8,643.8 813.3,643.7 813.8,643.7 814.3,643.7 814.8,643.7 815.3,643.7 815.8,643.6 816.3,643.6 816.8,643.7 817.3,643.7 817.8,643.7 818.3,643.7 818.8,643.9 819.3,643.9 819.8,644 820.3,643.9 820.8,644 821.3,644.1 821.8,644.1 822.3,644 822.8,644 823.3,644 823.8,644.2 824.3,644.2 824.8,644.3 825.3,644.1 825.8,644.1 826.3,644 826.8,644 827.3,644 827.8,644 828.3,644 828.8,644 829.3,644 829.8,644.1 830.3,644.2 830.8,644.1 831.3,644 831.8,643.9 832.3,644.1 832.8,644 833.3,644 833.8,643.9 834.3,643.9 834.8,643.9 835.3,644 835.8,644.1 836.3,644.2 836.6,644.1" fill="none" stroke="#b384e0" stroke-width="1.7" stroke-linejoin="round" stroke-linecap="round"/>
<path d="M518.3,629.6 518.8,630.2 519.3,630.8 519.8,631.4 520.3,632.1 520.8,632.7 521.3,633.2 521.8,633.8 522.3,634.4 522.8,634.9 523.3,635.5 523.8,635.9 524.3,636.4 524.8,636.8 525.3,637.2 525.8,637.5 526.3,637.9 526.8,638.3 527.3,638.6 527.8,638.9 528.3,639 528.8,639.4 529.3,639.9 529.8,640.4 530.3,640.7 530.8,640.9 531.3,641.1 531.8,641.3 532.3,641.5 532.8,641.7 533.3,641.9 533.8,642.1 534.3,642.3 534.8,642.6 535.3,642.8 535.8,643 536.3,643.1 536.8,643.3 537.3,643.4 537.8,643.7 538.3,643.8 538.8,643.9 539.3,644 539.8,644.1 540.3,644.3 540.8,644.5 541.3,644.7 541.8,644.8 542.3,645 542.8,645.1 543.3,645.2 543.8,645.3 544.3,645.4 544.8,645.6 545.3,645.7 545.8,645.9 546.3,646 546.8,646.1 547.3,646.1 547.8,646.1 548.3,646.2 548.8,646.3 549.3,646.4 549.8,646.5 550.3,646.5 550.8,646.6 551.3,646.6 551.8,646.7 552.3,646.7 552.8,646.8 553.3,646.9 553.8,647 554.3,647.1 554.8,647.1 555.3,647.3 555.8,647.2 556.3,647.3 556.8,647.1 557.3,647.2 557.8,647.3 558.3,647.5 558.8,647.4 559.3,647.3 559.8,647.3 560.3,647.3 560.8,647.3 561.3,647.3 561.8,647.4 562.3,647.3 562.8,647.4 563.3,647.4 563.8,647.5 564.3,647.4 564.8,647.4 565.3,647.5 565.8,647.5 566.3,647.5 566.8,647.5 567.3,647.4 567.8,647.4 568.3,647.3 568.8,647.3 569.3,647.4 569.8,647.4 570.3,647.5 570.8,647.4 571.3,647.5 571.8,647.5 572.3,647.5 572.8,647.5 573.3,647.4 573.8,647.6 574.3,647.6 574.8,647.6 575.3,647.4 575.8,647.4 576.3,647.5 576.8,647.5 577.3,647.4 577.8,647.4 578.3,647.3 578.8,647.5 579.3,647.6 579.8,647.8 580.3,647.7 580.8,647.6 581.3,647.6 581.8,647.6 582.3,647.6 582.8,647.6 583.3,647.5 583.8,647.4 584.3,647.4 584.8,647.4 585.3,647.4 585.8,647.5 586.3,647.6 586.8,647.7 587.3,647.7 587.8,647.7 588.3,647.5 588.8,647.4 589.3,647.4 589.8,647.5 590.3,647.6 590.8,647.5 591.3,647.5 591.8,647.4 592.3,647.6 592.8,647.6 593.3,647.6 593.8,647.6 594.3,647.6 594.8,647.6 595.3,647.5 595.8,647.5 596.3,647.5 596.8,647.5 597.3,647.4 597.8,647.5 598.3,647.4 598.8,647.6 599.3,647.6 599.8,647.4 600.3,647.4 600.8,647.3 601.3,647.4 601.8,647.5 602.3,647.4 602.8,647.4 603.3,647.4 603.8,647.5 604.3,647.6 604.8,647.5 605.3,647.5 605.8,647.5 606.3,647.5 606.8,647.6 607.3,647.6 607.8,647.5 608.3,647.4 608.8,647.4 609.3,647.5 609.8,647.7 610.3,647.7 610.8,647.6 611.3,647.5 611.8,647.5 612.3,647.5 612.8,647.5 613.3,647.5 613.8,647.5 614.3,647.4 614.8,647.4 615.3,647.5 615.8,647.6 616.3,647.6 616.8,647.6 617.3,647.5 617.8,647.5 618.3,647.5 618.8,647.5 619.3,647.5 619.8,647.4 620.3,647.4 620.8,647.4 621.3,647.5 621.8,647.5 622.3,647.4 622.8,647.4 623.3,647.5 623.8,647.6 624.3,647.6 624.8,647.5 625.3,647.5 625.8,647.4 626.3,647.5 626.8,647.5 627.3,647.7 627.8,647.6 628.3,647.6 628.8,647.5 629.3,647.5 629.8,647.5 630.3,647.4 630.8,647.5 631.3,647.5 631.8,647.5 632.3,647.5 632.8,647.5 633.3,647.5 633.8,647.5 634.3,647.6 634.8,647.5 635.3,647.5 635.8,647.5 636.3,647.5 636.8,647.4 637.3,647.5 637.8,647.4 638.3,647.5 638.8,647.4 639.3,647.4 639.8,647.3 640.3,647.4 640.8,647.5 641.3,647.4 641.8,647.5 642.3,647.6 642.8,647.6 643.3,647.5 643.8,647.4 644.3,647.5 644.8,647.5 645.3,647.6 645.8,647.5 646.3,647.6 646.8,647.5 647.3,647.5 647.8,647.5 648.3,647.6 648.8,647.6 649.3,647.5 649.8,647.4 650.3,647.4 650.8,647.4 651.3,647.5 651.8,647.5 652.3,647.5 652.8,647.5 653.3,647.5 653.8,647.5 654.3,647.4 654.8,647.4 655.3,647.4 655.8,647.5 656.3,647.5 656.8,647.6 657.3,647.5 657.8,647.5 658.3,647.5 658.8,647.5 659.3,647.6 659.8,647.7 660.3,647.6 660.8,647.7 661.3,647.6 661.8,647.6 662.3,647.4 662.8,647.4 663.3,647.3 663.8,647.5 664.3,647.5 664.8,647.6 665.3,647.6 665.8,647.6 666.3,647.5 666.8,647.5 667.3,647.5 667.8,647.6 668.3,647.6 668.8,647.6 669.3,647.5 669.8,647.4 670.3,647.5 670.8,647.6 671.3,647.6 671.8,647.6 672.3,647.4 672.8,647.6 673.3,647.5 673.8,647.7 674.3,647.5 674.8,647.6 675.3,647.6 675.8,647.6 676.3,647.5 676.8,647.4 677.3,647.4 677.8,647.5 678.3,647.6 678.8,647.5 679.3,647.5 679.8,647.4 680.3,647.5 680.8,647.4 681.3,647.4 681.8,647.5 682.3,647.5 682.8,647.4 683.3,647.4 683.8,647.4 684.3,647.5 684.8,647.5 685.3,647.6 685.8,647.6 686.3,647.6 686.8,647.6 687.3,647.5 687.8,647.5 688.3,647.5 688.8,647.6 689.3,647.5 689.8,647.5 690.3,647.5 690.8,647.5 691.3,647.5 691.8,647.6 692.3,647.5 692.8,647.4 693.3,647.4 693.8,647.4 694.3,647.4 694.8,647.3 695.3,647.4 695.8,647.5 696.3,647.6 696.8,647.6 697.3,647.6 697.8,647.5 698.3,647.5 698.8,647.5 699.3,647.5 699.8,647.4 700.3,647.4 700.8,647.4 701.3,647.5 701.8,647.5 702.3,647.6 702.8,647.6 703.3,647.6 703.8,647.5 704.3,647.3 704.8,647.4 705.3,647.4 705.8,647.5 706.3,647.5 706.8,647.4 707.3,647.4 707.8,647.4 708.3,647.5 708.8,647.5 709.3,647.5 709.8,647.5 710.3,647.5 710.8,647.5 711.3,647.5 711.8,647.5 712.3,647.5 712.8,647.5 713.3,647.5 713.8,647.5 714.3,647.5 714.8,647.5 715.3,647.6 715.8,647.5 716.3,647.4 716.8,647.3 717.3,647.4 717.8,647.5 718.3,647.4 718.8,647.4 719.3,647.4 719.8,647.4 720.3,647.4 720.8,647.5 721.3,647.6 721.8,647.5 722.3,647.4 722.8,647.4 723.3,647.4 723.8,647.3 724.3,647.4 724.8,647.4 725.3,647.5 725.8,647.5 726.3,647.5 726.8,647.5 727.3,647.4 727.8,647.5 728.3,647.5 728.8,647.5 729.3,647.5 729.8,647.5 730.3,647.5 730.8,647.4 731.3,647.4 731.8,647.5 732.3,647.5 732.8,647.4 733.3,647.4 733.8,647.5 734.3,647.6 734.8,647.6 735.3,647.7 735.8,647.6 736.3,647.6 736.8,647.4 737.3,647.4 737.8,647.4 738.3,647.4 738.8,647.4 739.3,647.5 739.8,647.4 740.3,647.4 740.8,647.4 741.3,647.3 741.8,647.4 742.3,647.4 742.8,647.3 743.3,647.3 743.8,647.4 744.3,647.5 744.8,647.5 745.3,647.5 745.8,647.5 746.3,647.5 746.8,647.4 747.3,647.4 747.8,647.3 748.3,647.4 748.8,647.5 749.3,647.5 749.8,647.4 750.3,647.4 750.8,647.4 751.3,647.4 751.8,647.4 752.3,647.4 752.8,647.5 753.3,647.5 753.8,647.6 754.3,647.6 754.8,647.5 755.3,647.3 755.8,647.4 756.3,647.3 756.8,647.5 757.3,647.4 757.8,647.5 758.3,647.4 758.8,647.4 759.3,647.3 759.8,647.4 760.3,647.3 760.8,647.4 761.3,647.4 761.8,647.5 762.3,647.5 762.8,647.5 763.3,647.4 763.8,647.4 764.3,647.4 764.8,647.4 765.3,647.5 765.8,647.4 766.3,647.5 766.8,647.4 767.3,647.4 767.8,647.4 768.3,647.5 768.8,647.6 769.3,647.5 769.8,647.5 770.3,647.4 770.8,647.5 771.3,647.4 771.8,647.5 772.3,647.5 772.8,647.4 773.3,647.4 773.8,647.3 774.3,647.3 774.8,647.4 775.3,647.4 775.8,647.3 776.3,647.3 776.8,647.3 777.3,647.4 777.8,647.4 778.3,647.4 778.8,647.4 779.3,647.3 779.8,647.3 780.3,647.3 780.8,647.3 781.3,647.3 781.8,647.2 782.3,647.2 782.8,647.2 783.3,647.2 783.8,647.2 784.3,647.2 784.8,647.3 785.3,647.4 785.8,647.4 786.3,647.4 786.8,647.4 787.3,647.5 787.8,647.4 788.3,647.4 788.8,647.4 789.3,647.5 789.8,647.4 790.3,647.4 790.8,647.5 791.3,647.5 791.8,647.5 792.3,647.4 792.8,647.4 793.3,647.4 793.8,647.4 794.3,647.4 794.8,647.4 795.3,647.4 795.8,647.4 796.3,647.4 796.8,647.4 797.3,647.4 797.8,647.3 798.3,647.3 798.8,647.3 799.3,647.2 799.8,647.2 800.3,647.2 800.8,647.4 801.3,647.4 801.8,647.6 802.3,647.5 802.8,647.5 803.3,647.4 803.8,647.4 804.3,647.3 804.8,647.4 805.3,647.3 805.8,647.3 806.3,647.3 806.8,647.3 807.3,647.3 807.8,647.3 808.3,647.3 808.8,647.3 809.3,647.3 809.8,647.5 810.3,647.5 810.8,647.5 811.3,647.4 811.8,647.5 812.3,647.4 812.8,647.3 813.3,647.2 813.8,647.2 814.3,647.3 814.8,647.3 815.3,647.4 815.8,647.4 816.3,647.4 816.8,647.3 817.3,647.4 817.8,647.4 818.3,647.4 818.8,647.4 819.3,647.3 819.8,647.4 820.3,647.3 820.8,647.4 821.3,647.5 821.8,647.5 822.3,647.5 822.8,647.4 823.3,647.4 823.8,647.3 824.3,647.4 824.8,647.4 825.3,647.4 825.8,647.4 826.3,647.4 826.8,647.5 827.3,647.5 827.8,647.4 828.3,647.4 828.8,647.3 829.3,647.3 829.8,647.3 830.3,647.3 830.8,647.3 831.3,647.3 831.8,647.4 832.3,647.4 832.8,647.4 833.3,647.5 833.8,647.5 834.3,647.4 834.8,647.2 835.3,647.2 835.8,647.1 836.3,647.2 836.6,647.2" fill="none" stroke="#3f6fcb" stroke-width="1.9" stroke-linejoin="round" stroke-linecap="round"/>
<line x1="619.4" y1="520.8" x2="617.0" y2="654.5" stroke="#b318b6" stroke-width="2.2" stroke-dasharray="11.6 8.9"/>
<line x1="627.5" y1="554.1" x2="677" y2="554.1" stroke="#000" stroke-width="1.3"/>
<path d="M675.2,548.6 L697.6,554.1 L675.2,559.6Z" fill="#000"/>
<text x="701.9" y="560.4" font-size="18" textLength="118.3" lengthAdjust="spacingAndGlyphs" stroke="#000" stroke-width="0.4">Cu(III) 416 nm</text>
<line x1="603.4" y1="417.8" x2="641" y2="417.8" stroke="#4aab80" stroke-width="1.6"/>
<line x1="603.4" y1="437.9" x2="641" y2="437.9" stroke="#b384e0" stroke-width="1.6"/>
<line x1="603.4" y1="461.6" x2="641" y2="461.6" stroke="#3f78cf" stroke-width="1.6"/>
<line x1="603.4" y1="485.3" x2="641" y2="485.3" stroke="#e8505b" stroke-width="1.6"/>
<line x1="603.4" y1="505.1" x2="641" y2="505.1" stroke="#555555" stroke-width="1.6"/>
<text x="645" y="423.3" font-size="16.3" textLength="185.1" lengthAdjust="spacingAndGlyphs" stroke="#000" stroke-width="0.4">Cu(III)-periodate complex</text>
<text x="645" y="443.1" font-size="16.3" textLength="185.1" lengthAdjust="spacingAndGlyphs" stroke="#000" stroke-width="0.4">CuNW@rGO/NaIO<tspan font-size="10.5" dy="4.2">4</tspan><tspan dy="-4.2">/PMS</tspan></text>
<text x="645" y="466.8" font-size="16.3" textLength="145.6" lengthAdjust="spacingAndGlyphs" stroke="#000" stroke-width="0.4">CuNW@rGO/NaIO<tspan font-size="10.5" dy="4.2">4</tspan><tspan dy="-4.2"></tspan></text>
<text x="645" y="489.9" font-size="16.3" textLength="136.3" lengthAdjust="spacingAndGlyphs" stroke="#000" stroke-width="0.4">CuNW@rGO/PMS</text>
<text x="645" y="509.6" font-size="16.3" textLength="35.6" lengthAdjust="spacingAndGlyphs" stroke="#000" stroke-width="0.4">PMS</text>
<rect x="518.3" y="408.9" width="318.5" height="253.7" fill="none" stroke="#000" stroke-width="1.6"/>
<line x1="518.3" y1="647.6" x2="511.8" y2="647.6" stroke="#000" stroke-width="1.6"/>
<line x1="518.3" y1="587.9" x2="511.8" y2="587.9" stroke="#000" stroke-width="1.6"/>
<line x1="518.3" y1="528.2" x2="511.8" y2="528.2" stroke="#000" stroke-width="1.6"/>
<line x1="518.3" y1="468.6" x2="511.8" y2="468.6" stroke="#000" stroke-width="1.6"/>
<line x1="518.3" y1="408.9" x2="511.8" y2="408.9" stroke="#000" stroke-width="1.6"/>
<line x1="518.3" y1="617.8" x2="515" y2="617.8" stroke="#000" stroke-width="1.6"/>
<line x1="518.3" y1="558.1" x2="515" y2="558.1" stroke="#000" stroke-width="1.6"/>
<line x1="518.3" y1="498.4" x2="515" y2="498.4" stroke="#000" stroke-width="1.6"/>
<line x1="518.3" y1="438.7" x2="515" y2="438.7" stroke="#000" stroke-width="1.6"/>
<text x="506.8" y="653.1" font-size="15.6" text-anchor="end" stroke="#000" stroke-width="0.4">0.0</text>
<text x="506.8" y="593.4" font-size="15.6" text-anchor="end" stroke="#000" stroke-width="0.4">0.2</text>
<text x="506.8" y="533.7" font-size="15.6" text-anchor="end" stroke="#000" stroke-width="0.4">0.4</text>
<text x="506.8" y="474.1" font-size="15.6" text-anchor="end" stroke="#000" stroke-width="0.4">0.6</text>
<text x="506.8" y="414.4" font-size="15.6" text-anchor="end" stroke="#000" stroke-width="0.4">0.8</text>
<line x1="518.3" y1="662.6" x2="518.3" y2="669.6" stroke="#000" stroke-width="1.6"/>
<line x1="594.1" y1="662.6" x2="594.1" y2="669.6" stroke="#000" stroke-width="1.6"/>
<line x1="670" y1="662.6" x2="670" y2="669.6" stroke="#000" stroke-width="1.6"/>
<line x1="745.8" y1="662.6" x2="745.8" y2="669.6" stroke="#000" stroke-width="1.6"/>
<line x1="821.6" y1="662.6" x2="821.6" y2="669.6" stroke="#000" stroke-width="1.6"/>
<line x1="556.2" y1="662.6" x2="556.2" y2="665.9" stroke="#000" stroke-width="1.6"/>
<line x1="632" y1="662.6" x2="632" y2="665.9" stroke="#000" stroke-width="1.6"/>
<line x1="707.9" y1="662.6" x2="707.9" y2="665.9" stroke="#000" stroke-width="1.6"/>
<line x1="783.7" y1="662.6" x2="783.7" y2="665.9" stroke="#000" stroke-width="1.6"/>
<text x="518.3" y="686.3" font-size="15.6" text-anchor="middle" stroke="#000" stroke-width="0.4">350</text>
<text x="594.1" y="686.3" font-size="15.6" text-anchor="middle" stroke="#000" stroke-width="0.4">400</text>
<text x="670" y="686.3" font-size="15.6" text-anchor="middle" stroke="#000" stroke-width="0.4">450</text>
<text x="745.8" y="686.3" font-size="15.6" text-anchor="middle" stroke="#000" stroke-width="0.4">500</text>
<text x="821.6" y="686.3" font-size="15.6" text-anchor="middle" stroke="#000" stroke-width="0.4">550</text>
<text x="677.5" y="714.5" font-size="24.5" text-anchor="middle" textLength="189.4" lengthAdjust="spacingAndGlyphs" stroke="#000" stroke-width="0.4">Wavelength (nm)</text>
<text x="470.5" y="535.5" font-size="24.5" text-anchor="middle" textLength="132.4" lengthAdjust="spacingAndGlyphs" stroke="#000" stroke-width="0.4" transform="rotate(-90 470.5 535.5)">Absorbance</text>
<text x="856.3" y="390.4" font-size="32" stroke="#000" stroke-width="0.4">f</text>
<line x1="895.9" y1="458.3" x2="896.3" y2="668.5" stroke="#c98a4b" stroke-width="1.7" stroke-dasharray="9.6 10.9" stroke-dashoffset="0"/>
<line x1="1039.8" y1="474.3" x2="1037.2" y2="668.2" stroke="#3b8c4c" stroke-width="1.7" stroke-dasharray="10.3 10.2" stroke-dashoffset="0"/>
<path d="M890.6,531.6 L890.6,524.6 L894.7,519.9 L896.0,521.6 L896.0,531.6Z" fill="#c9a6ef"/>
<path d="M885,459 885.5,458.8 886,458.1 886.5,457.9 887,457.7 887.5,457.7 888,457.6 888.5,457.5 889,457.4 889.5,457.1 890,457 890.5,457 891,457.1 891.5,456.9 892,456.7 892.5,456.6 893,456.9 893.5,456.9 894,456.8 894.5,456.8 895,456.9 895.5,457.2 896,457.4 896.5,457.8 897,458 897.5,458.2 898,458.3 898.5,458.6 899,458.8 899.5,459.3 900,459.7 900.5,460.3 901,460.7 901.5,461.2 902,461.7 902.5,462.2 903,462.7 903.5,462.9 904,463.4 904.5,463.6 905,464.1 905.5,464.3 906,464.7 906.5,465.3 907,465.6 907.5,466 908,466.2 908.5,466.5 909,466.7 909.5,467.1 910,467.7 910.5,468.3 911,468.7 911.5,469 912,469.3 912.5,469.7 913,469.9 913.5,470.3 914,470.5 914.5,470.7 915,471.2 915.5,471.4 916,471.8 916.5,472.1 917,472.3 917.5,472.5 918,472.6 918.5,472.8 919,473 919.5,473 920,473.4 920.5,473.6 921,473.8 921.5,474 922,474.2 922.5,474.4 923,474.4 923.5,474.3 924,474.2 924.5,474.5 925,474.5 925.5,474.9 926,475.2 926.5,475.4 927,475.3 927.5,475.2 928,475.6 928.5,475.7 929,475.8 929.5,475.8 930,476 930.5,476.3 931,476.4 931.5,476.5 932,476.6 932.5,476.9 933,476.9 933.5,477.1 934,477.2 934.5,477.6 935,477.6 935.5,477.6 936,477.6 936.5,477.8 937,478.1 937.5,478.3 938,478.6 938.5,478.9 939,479.1 939.5,479.2 940,478.9 940.5,478.9 941,478.9 941.5,479.2 942,479.6 942.5,479.6 943,479.8 943.5,479.9 944,479.9 944.5,479.9 945,479.9 945.5,480 946,480.4 946.5,480.3 947,480.4 947.5,480.2 948,480.3 948.5,480.6 949,480.7 949.5,480.7 950,480.6 950.5,480.7 951,480.7 951.5,480.7 952,480.8 952.5,481 953,481 953.5,480.9 954,480.8 954.5,480.7 955,480.9 955.5,481 956,481.2 956.5,481 957,480.9 957.5,481 958,481.2 958.5,481.2 959,481.3 959.5,481.4 960,481.4 960.5,481.3 961,481.2 961.5,481.2 962,481.4 962.5,481.6 963,481.8 963.5,481.7 964,481.6 964.5,481.6 965,481.8 965.5,482 966,482 966.5,482.2 967,482.4 967.5,482.7 968,482.9 968.5,482.8 969,482.8 969.5,482.7 970,482.8 970.5,482.7 971,482.8 971.5,482.7 972,482.9 972.5,483 973,483.1 973.5,483 974,483 974.5,482.8 975,483.1 975.5,483.1 976,483.3 976.5,483.1 977,482.9 977.5,482.8 978,482.8 978.5,483.1 979,483.1 979.5,483 980,482.9 980.5,482.8 981,482.7 981.5,482.6 982,482.8 982.5,482.9 983,483.1 983.5,483.1 984,483.1 984.5,483.1 985,483.3 985.5,483.1 986,482.9 986.5,482.8 987,482.8 987.5,482.7 988,482.4 988.5,482.4 989,482.3 989.5,482.5 990,482.7 990.5,482.9 991,482.8 991.5,482.4 992,482.2 992.5,482.1 993,482.3 993.5,482.2 994,482 994.5,482 995,481.7 995.5,481.8 996,481.7 996.5,481.9 997,482 997.5,481.7 998,481.6 998.5,481.5 999,481.6 999.5,481.5 1000,481.3 1000.5,481.3 1001,481.2 1001.5,481.1 1002,480.9 1002.5,480.7 1003,480.7 1003.5,480.8 1004,480.7 1004.5,480.8 1005,480.7 1005.5,480.6 1006,480.3 1006.5,480 1007,479.8 1007.5,479.7 1008,479.7 1008.5,479.6 1009,479.6 1009.5,479.4 1010,479.4 1010.5,479.2 1011,479.2 1011.5,479.3 1012,479.1 1012.5,478.8 1013,478.4 1013.5,478.3 1014,478.3 1014.5,478.3 1015,478.3 1015.5,478.2 1016,477.9 1016.5,477.6 1017,477.3 1017.5,477.4 1018,477.3 1018.5,477.2 1019,477.2 1019.5,477.2 1020,477.2 1020.5,476.9 1021,476.6 1021.5,476.6 1022,476.7 1022.5,476.8 1023,476.6 1023.5,476.5 1024,476.4 1024.5,476.4 1025,476.3 1025.5,476.5 1026,476.5 1026.5,476.5 1027,476.6 1027.5,476.5 1028,476.5 1028.5,476.4 1029,476.5 1029.5,476.5 1030,476.6 1030.5,476.3 1031,476.4 1031.5,476.2 1032,476.1 1032.5,475.8 1033,475.8 1033.5,475.7 1034,475.8 1034.5,475.5 1035,475.4 1035.5,475.3 1036,475 1036.5,474.6 1037,474.4 1037.5,474.1 1038,474 1038.5,473.8 1039,473.8 1039.5,473.5 1040,473.1 1040.5,472.7 1041,472.2 1041.5,471.9 1042,471.5 1042.5,471.3 1043,471.2 1043.5,471.1 1044,471.3 1044.5,471.4 1045,471.3 1045.5,471.5 1046,471.8 1046.5,472.7 1047,473.4 1047.5,474.4 1048,475.1 1048.5,475.9 1049,476.4 1049.5,476.6 1050,476.9 1050.5,477.3 1051,477.9 1051.5,478.4 1052,479.1 1052.5,479.6 1053,480.2 1053.5,480.3 1054,480.9 1054.5,480.9 1055,481.3 1055.5,481.2 1056,481.6 1056.5,481.9 1057,482 1057.5,482 1058,482 1058.5,482.3 1058.8,482.4" fill="none" stroke="#2fd32f" stroke-width="1.7" stroke-linejoin="round" stroke-linecap="round"/>
<path d="M885,531.7 885.3,531.4 885.6,531 885.9,530.7 886.2,530.4 886.5,530 886.8,529.7 887.1,529.3 887.4,529 887.7,528.6 888,528.3 888.3,527.9 888.6,527.6 888.9,527.2 889.2,526.9 889.5,526.5 889.8,526.1 890.1,525.7 890.4,525.2 890.7,524.7 891,524.3 891.3,523.7 891.6,523.2 891.9,522.7 892.2,522.3 892.5,521.8 892.8,521.4 893.1,521 893.4,520.6 893.7,520.4 894,520.1 894.3,520 894.6,519.9 894.9,519.9 895.2,520.1 895.5,520.3 895.8,520.7 896.1,521 896.4,521.5 896.7,521.9 897,522.4 897.3,522.8 897.6,523.2 897.9,523.5 898.2,523.8 898.5,524 898.8,524.3 899.1,524.6 899.4,524.8 899.7,525.1 900,525.3 900.3,525.5 900.6,525.6 900.9,525.7 901.2,525.8 901.5,525.7 901.8,525.4 902.1,524.9 902.4,524.2 902.7,523.4 903,522.6 903.3,521.8 903.6,521 903.9,520.3 904.2,519.5 904.5,518.5 904.8,517.6 905.1,516.7 905.4,515.9 905.7,515.3 906,514.9 906.3,514.8 906.6,515.1 906.9,515.7 907.2,516.4 907.5,517.3 907.8,518.2 908.1,519 908.4,519.7 908.7,520.4 909,521.1 909.3,521.8 909.6,522.5 909.9,523.1 910.2,523.8 910.5,524.4 910.8,524.9 911.1,525.4 911.4,525.9 911.7,526.4 912,526.9 912.3,527.3 912.6,527.7 912.9,528.1 913.2,528.5 913.5,528.8 913.8,529.1 914.1,529.4 914.4,529.6 914.7,529.8 915,530.1 915.3,530.3 915.6,530.5 915.9,530.7 916.2,530.8 916.5,531 916.8,531.2 917.1,531.3 917.4,531.4 917.7,531.5 918,531.6 918.3,531.7 918.6,531.8 918.9,531.8 919.2,531.9 919.5,531.9 919.8,532 920.1,532.1 920.4,532.1 920.7,532.2 921,532.2 921.3,532.3 921.6,532.3 921.9,532.4 922.2,532.4 922.5,532.4 922.8,532.5 923.1,532.5 923.4,532.6 923.7,532.6 924,532.6 924.3,532.7 924.6,532.7 924.9,532.7 925.2,532.8 925.5,532.8 925.8,532.8 926.1,532.9 926.4,532.9 926.7,532.9 927,532.9 927.3,533 927.6,533 927.9,533 928.2,533 928.5,533 928.8,533.1 929.1,533.1 929.4,533.1 929.7,533.1 930,533.1 930.3,533.1 930.6,533.2 930.9,533.2 931.2,533.2 931.5,533.2 931.8,533.2 932.1,533.2 932.4,533.2 932.7,533.2 933,533.3 933.3,533.3 933.6,533.3 933.9,533.3 934.2,533.3 934.5,533.3 934.8,533.3 935.1,533.3 935.4,533.3 935.7,533.3 936,533.4 936.3,533.4 936.6,533.4 936.9,533.4 937.2,533.4 937.5,533.4 937.8,533.4 938.1,533.4 938.4,533.4 938.7,533.4 939,533.4 939.3,533.4 939.6,533.5 939.9,533.5 940.2,533.5 940.5,533.5 940.8,533.5 941.1,533.5 941.4,533.5 941.7,533.5 942,533.5 942.3,533.5 942.6,533.5 942.9,533.5 943.2,533.5 943.5,533.5 943.8,533.5 944.1,533.5 944.4,533.6 944.7,533.6 945,533.6 945.3,533.6 945.6,533.6 945.9,533.6 946.2,533.6 946.5,533.6 946.8,533.6 947.1,533.6 947.4,533.6 947.7,533.6 948,533.6 948.3,533.6 948.6,533.6 948.9,533.6 949.2,533.6 949.5,533.6 949.8,533.6 950.1,533.6 950.4,533.7 950.7,533.7 951,533.7 951.3,533.7 951.6,533.7 951.9,533.7 952.2,533.7 952.5,533.7 952.8,533.7 953.1,533.7 953.4,533.7 953.7,533.7 954,533.7 954.3,533.7 954.6,533.7 954.9,533.7 955.2,533.7 955.5,533.7 955.8,533.7 956.1,533.7 956.4,533.7 956.7,533.7 957,533.8 957.3,533.8 957.6,533.8 957.9,533.8 958.2,533.8 958.5,533.8 958.8,533.8 959.1,533.8 959.4,533.8 959.7,533.8 960,533.8 960.3,533.8 960.6,533.8 960.9,533.8 961.2,533.8 961.5,533.8 961.8,533.8 962.1,533.8 962.4,533.8 962.7,533.8 963,533.8 963.3,533.8 963.6,533.8 963.9,533.9 964.2,533.9 964.5,533.9 964.8,533.9 965.1,533.9 965.4,533.9 965.7,533.9 966,533.9 966.3,533.9 966.6,533.9 966.9,533.9 967.2,533.9 967.5,533.9 967.8,533.9 968.1,533.9 968.4,533.9 968.7,533.9 969,533.9 969.3,533.9 969.6,533.9 969.9,533.9 970.2,533.9 970.5,533.9 970.8,533.9 971.1,533.9 971.4,533.9 971.7,533.7 972,533.4 972.3,533.1 972.6,532.7 972.9,532.4 973.2,531.8 973.5,531.1 973.8,530.6 974.1,530.2 974.4,530.3 974.7,530.6 975,531.2 975.3,531.9 975.6,532.5 975.9,533.1 976.2,533.4 976.5,533.8 976.8,534.2 977.1,534.6 977.4,534.9 977.7,535.2 978,535.4 978.3,535.5 978.6,535.6 978.9,535.6 979.2,535.5 979.5,535.4 979.8,535.2 980.1,535 980.4,534.8 980.7,534.5 981,534.3 981.3,534.1 981.6,533.8 981.9,533.5 982.2,533.2 982.5,532.8 982.8,532.4 983.1,532.1 983.4,531.8 983.7,531.7 984,531.7 984.3,531.9 984.6,532.1 984.9,532.4 985.2,532.8 985.5,533.1 985.8,533.4 986.1,533.6 986.4,533.7 986.7,533.9 987,534 987.3,534.2 987.6,534.3 987.9,534.4 988.2,534.5 988.5,534.6 988.8,534.7 989.1,534.7 989.4,534.8 989.7,534.8 990,534.9 990.3,534.9 990.6,534.9 990.9,535 991.2,535 991.5,535 991.8,535.1 992.1,535.1 992.4,535.1 992.7,535.2 993,535.2 993.3,535.2 993.6,535.2 993.9,535.3 994.2,535.3 994.5,535.3 994.8,535.3 995.1,535.3 995.4,535.3 995.7,535.4 996,535.4 996.3,535.4 996.6,535.4 996.9,535.4 997.2,535.4 997.5,535.4 997.8,535.4 998.1,535.4 998.4,535.4 998.7,535.3 999,535.3 999.3,535.3 999.6,535.2 999.9,535.1 1000.2,535.1 1000.5,535 1000.8,534.9 1001.1,534.9 1001.4,534.8 1001.7,534.7 1002,534.6 1002.3,534.5 1002.6,534.4 1002.9,534.3 1003.2,534.2 1003.5,534.1 1003.8,534 1004.1,533.9 1004.4,533.8 1004.7,533.7 1005,533.5 1005.3,533.4 1005.6,533.2 1005.9,533 1006.2,532.8 1006.5,532.6 1006.8,532.3 1007.1,532 1007.4,531.6 1007.7,531.2 1008,530.7 1008.3,530.2 1008.6,529.7 1008.9,529.1 1009.2,528.5 1009.5,527.9 1009.8,527.2 1010.1,526.4 1010.4,525.6 1010.7,524.7 1011,523.6 1011.3,522.3 1011.6,520.8 1011.9,519.1 1012.2,517.2 1012.5,515.2 1012.8,513 1013.1,510.6 1013.4,508 1013.7,505 1014,501.9 1014.3,498.3 1014.6,494.2 1014.9,489.9 1015.2,485.5 1015.5,481.2 1015.8,477.2 1016.1,473.6 1016.4,470.1 1016.7,466.3 1017,463 1017.3,460.5 1017.6,459.6 1017.9,459.9 1018.2,460.8 1018.5,462 1018.8,463.5 1019.1,465.3 1019.4,467 1019.7,468.7 1020,470.2 1020.3,471.8 1020.6,473.5 1020.9,475.2 1021.2,477 1021.5,479 1021.8,481 1022.1,483.1 1022.4,485.6 1022.7,488.5 1023,491.5 1023.3,494.7 1023.6,497.9 1023.9,501 1024.2,504 1024.5,506.7 1024.8,509.1 1025.1,511 1025.4,512.8 1025.7,514.6 1026,516.2 1026.3,517.8 1026.6,519.3 1026.9,520.6 1027.2,521.7 1027.5,522.7 1027.8,523.4 1028.1,524 1028.4,524.5 1028.7,525 1029,525.4 1029.3,525.8 1029.6,526.2 1029.9,526.5 1030.2,526.7 1030.5,526.9 1030.8,526.9 1031.1,526.9 1031.4,526.7 1031.7,526.5 1032,526.3 1032.3,525.9 1032.6,525.6 1032.9,525.1 1033.2,524.6 1033.5,524.1 1033.8,523.5 1034.1,522.9 1034.4,522.3 1034.7,521.6 1035,520.5 1035.3,519.1 1035.6,517.5 1035.9,515.7 1036.2,513.8 1036.5,511.8 1036.8,509.9 1037.1,508.1 1037.4,506.5 1037.7,505 1038,503.3 1038.3,501.6 1038.6,499.9 1038.9,498.4 1039.2,497.2 1039.5,496.5 1039.8,496.4 1040.1,496.9 1040.4,498 1040.7,499.3 1041,501 1041.3,502.7 1041.6,504.4 1041.9,506 1042.2,507.6 1042.5,509.3 1042.8,511.2 1043.1,513.2 1043.4,515.1 1043.7,517 1044,518.7 1044.3,520.2 1044.6,521.4 1044.9,522.4 1045.2,523.2 1045.5,524 1045.8,524.7 1046.1,525.4 1046.4,526.1 1046.7,526.7 1047,527.3 1047.3,527.8 1047.6,528.3 1047.9,528.8 1048.2,529.2 1048.5,529.5 1048.8,529.8 1049.1,530.1 1049.4,530.4 1049.7,530.6 1050,530.8 1050.3,531 1050.6,531.2 1050.9,531.4 1051.2,531.6 1051.5,531.7 1051.8,531.9 1052.1,532 1052.4,532.2 1052.7,532.3 1053,532.4 1053.3,532.4 1053.6,532.5 1053.9,532.5 1054.2,532.6 1054.5,532.6 1054.8,532.6 1055.1,532.7 1055.4,532.7 1055.7,532.7 1056,532.8 1056.3,532.8 1056.6,532.8 1056.9,532.8 1057.2,532.9 1057.5,532.9 1057.8,532.9 1058.1,532.9 1058.4,532.9 1058.7,532.9 1058.8,532.9" fill="none" stroke="#7a26dc" stroke-width="1.4" stroke-linejoin="round" stroke-linecap="round"/>
<path d="M885,617.1 885.3,617.1 885.6,617.1 885.9,617.1 886.2,617.1 886.5,617 886.8,617 887.1,617 887.4,617 887.7,616.9 888,616.9 888.3,616.9 888.6,616.8 888.9,616.8 889.2,616.7 889.5,616.7 889.8,616.6 890.1,616.6 890.4,616.5 890.7,616.5 891,616.4 891.3,616.3 891.6,616.3 891.9,616.2 892.2,616.1 892.5,616 892.8,615.9 893.1,615.7 893.4,615.5 893.7,615.3 894,615 894.3,614.8 894.6,614.5 894.9,614.3 895.2,614.1 895.5,613.9 895.8,613.7 896.1,613.6 896.4,613.5 896.7,613.4 897,613.4 897.3,613.5 897.6,613.6 897.9,613.8 898.2,614 898.5,614.2 898.8,614.4 899.1,614.7 899.4,614.9 899.7,615.1 900,615.3 900.3,615.5 900.6,615.6 900.9,615.8 901.2,616 901.5,616.1 901.8,616.3 902.1,616.4 902.4,616.5 902.7,616.6 903,616.7 903.3,616.8 903.6,616.8 903.9,616.8 904.2,616.8 904.5,616.9 904.8,616.9 905.1,616.9 905.4,616.9 905.7,616.9 906,616.9 906.3,617 906.6,617 906.9,617 907.2,617 907.5,617 907.8,617 908.1,617.1 908.4,617.1 908.7,617.1 909,617.1 909.3,617.1 909.6,617.1 909.9,617.1 910.2,617.2 910.5,617.2 910.8,617.2 911.1,617.2 911.4,617.2 911.7,617.2 912,617.2 912.3,617.2 912.6,617.3 912.9,617.3 913.2,617.3 913.5,617.3 913.8,617.3 914.1,617.3 914.4,617.3 914.7,617.3 915,617.3 915.3,617.3 915.6,617.4 915.9,617.4 916.2,617.4 916.5,617.4 916.8,617.4 917.1,617.4 917.4,617.4 917.7,617.4 918,617.4 918.3,617.4 918.6,617.4 918.9,617.4 919.2,617.5 919.5,617.5 919.8,617.5 920.1,617.5 920.4,617.5 920.7,617.5 921,617.5 921.3,617.5 921.6,617.5 921.9,617.5 922.2,617.5 922.5,617.5 922.8,617.5 923.1,617.5 923.4,617.5 923.7,617.5 924,617.5 924.3,617.5 924.6,617.5 924.9,617.5 925.2,617.6 925.5,617.6 925.8,617.6 926.1,617.6 926.4,617.6 926.7,617.6 927,617.6 927.3,617.6 927.6,617.6 927.9,617.6 928.2,617.6 928.5,617.6 928.8,617.6 929.1,617.6 929.4,617.6 929.7,617.6 930,617.6 930.3,617.6 930.6,617.6 930.9,617.6 931.2,617.6 931.5,617.6 931.8,617.6 932.1,617.6 932.4,617.6 932.7,617.6 933,617.6 933.3,617.6 933.6,617.6 933.9,617.6 934.2,617.6 934.5,617.6 934.8,617.6 935.1,617.5 935.4,617.4 935.7,617.3 936,617.1 936.3,616.9 936.6,616.7 936.9,616.5 937.2,616.3 937.5,616 937.8,615.6 938.1,614.9 938.4,614.1 938.7,613.2 939,612.3 939.3,611.5 939.6,610.9 939.9,610.6 940.2,610.7 940.5,611.1 940.8,611.7 941.1,612.5 941.4,613.3 941.7,614.1 942,614.8 942.3,615.2 942.6,615.5 942.9,615.8 943.2,616 943.5,616.3 943.8,616.5 944.1,616.6 944.4,616.7 944.7,616.8 945,616.8 945.3,616.8 945.6,616.8 945.9,616.8 946.2,616.8 946.5,616.8 946.8,616.8 947.1,616.8 947.4,616.9 947.7,616.9 948,616.9 948.3,616.9 948.6,616.9 948.9,616.9 949.2,616.9 949.5,616.9 949.8,616.9 950.1,616.9 950.4,616.9 950.7,616.9 951,616.9 951.3,616.9 951.6,616.9 951.9,616.9 952.2,616.9 952.5,616.9 952.8,616.9 953.1,617 953.4,617 953.7,617 954,617 954.3,617 954.6,617 954.9,617 955.2,617 955.5,617 955.8,617 956.1,617 956.4,617 956.7,617 957,617 957.3,617 957.6,617 957.9,617 958.2,617 958.5,617 958.8,617 959.1,617 959.4,617 959.7,617 960,617 960.3,617 960.6,617 960.9,617 961.2,617 961.5,617 961.8,617 962.1,617 962.4,617 962.7,617.1 963,617.1 963.3,617.1 963.6,617.1 963.9,617.1 964.2,617.1 964.5,617.1 964.8,617.1 965.1,617.1 965.4,617.1 965.7,617.1 966,617.1 966.3,617.1 966.6,617.1 966.9,617.1 967.2,617.1 967.5,617.1 967.8,617.1 968.1,617.1 968.4,617.1 968.7,617.1 969,617.1 969.3,617.1 969.6,617.1 969.9,617.1 970.2,617.1 970.5,617.1 970.8,617.1 971.1,617.1 971.4,617.1 971.7,617.1 972,617.1 972.3,617.1 972.6,617.1 972.9,617.1 973.2,617.1 973.5,617.1 973.8,617.1 974.1,617.1 974.4,617.1 974.7,617.1 975,617.1 975.3,617.1 975.6,617.1 975.9,617.1 976.2,617.1 976.5,617.1 976.8,617.1 977.1,617.1 977.4,617.1 977.7,617.1 978,617.1 978.3,617.1 978.6,617.1 978.9,617.1 979.2,617.1 979.5,617.1 979.8,617.1 980.1,617.1 980.4,617.1 980.7,617.1 981,617.1 981.3,617.1 981.6,617.1 981.9,617.1 982.2,617 982.5,616.8 982.8,616.6 983.1,616.4 983.4,616.1 983.7,615.8 984,615.5 984.3,615.1 984.6,614.8 984.9,614.3 985.2,613.5 985.5,612.4 985.8,610.9 986.1,609.4 986.4,607.8 986.7,606.3 987,605 987.3,604.1 987.6,603.6 987.9,603.7 988.2,604.4 988.5,605.5 988.8,607 989.1,608.5 989.4,610.1 989.7,611.5 990,612.7 990.3,613.5 990.6,614 990.9,614.5 991.2,615 991.5,615.3 991.8,615.7 992.1,615.9 992.4,616.1 992.7,616.1 993,616.1 993.3,616.1 993.6,616.1 993.9,616.1 994.2,616.1 994.5,616.2 994.8,616.2 995.1,616.2 995.4,616.2 995.7,616.2 996,616.2 996.3,616.2 996.6,616.2 996.9,616.2 997.2,616.2 997.5,616.2 997.8,616.2 998.1,616.2 998.4,616.2 998.7,616.2 999,616.2 999.3,616.2 999.6,616.2 999.9,616.2 1000.2,616.2 1000.5,616.2 1000.8,616.2 1001.1,616.1 1001.4,616.1 1001.7,616.1 1002,616 1002.3,616 1002.6,615.9 1002.9,615.9 1003.2,615.8 1003.5,615.8 1003.8,615.7 1004.1,615.6 1004.4,615.6 1004.7,615.5 1005,615.4 1005.3,615.3 1005.6,615.3 1005.9,615.2 1006.2,615.1 1006.5,614.9 1006.8,614.8 1007.1,614.7 1007.4,614.5 1007.7,614.4 1008,614.2 1008.3,614 1008.6,613.9 1008.9,613.7 1009.2,613.4 1009.5,613.2 1009.8,612.8 1010.1,612.4 1010.4,612 1010.7,611.6 1011,611.2 1011.3,610.9 1011.6,610.7 1011.9,610.6 1012.2,610.6 1012.5,610.8 1012.8,611 1013.1,611.3 1013.4,611.6 1013.7,612 1014,612.4 1014.3,612.7 1014.6,613 1014.9,613.2 1015.2,613.4 1015.5,613.6 1015.8,613.7 1016.1,613.9 1016.4,614 1016.7,614.2 1017,614.3 1017.3,614.4 1017.6,614.5 1017.9,614.6 1018.2,614.7 1018.5,614.8 1018.8,614.8 1019.1,614.8 1019.4,614.8 1019.7,614.8 1020,614.8 1020.3,614.8 1020.6,614.7 1020.9,614.7 1021.2,614.7 1021.5,614.7 1021.8,614.6 1022.1,614.6 1022.4,614.4 1022.7,614.1 1023,613.7 1023.3,613.3 1023.6,612.8 1023.9,612.4 1024.2,611.8 1024.5,611.1 1024.8,610.3 1025.1,609.5 1025.4,608.9 1025.7,608.7 1026,608.9 1026.3,609.5 1026.6,610.3 1026.9,611.3 1027.2,612.1 1027.5,612.8 1027.8,613.4 1028.1,613.9 1028.4,614.5 1028.7,614.9 1029,615.3 1029.3,615.6 1029.6,615.7 1029.9,615.7 1030.2,615.8 1030.5,615.9 1030.8,616 1031.1,616 1031.4,616.1 1031.7,616.1 1032,616.2 1032.3,616.2 1032.6,616.2 1032.9,616.3 1033.2,616.3 1033.5,616.3 1033.8,616.3 1034.1,616.3 1034.4,616.3 1034.7,616.3 1035,616.3 1035.3,616.3 1035.6,616.3 1035.9,616.3 1036.2,616.3 1036.5,616.3 1036.8,616.2 1037.1,616.2 1037.4,616.2 1037.7,616.2 1038,616.2 1038.3,616.1 1038.6,616.1 1038.9,616.1 1039.2,615.9 1039.5,615.5 1039.8,614.8 1040.1,614 1040.4,613 1040.7,611.8 1041,610.6 1041.3,609.2 1041.6,607.9 1041.9,606.5 1042.2,604.7 1042.5,602.2 1042.8,599.3 1043.1,596.2 1043.4,593.1 1043.7,590.4 1044,588.3 1044.3,587 1044.6,586.8 1044.9,587.8 1045.2,589.7 1045.5,592.4 1045.8,595.4 1046.1,598.7 1046.4,601.8 1046.7,604.5 1047,606.5 1047.3,608.2 1047.6,609.8 1047.9,611.4 1048.2,612.8 1048.5,614.1 1048.8,615 1049.1,615.5 1049.4,615.7 1049.7,615.8 1050,616 1050.3,616.1 1050.6,616.2 1050.9,616.3 1051.2,616.3 1051.5,616.4 1051.8,616.5 1052.1,616.5 1052.4,616.5 1052.7,616.6 1053,616.6 1053.3,616.6 1053.6,616.6 1053.9,616.7 1054.2,616.7 1054.5,616.7 1054.8,616.7 1055.1,616.7 1055.4,616.7 1055.7,616.7 1056,616.8 1056.3,616.8 1056.6,616.8 1056.9,616.8 1057.2,616.8 1057.5,616.8 1057.8,616.8 1058.1,616.8 1058.4,616.8 1058.7,616.8 1058.8,616.8" fill="none" stroke="#dc30d2" stroke-width="1.5" stroke-linejoin="round" stroke-linecap="round"/>
<path d="M885,642.6 885.5,642.2 886,641.5 886.5,641.2 887,640.6 887.5,640.3 888,639.7 888.5,639.3 889,639.2 889.5,638.6 890,638.3 890.5,637.5 891,636.9 891.5,636.5 892,635.8 892.5,635.4 893,634.3 893.5,633.4 894,632.6 894.5,631.9 895,631.3 895.5,630.5 896,629.9 896.5,629.3 897,628.6 897.5,628.3 898,628.4 898.5,628.8 899,629.5 899.5,630.4 900,631.4 900.5,632.3 901,633.1 901.5,633.8 902,634.3 902.5,634.7 903,635.2 903.5,635.7 904,636.2 904.5,636.7 905,637.1 905.5,637.8 906,638.4 906.5,638.7 907,638.9 907.5,639.2 908,639.7 908.5,639.7 909,639.9 909.5,639.8 910,640.4 910.5,640.3 911,640.6 911.5,640.7 912,640.9 912.5,640.8 913,640.6 913.5,640.6 914,640.6 914.5,640.6 915,640.2 915.5,639.7 916,639.2 916.5,638.8 917,638.5 917.5,638.1 918,638.2 918.5,638.1 919,638.4 919.5,638.4 920,638.8 920.5,639.4 921,639.5 921.5,639.9 922,640.2 922.5,640.6 923,640.7 923.5,640.7 924,640.9 924.5,640.9 925,640.9 925.5,641.2 926,641.5 926.5,642.1 927,642.2 927.5,642.1 928,642.1 928.5,642.3 929,642.7 929.5,642.9 930,642.9 930.5,643 931,643.3 931.5,643.6 932,643.7 932.5,643.8 933,643.8 933.5,644 934,644 934.5,644.1 935,644.1 935.5,644.2 936,644.4 936.5,644.6 937,644.6 937.5,644.5 938,644.5 938.5,644.9 939,645 939.5,645.3 940,644.8 940.5,645 941,645 941.5,645.1 942,644.8 942.5,644.5 943,644.5 943.5,644.4 944,644.4 944.5,644.4 945,644.7 945.5,644.8 946,644.6 946.5,644.3 947,644.3 947.5,644.2 948,644.1 948.5,643.9 949,643.9 949.5,643.9 950,643.8 950.5,643.8 951,644.2 951.5,644.3 952,644.2 952.5,644.3 953,644.1 953.5,644 954,643.9 954.5,644.1 955,644.3 955.5,643.9 956,643.8 956.5,643.9 957,644.2 957.5,644.2 958,644.3 958.5,644.3 959,644.1 959.5,643.7 960,643.7 960.5,643.8 961,643.9 961.5,643.8 962,643.9 962.5,644.1 963,644.3 963.5,644.2 964,644.2 964.5,644.2 965,644 965.5,644 966,643.8 966.5,643.9 967,644 967.5,644.3 968,644.4 968.5,644.2 969,644.2 969.5,644.1 970,644.3 970.5,644.2 971,644.5 971.5,644.5 972,644.4 972.5,644.4 973,644.4 973.5,644.4 974,644.2 974.5,644.2 975,644.4 975.5,644.7 976,644.9 976.5,644.8 977,644.8 977.5,645 978,645.3 978.5,645.3 979,645.4 979.5,645.3 980,645.3 980.5,645.2 981,645.3 981.5,645.6 982,645.8 982.5,646 983,646.2 983.5,646.2 984,646.2 984.5,646.3 985,646.5 985.5,646.9 986,646.8 986.5,647.2 987,647 987.5,647.1 988,647.1 988.5,647.6 989,647.7 989.5,647.9 990,647.9 990.5,648.2 991,648 991.5,647.7 992,647.5 992.5,647.5 993,647.8 993.5,648.1 994,648.2 994.5,648.2 995,648.1 995.5,648.3 996,648.2 996.5,648.6 997,648.7 997.5,648.7 998,648.6 998.5,648.5 999,648.6 999.5,648.6 1000,648.9 1000.5,649 1001,649.3 1001.5,649.4 1002,649.6 1002.5,649.7 1003,649.8 1003.5,649.5 1004,649.3 1004.5,649.2 1005,649.2 1005.5,649 1006,649 1006.5,649.2 1007,649.5 1007.5,649.6 1008,649.5 1008.5,649.6 1009,649.3 1009.5,649.4 1010,649.4 1010.5,649.4 1011,649.1 1011.5,649 1012,648.8 1012.5,648.7 1013,648.6 1013.5,648.8 1014,648.7 1014.5,648.8 1015,648.5 1015.5,648.5 1016,648.3 1016.5,648.2 1017,648.2 1017.5,648.2 1018,648.1 1018.5,647.9 1019,647.6 1019.5,647.7 1020,647.8 1020.5,647.5 1021,647.2 1021.5,647.3 1022,647.6 1022.5,647.5 1023,647.3 1023.5,647.1 1024,647 1024.5,646.8 1025,646.8 1025.5,646.7 1026,646.7 1026.5,646.3 1027,646.1 1027.5,645.7 1028,645.8 1028.5,645.7 1029,645.7 1029.5,645.4 1030,645.4 1030.5,645.4 1031,645.3 1031.5,645.2 1032,644.9 1032.5,644.8 1033,644.6 1033.5,644.6 1034,644.2 1034.5,644 1035,643.9 1035.5,644 1036,643.8 1036.5,643.6 1037,643.5 1037.5,643.3 1038,643.1 1038.5,643 1039,642.9 1039.5,642.6 1040,642.2 1040.5,642 1041,641.8 1041.5,641.8 1042,641.5 1042.5,641.5 1043,641.4 1043.5,641.4 1044,640.9 1044.5,640.7 1045,640.4 1045.5,640.4 1046,640.5 1046.5,640.7 1047,640.6 1047.5,640.3 1048,639.9 1048.5,639.7 1049,639.7 1049.5,639.5 1050,639.4 1050.5,639.3 1051,639.2 1051.5,639.3 1052,639.1 1052.5,639.2 1053,639.1 1053.5,639.1 1054,638.9 1054.5,638.8 1055,638.6 1055.5,638.6 1056,638.6 1056.5,638.6 1057,638.7 1057.5,638.6 1058,638.6 1058.5,638.3 1058.8,638.3" fill="none" stroke="#35d2d4" stroke-width="1.5" stroke-linejoin="round" stroke-linecap="round"/>
<path d="M885,656.6 885.5,656 886,655.4 886.5,654.9 887,654.3 887.5,653.8 888,653.1 888.5,652.6 889,651.7 889.5,651 890,650.1 890.5,649.6 891,649.1 891.5,648.7 892,648 892.5,647.2 893,646.6 893.5,645.9 894,645.2 894.5,644.3 895,643.9 895.5,643.6 896,643.4 896.5,643.3 897,643.4 897.5,643.6 898,644 898.5,644.6 899,645.2 899.5,645.9 900,646.6 900.5,647.3 901,647.9 901.5,648.4 902,649.1 902.5,649.8 903,650.3 903.5,650.8 904,651.5 904.5,652.4 905,653.4 905.5,654.1 906,654.8 906.5,655.6 907,656.4 907.5,657 908,657.4 908.5,657.9 909,658.5 909.5,659 910,659.3 910.5,659.5 911,659.7 911.5,660.1 912,660.6 912.5,660.9 913,661.1 913.5,661.2 914,661.4 914.5,661.5 915,661.6 915.5,661.6 916,661.8 916.5,662.1 917,662.5 917.5,662.8 918,662.9 918.5,663 919,663.4 919.5,663.5 920,663.5 920.5,663.5 921,663.8 921.5,663.9 922,664.2 922.5,664.2 923,664.6 923.5,664.7 924,664.9 924.5,665.1 925,665.2 925.5,665.4 926,665.5 926.5,665.9 927,666.2 927.5,666.1 928,666.2 928.5,666.4 929,666.7 929.5,666.6 930,666.7 930.5,667 931,667.4 931.5,667.5 932,667.3 932.5,667.3 933,667.1 933.5,667 934,667 934.5,667 935,667 935.5,666.9 936,667 936.5,667 937,667.1 937.5,667 938,667 938.5,666.8 939,666.9 939.5,666.9 940,666.8 940.5,666.8 941,666.8 941.5,667.1 942,667.1 942.5,666.9 943,666.9 943.5,666.9 944,667 944.5,667 945,667.1 945.5,667 946,667 946.5,666.8 947,666.7 947.5,666.8 948,666.8 948.5,667 949,666.8 949.5,666.9 950,666.8 950.5,667 951,667.1 951.5,667.2 952,667.1 952.5,667 953,667 953.5,667.3 954,667.4 954.5,667.5 955,667.6 955.5,667.6 956,667.5 956.5,667.2 957,667.3 957.5,667.5 958,667.6 958.5,667.8 959,667.8 959.5,668 960,667.9 960.5,667.9 961,667.8 961.5,667.9 962,668.1 962.5,668.2 963,668.2 963.5,668 964,668.1 964.5,668.3 965,668.2 965.5,668.1 966,668 966.5,668.1 967,668.4 967.5,668.4 968,668.3 968.5,668.2 969,668.1 969.5,668.1 970,668.2 970.5,668.2 971,668.2 971.5,668.2 972,668.2 972.5,668.2 973,668.1 973.5,668.1 974,668 974.5,668 975,668 975.5,667.8 976,667.6 976.5,667.5 977,667.5 977.5,667.6 978,667.6 978.5,667.6 979,667.4 979.5,667.5 980,667.4 980.5,667.5 981,667.5 981.5,667.3 982,667.1 982.5,667 983,667.2 983.5,667.2 984,667.3 984.5,667.3 985,667.2 985.5,667.1 986,667 986.5,666.9 987,667.3 987.5,667.3 988,667.3 988.5,666.8 989,666.7 989.5,666.8 990,666.8 990.5,666.6 991,666.6 991.5,666.7 992,666.9 992.5,666.9 993,667 993.5,666.8 994,666.9 994.5,666.7 995,666.8 995.5,666.8 996,666.8 996.5,666.9 997,666.8 997.5,667.2 998,667.2 998.5,667.3 999,667.3 999.5,667.6 1000,667.7 1000.5,667.7 1001,667.6 1001.5,667.6 1002,667.5 1002.5,667.8 1003,668 1003.5,668 1004,668.1 1004.5,667.9 1005,667.7 1005.5,667.3 1006,667.2 1006.5,667.1 1007,666.7 1007.5,666.5 1008,666.1 1008.5,665.9 1009,665.4 1009.5,665.2 1010,665.1 1010.5,664.9 1011,664.6 1011.5,664.4 1012,664.4 1012.5,664.2 1013,664.3 1013.5,664.1 1014,664.2 1014.5,663.9 1015,663.9 1015.5,663.8 1016,663.5 1016.5,663.3 1017,663.2 1017.5,663.2 1018,663 1018.5,662.8 1019,662.8 1019.5,662.8 1020,662.7 1020.5,662.6 1021,662.5 1021.5,662.3 1022,662.2 1022.5,662.1 1023,662.3 1023.5,662.2 1024,662.1 1024.5,661.8 1025,661.6 1025.5,661.5 1026,661.5 1026.5,661.2 1027,661 1027.5,661.2 1028,661.3 1028.5,661.4 1029,661 1029.5,660.8 1030,660.7 1030.5,660.6 1031,660.5 1031.5,660.2 1032,660.1 1032.5,659.9 1033,659.7 1033.5,659.5 1034,659.5 1034.5,659.4 1035,659.2 1035.5,659 1036,658.8 1036.5,658.4 1037,658.2 1037.5,657.9 1038,657.7 1038.5,657.3 1039,657.3 1039.5,657.1 1040,656.9 1040.5,656.6 1041,656.7 1041.5,656.5 1042,656.1 1042.5,655.6 1043,655.2 1043.5,655.1 1044,654.7 1044.5,654.6 1045,654.5 1045.5,654.4 1046,654.1 1046.5,653.8 1047,653.6 1047.5,653.3 1048,653 1048.5,652.7 1049,652.4 1049.5,652.2 1050,652.1 1050.5,652.1 1051,651.9 1051.5,652 1052,651.7 1052.5,651.7 1053,651.7 1053.5,651.8 1054,651.6 1054.5,651.6 1055,651.4 1055.5,651.4 1056,651.2 1056.5,651 1057,651 1057.5,651 1058,651.2 1058.5,651 1058.8,651" fill="none" stroke="#1c1c1c" stroke-width="1.4" stroke-linejoin="round" stroke-linecap="round"/>
<text x="900.8" y="439.2" font-size="12.6" textLength="22.8" lengthAdjust="spacingAndGlyphs" fill="#2fd32f" stroke="#2fd32f" stroke-width="0.3" transform="rotate(-90 900.8 439.2)">616</text>
<line x1="895.2" y1="444.2" x2="895.2" y2="453.1" stroke="#2fd32f" stroke-width="1.2"/>
<path d="M893.3,450.7 L897.1,450.7 L895.2,456.7 Z" fill="#2fd32f"/>
<text x="1045.1" y="453.7" font-size="12.6" textLength="27" lengthAdjust="spacingAndGlyphs" fill="#2fd32f" stroke="#2fd32f" stroke-width="0.3" transform="rotate(-90 1045.1 453.7)">1051</text>
<line x1="1040" y1="458.9" x2="1040" y2="467" stroke="#2fd32f" stroke-width="1.2"/>
<path d="M1038.1,464.6 L1041.9,464.6 L1040,470.6 Z" fill="#2fd32f"/>
<text x="911.1" y="495.7" font-size="12.6" textLength="24.2" lengthAdjust="spacingAndGlyphs" fill="#7a26dc" stroke="#7a26dc" stroke-width="0.3" transform="rotate(-90 911.1 495.7)">648</text>
<line x1="906" y1="500.8" x2="906" y2="510.5" stroke="#7a26dc" stroke-width="1.2"/>
<path d="M904.1,508.1 L907.9,508.1 L906,514.1 Z" fill="#7a26dc"/>
<text x="895.5" y="504.5" font-size="12.6" textLength="21.9" lengthAdjust="spacingAndGlyphs" fill="#7a26dc" stroke="#7a26dc" stroke-width="0.3" transform="rotate(-90 895.5 504.5)">611</text>
<line x1="891.5" y1="505.2" x2="891.5" y2="514.9" stroke="#7a26dc" stroke-width="1.2"/>
<path d="M889.6,512.5 L893.4,512.5 L891.5,518.5 Z" fill="#7a26dc"/>
<text x="978.1" y="514.1" font-size="12.6" textLength="24.2" lengthAdjust="spacingAndGlyphs" fill="#7a26dc" stroke="#7a26dc" stroke-width="0.3" transform="rotate(-90 978.1 514.1)">850</text>
<line x1="973.5" y1="519.2" x2="973.5" y2="526.6" stroke="#7a26dc" stroke-width="1.2"/>
<path d="M971.6,524.2 L975.4,524.2 L973.5,530.2 Z" fill="#7a26dc"/>
<text x="989.4" y="514.1" font-size="12.6" textLength="23.4" lengthAdjust="spacingAndGlyphs" fill="#7a26dc" stroke="#7a26dc" stroke-width="0.3" transform="rotate(-90 989.4 514.1)">882</text>
<line x1="984.2" y1="519.9" x2="984.2" y2="528.1" stroke="#7a26dc" stroke-width="1.2"/>
<path d="M982.3,525.7 L986.1,525.7 L984.2,531.7 Z" fill="#7a26dc"/>
<text x="1022.2" y="440.5" font-size="12.6" textLength="23.4" lengthAdjust="spacingAndGlyphs" fill="#7a26dc" stroke="#7a26dc" stroke-width="0.3" transform="rotate(-90 1022.2 440.5)">982</text>
<line x1="1017.2" y1="445.6" x2="1017.2" y2="454.5" stroke="#7a26dc" stroke-width="1.2"/>
<path d="M1015.3,452.1 L1019.1,452.1 L1017.2,458.1 Z" fill="#7a26dc"/>
<text x="904.5" y="594.8" font-size="12.6" textLength="24.2" lengthAdjust="spacingAndGlyphs" fill="#dc30d2" stroke="#dc30d2" stroke-width="0.3" transform="rotate(-90 904.5 594.8)">624</text>
<line x1="898.4" y1="599.2" x2="898.4" y2="607.3" stroke="#dc30d2" stroke-width="1.2"/>
<path d="M896.5,604.9 L900.3,604.9 L898.4,610.9 Z" fill="#dc30d2"/>
<text x="945.7" y="592.5" font-size="12.6" textLength="23.3" lengthAdjust="spacingAndGlyphs" fill="#dc30d2" stroke="#dc30d2" stroke-width="0.3" transform="rotate(-90 945.7 592.5)">752</text>
<line x1="940.3" y1="598" x2="940.3" y2="606.6" stroke="#dc30d2" stroke-width="1.2"/>
<path d="M938.4,604.2 L942.2,604.2 L940.3,610.2 Z" fill="#dc30d2"/>
<text x="992.8" y="585.2" font-size="12.6" textLength="23.4" lengthAdjust="spacingAndGlyphs" fill="#dc30d2" stroke="#dc30d2" stroke-width="0.3" transform="rotate(-90 992.8 585.2)">894</text>
<line x1="987.7" y1="590.3" x2="987.7" y2="599.2" stroke="#dc30d2" stroke-width="1.2"/>
<path d="M985.8,596.8 L989.6,596.8 L987.7,602.8 Z" fill="#dc30d2"/>
<text x="1017" y="593.3" font-size="12.6" textLength="24.1" lengthAdjust="spacingAndGlyphs" fill="#dc30d2" stroke="#dc30d2" stroke-width="0.3" transform="rotate(-90 1017 593.3)">967</text>
<line x1="1012" y1="598" x2="1012" y2="606.6" stroke="#dc30d2" stroke-width="1.2"/>
<path d="M1010.1,604.2 L1013.9,604.2 L1012,610.2 Z" fill="#dc30d2"/>
<text x="1030.3" y="588.9" font-size="12.6" textLength="28.6" lengthAdjust="spacingAndGlyphs" fill="#dc30d2" stroke="#dc30d2" stroke-width="0.3" transform="rotate(-90 1030.3 588.9)">1007</text>
<line x1="1025.7" y1="594.8" x2="1025.7" y2="603.7" stroke="#dc30d2" stroke-width="1.2"/>
<path d="M1023.8,601.3 L1027.6,601.3 L1025.7,607.3 Z" fill="#dc30d2"/>
<text x="1050.6" y="566.1" font-size="12.6" textLength="28.6" lengthAdjust="spacingAndGlyphs" fill="#dc30d2" stroke="#dc30d2" stroke-width="0.3" transform="rotate(-90 1050.6 566.1)">1063</text>
<line x1="1044.5" y1="572.7" x2="1044.5" y2="581.6" stroke="#dc30d2" stroke-width="1.2"/>
<path d="M1042.6,579.2 L1046.4,579.2 L1044.5,585.2 Z" fill="#dc30d2"/>
<text x="903.6" y="558.7" font-size="13.2" textLength="37.3" lengthAdjust="spacingAndGlyphs" stroke="#000" stroke-width="0.3">Cu(III)</text>
<line x1="911.2" y1="545.2" x2="899.3" y2="532.4" stroke="#000" stroke-width="1.0"/>
<path d="M895.6,528.4 L901.7,531.6 L898.3,534.7 Z" fill="#000"/>
<text x="955.1" y="548.4" font-size="13.4" textLength="34.5" lengthAdjust="spacingAndGlyphs" stroke="#000" stroke-width="0.3">PMS*</text>
<rect x="884.5" y="407.9" width="174.6" height="262.9" fill="none" stroke="#000" stroke-width="1.7"/>
<line x1="888.6" y1="670.8" x2="888.6" y2="677" stroke="#000" stroke-width="1.6"/>
<line x1="956.9" y1="670.8" x2="956.9" y2="677" stroke="#000" stroke-width="1.6"/>
<line x1="1025.2" y1="670.8" x2="1025.2" y2="677" stroke="#000" stroke-width="1.6"/>
<text x="888.4" y="689.9" font-size="15.2" text-anchor="middle" stroke="#000" stroke-width="0.4">600</text>
<text x="956.7" y="689.9" font-size="15.2" text-anchor="middle" stroke="#000" stroke-width="0.4">800</text>
<text x="1025" y="689.9" font-size="15.2" text-anchor="middle" stroke="#000" stroke-width="0.4">1000</text>
<line x1="1200.4" y1="434" x2="1199.7" y2="659.2" stroke="#3c8ea2" stroke-width="1.6" stroke-dasharray="10.2 10.25" stroke-dashoffset="0"/>
<line x1="1237.3" y1="432.4" x2="1236.7" y2="658" stroke="#3c8ea2" stroke-width="1.6" stroke-dasharray="10.2 10.2" stroke-dashoffset="0"/>
<path d="M1081.6,482.9 1082.1,482.9 1082.6,482.7 1083.1,482.4 1083.6,482.4 1084.1,482.2 1084.6,482.4 1085.1,482.3 1085.6,482.5 1086.1,482.4 1086.6,482.4 1087.1,482.2 1087.6,482.2 1088.1,482.1 1088.6,482.2 1089.1,482.2 1089.6,482.2 1090.1,482.1 1090.6,481.8 1091.1,481.5 1091.6,481.5 1092.1,481.8 1092.6,482 1093.1,481.7 1093.6,481.5 1094.1,481.4 1094.6,481.4 1095.1,481.5 1095.6,481.3 1096.1,481 1096.6,480.9 1097.1,481 1097.6,480.9 1098.1,480.8 1098.6,480.6 1099.1,480.6 1099.6,480.4 1100.1,480.3 1100.6,480.1 1101.1,480.2 1101.6,480.1 1102.1,480.1 1102.6,480 1103.1,480.1 1103.6,480 1104.1,480.1 1104.6,480 1105.1,479.9 1105.6,479.6 1106.1,479.1 1106.6,478.8 1107.1,478.8 1107.6,478.9 1108.1,478.9 1108.6,478.7 1109.1,478.9 1109.6,478.8 1110.1,478.6 1110.6,478.3 1111.1,478.1 1111.6,477.8 1112.1,477.6 1112.6,477.5 1113.1,477.6 1113.6,477.6 1114.1,477.6 1114.6,477.3 1115.1,477.2 1115.6,476.8 1116.1,476.6 1116.6,476.5 1117.1,476.7 1117.6,476.6 1118.1,476.3 1118.6,476 1119.1,475.9 1119.6,475.9 1120.1,475.6 1120.6,475.3 1121.1,475.1 1121.6,474.9 1122.1,474.9 1122.6,474.7 1123.1,474.6 1123.6,474.3 1124.1,474.2 1124.6,474.2 1125.1,474.2 1125.6,473.8 1126.1,473.5 1126.6,473.5 1127.1,473.4 1127.6,473.3 1128.1,473 1128.6,472.7 1129.1,472.6 1129.6,472.4 1130.1,472.3 1130.6,471.8 1131.1,471.6 1131.6,471.4 1132.1,471.4 1132.6,471.4 1133.1,471.3 1133.6,471 1134.1,470.8 1134.6,470.7 1135.1,470.7 1135.6,470.4 1136.1,470.2 1136.6,469.8 1137.1,469.5 1137.6,469.2 1138.1,469.2 1138.6,469.2 1139.1,468.8 1139.6,468.7 1140.1,468.5 1140.6,468.8 1141.1,468.7 1141.6,468.6 1142.1,468.4 1142.6,468.4 1143.1,468.1 1143.6,467.8 1144.1,467.7 1144.6,467.7 1145.1,467.7 1145.6,467.5 1146.1,467.1 1146.6,466.9 1147.1,466.4 1147.6,466.3 1148.1,465.8 1148.6,465.5 1149.1,464.8 1149.6,463.7 1150.1,462.7 1150.6,462.7 1151.1,463.8 1151.6,464.7 1152.1,464.6 1152.6,464.6 1153.1,464.2 1153.6,464.2 1154.1,464 1154.6,464.3 1155.1,464.3 1155.6,464.4 1156.1,464.1 1156.6,463.9 1157.1,463.6 1157.6,463.2 1158.1,463.2 1158.6,462.9 1159.1,463 1159.6,462.6 1160.1,462.2 1160.6,461.7 1161.1,461.3 1161.6,461.1 1162.1,460.7 1162.6,460.5 1163.1,460.1 1163.6,459.8 1164.1,459.5 1164.6,459.3 1165.1,459.1 1165.6,458.8 1166.1,458.5 1166.6,458.3 1167.1,458 1167.6,457.9 1168.1,457.5 1168.6,457.4 1169.1,457 1169.6,457 1170.1,456.5 1170.6,456.3 1171.1,455.9 1171.6,455.6 1172.1,455.3 1172.6,454.9 1173.1,454.8 1173.6,454.3 1174.1,454 1174.6,453.6 1175.1,453.4 1175.6,453.1 1176.1,452.4 1176.6,451.8 1177.1,451.1 1177.6,450.8 1178.1,449.9 1178.6,449.4 1179.1,449.9 1179.6,450.5 1180.1,450.4 1180.6,450.5 1181.1,450.5 1181.6,450.3 1182.1,450.3 1182.6,449.8 1183.1,449.6 1183.6,449.1 1184.1,448.8 1184.6,448.4 1185.1,448.2 1185.6,447.9 1186.1,447.5 1186.6,447.1 1187.1,446.7 1187.6,446.3 1188.1,445.5 1188.6,445 1189.1,444.6 1189.6,444.4 1190.1,443.7 1190.6,443.1 1191.1,442.7 1191.6,442.4 1192.1,441.9 1192.6,441.5 1193.1,441.1 1193.6,440.5 1194.1,440.2 1194.6,439.8 1195.1,439.2 1195.6,438.7 1196.1,438.4 1196.6,438.1 1197.1,437.6 1197.6,437 1198.1,436.9 1198.6,436.4 1199.1,436.1 1199.6,435.6 1200.1,435.6 1200.6,435.5 1201.1,435.6 1201.6,435.7 1202.1,436.2 1202.6,436.6 1203.1,437.4 1203.6,438 1204.1,438.8 1204.6,439.1 1205.1,439.1 1205.6,439.2 1206.1,439.5 1206.6,440.2 1207.1,440.5 1207.6,440.9 1208.1,441.1 1208.6,441.2 1209.1,441.3 1209.6,441.6 1210.1,442 1210.6,442.1 1211.1,442.2 1211.6,442.3 1212.1,442.6 1212.6,442.7 1213.1,442.6 1213.6,442.5 1214.1,442.2 1214.6,442.5 1215.1,442.5 1215.6,442.6 1216.1,442.6 1216.6,442.5 1217.1,442.7 1217.6,442.4 1218.1,442.5 1218.6,442.3 1219.1,442.2 1219.6,442.1 1220.1,442.3 1220.6,442.3 1221.1,442.1 1221.6,441.8 1222.1,441.5 1222.6,441.3 1223.1,441.4 1223.6,441.7 1224.1,441.7 1224.6,441.5 1225.1,441.5 1225.6,441.3 1226.1,440.9 1226.6,440.7 1227.1,440.4 1227.6,440 1228.1,439.4 1228.6,438.9 1229.1,438.6 1229.6,438.1 1230.1,437.9 1230.6,437.5 1231.1,437.1 1231.6,436.3 1232.1,435.8 1232.6,435.2 1233.1,434.7 1233.6,434.4 1234.1,433.7 1234.6,433.1 1235.1,432.4 1235.6,431.9 1236.1,431.6 1236.6,431.3 1237.1,431.3 1237.6,431.1 1238.1,431.3 1238.6,431.6 1239.1,432.1 1239.6,432.7 1240.1,433.4 1240.6,434.1 1241.1,434.9 1241.6,435.5 1242.1,436.1 1242.6,436.7 1243.1,437.7 1243.6,438.7 1244.1,439.5 1244.6,440.2 1245.1,441 1245.6,441.6 1246.1,442.1 1246.6,442.5 1247.1,442.9 1247.6,443.2 1248.1,443.2 1248.6,443.3 1249.1,443.5 1249.6,443.7 1250.1,443.9 1250.6,444 1251.1,444.3 1251.6,444.3 1252.1,444.3 1252.6,444.2 1253.1,444.4 1253.6,444.3 1254.1,444.3 1254.6,444.4 1255.1,444.5 1255.6,444.3 1256.1,444.3 1256.6,444.4 1257.1,444.3 1257.6,444.2 1258.1,443.9 1258.6,444.1 1259.1,444.2 1259.6,444.4 1260.1,444.3 1260.6,444.1 1261.1,444.1 1261.6,444.3 1262.1,444.3 1262.6,444.2 1263.1,444 1263.6,443.8 1264.1,443.6 1264.6,443.8 1265.1,443.8 1265.6,444 1266.1,444 1266.6,444.1 1267.1,443.9 1267.6,443.7 1268.1,443.6 1268.6,443.6 1269.1,443.8 1269.6,443.8 1270.1,443.9 1270.6,443.8 1271.1,443.7" fill="none" stroke="#2fd32f" stroke-width="1.9" stroke-linejoin="round" stroke-linecap="round"/>
<path d="M1081.6,546.2 1081.9,544.9 1082.2,543.7 1082.5,542.6 1082.8,541.6 1083.1,540.8 1083.4,540.1 1083.7,539.6 1084,539.3 1084.3,539.1 1084.6,538.9 1084.9,538.8 1085.2,538.7 1085.5,538.6 1085.8,538.6 1086.1,538.9 1086.4,539.2 1086.7,539.5 1087,539.8 1087.3,539.9 1087.6,539.8 1087.9,539.7 1088.2,539.4 1088.5,539.1 1088.8,538.8 1089.1,538.5 1089.4,538.2 1089.7,537.9 1090,537.8 1090.3,537.7 1090.6,537.8 1090.9,538.1 1091.2,538.6 1091.5,539.2 1091.8,539.9 1092.1,540.6 1092.4,541.3 1092.7,541.9 1093,542.5 1093.3,542.9 1093.6,543.4 1093.9,543.8 1094.2,544.2 1094.5,544.7 1094.8,545.1 1095.1,545.5 1095.4,545.8 1095.7,546.1 1096,546.3 1096.3,546.5 1096.6,546.5 1096.9,546.5 1097.2,546.5 1097.5,546.5 1097.8,546.5 1098.1,546.5 1098.4,546.5 1098.7,546.5 1099,546.5 1099.3,546.4 1099.6,546.4 1099.9,546.4 1100.2,546.4 1100.5,546.4 1100.8,546.4 1101.1,546.3 1101.4,546.3 1101.7,546.3 1102,546.3 1102.3,546.3 1102.6,546.2 1102.9,546.2 1103.2,546.2 1103.5,546.2 1103.8,546.1 1104.1,546.1 1104.4,546.1 1104.7,546 1105,546 1105.3,546 1105.6,545.9 1105.9,545.9 1106.2,545.9 1106.5,545.8 1106.8,545.8 1107.1,545.8 1107.4,545.7 1107.7,545.7 1108,545.7 1108.3,545.6 1108.6,545.6 1108.9,545.6 1109.2,545.5 1109.5,545.5 1109.8,545.5 1110.1,545.4 1110.4,545.4 1110.7,545.3 1111,545.3 1111.3,545.3 1111.6,545.2 1111.9,545.2 1112.2,545.2 1112.5,545.1 1112.8,545.1 1113.1,545 1113.4,545 1113.7,544.9 1114,544.9 1114.3,544.8 1114.6,544.8 1114.9,544.7 1115.2,544.7 1115.5,544.6 1115.8,544.6 1116.1,544.5 1116.4,544.4 1116.7,544.4 1117,544.3 1117.3,544.2 1117.6,544.2 1117.9,544.1 1118.2,544 1118.5,543.9 1118.8,543.8 1119.1,543.8 1119.4,543.7 1119.7,543.6 1120,543.5 1120.3,543.4 1120.6,543.3 1120.9,543.1 1121.2,542.8 1121.5,542.6 1121.8,542.4 1122.1,542.3 1122.4,542.3 1122.7,542.5 1123,542.7 1123.3,542.9 1123.6,543.2 1123.9,543.4 1124.2,543.6 1124.5,543.6 1124.8,543.5 1125.1,543.4 1125.4,543.3 1125.7,543.1 1126,542.9 1126.3,542.7 1126.6,542.6 1126.9,542.4 1127.2,542.3 1127.5,542.3 1127.8,542.2 1128.1,542.2 1128.4,542.1 1128.7,542.1 1129,542.1 1129.3,542 1129.6,542 1129.9,542 1130.2,542 1130.5,542 1130.8,541.9 1131.1,541.9 1131.4,541.9 1131.7,541.9 1132,541.8 1132.3,541.8 1132.6,541.7 1132.9,541.7 1133.2,541.6 1133.5,541.5 1133.8,541.4 1134.1,541.2 1134.4,541 1134.7,540.7 1135,540.3 1135.3,540 1135.6,539.5 1135.9,539.1 1136.2,538.6 1136.5,538.1 1136.8,537.5 1137.1,536.8 1137.4,536 1137.7,534.9 1138,533.7 1138.3,532.3 1138.6,530.6 1138.9,528.4 1139.2,524.7 1139.5,520.4 1139.8,516.2 1140.1,512.6 1140.4,508.7 1140.7,505 1141,501.8 1141.3,499.5 1141.6,498.2 1141.9,497.1 1142.2,496.2 1142.5,495.4 1142.8,494.9 1143.1,494.6 1143.4,494.8 1143.7,495.9 1144,497.5 1144.3,499.4 1144.6,501.4 1144.9,504 1145.2,507.1 1145.5,510.3 1145.8,513.3 1146.1,515.9 1146.4,518.3 1146.7,520.7 1147,523.2 1147.3,525.5 1147.6,527.6 1147.9,529.3 1148.2,530.6 1148.5,531.2 1148.8,531.1 1149.1,530.5 1149.4,529.6 1149.7,528.4 1150,527 1150.3,525.5 1150.6,524.1 1150.9,522.8 1151.2,521.6 1151.5,520.4 1151.8,519 1152.1,517.7 1152.4,516.7 1152.7,516 1153,515.9 1153.3,516.6 1153.6,517.8 1153.9,519.2 1154.2,520.6 1154.5,521.8 1154.8,523.3 1155.1,524.8 1155.4,526.3 1155.7,527.6 1156,528.7 1156.3,529.5 1156.6,530 1156.9,530.5 1157.2,531 1157.5,531.4 1157.8,531.9 1158.1,532.2 1158.4,532.6 1158.7,532.9 1159,533.2 1159.3,533.4 1159.6,533.6 1159.9,533.7 1160.2,533.8 1160.5,533.8 1160.8,533.8 1161.1,533.6 1161.4,533.4 1161.7,533.2 1162,532.9 1162.3,532.5 1162.6,532.2 1162.9,531.8 1163.2,531.4 1163.5,531.1 1163.8,530.7 1164.1,530.4 1164.4,530 1164.7,529.6 1165,529.2 1165.3,528.8 1165.6,528.4 1165.9,528.1 1166.2,527.9 1166.5,527.8 1166.8,527.9 1167.1,528 1167.4,528.2 1167.7,528.4 1168,528.7 1168.3,528.9 1168.6,529.1 1168.9,529.2 1169.2,529.2 1169.5,529.1 1169.8,528.8 1170.1,528.4 1170.4,527.9 1170.7,527.4 1171,526.9 1171.3,526.4 1171.6,526 1171.9,525.6 1172.2,525.4 1172.5,525.3 1172.8,525.3 1173.1,525.4 1173.4,525.5 1173.7,525.7 1174,525.9 1174.3,526.1 1174.6,526.3 1174.9,526.6 1175.2,526.9 1175.5,527.1 1175.8,527.4 1176.1,527.7 1176.4,528.1 1176.7,528.5 1177,529 1177.3,529.5 1177.6,530 1177.9,530.6 1178.2,531 1178.5,531.4 1178.8,531.8 1179.1,532 1179.4,532.1 1179.7,532.2 1180,532.3 1180.3,532.4 1180.6,532.4 1180.9,532.5 1181.2,532.6 1181.5,532.6 1181.8,532.7 1182.1,532.7 1182.4,532.8 1182.7,532.8 1183,532.8 1183.3,532.9 1183.6,532.9 1183.9,532.9 1184.2,532.9 1184.5,532.9 1184.8,532.9 1185.1,532.9 1185.4,532.8 1185.7,532.8 1186,532.7 1186.3,532.7 1186.6,532.6 1186.9,532.5 1187.2,532.5 1187.5,532.4 1187.8,532.3 1188.1,532.2 1188.4,532.1 1188.7,532 1189,531.9 1189.3,531.7 1189.6,531.6 1189.9,531.5 1190.2,531.4 1190.5,531.3 1190.8,531.2 1191.1,531 1191.4,530.9 1191.7,530.8 1192,530.7 1192.3,530.6 1192.6,530.5 1192.9,530.4 1193.2,530.3 1193.5,530.2 1193.8,530.1 1194.1,530 1194.4,529.8 1194.7,529.7 1195,529.6 1195.3,529.4 1195.6,529.3 1195.9,529.2 1196.2,529 1196.5,528.9 1196.8,528.8 1197.1,528.7 1197.4,528.5 1197.7,528.4 1198,528.3 1198.3,528.2 1198.6,528.1 1198.9,528 1199.2,528 1199.5,527.9 1199.8,527.9 1200.1,527.8 1200.4,527.8 1200.7,527.8 1201,527.8 1201.3,527.8 1201.6,527.9 1201.9,527.9 1202.2,528 1202.5,528 1202.8,528.1 1203.1,528.1 1203.4,528.2 1203.7,528.3 1204,528.4 1204.3,528.5 1204.6,528.5 1204.9,528.6 1205.2,528.7 1205.5,528.8 1205.8,528.9 1206.1,528.9 1206.4,529 1206.7,529 1207,529.1 1207.3,529.1 1207.6,529.2 1207.9,529.2 1208.2,529.2 1208.5,529.2 1208.8,529.2 1209.1,529.2 1209.4,529.2 1209.7,529.2 1210,529.2 1210.3,529.2 1210.6,529.2 1210.9,529.1 1211.2,529.1 1211.5,529.1 1211.8,529.1 1212.1,529.1 1212.4,529.1 1212.7,529.1 1213,529 1213.3,529 1213.6,529 1213.9,529 1214.2,529 1214.5,528.9 1214.8,528.9 1215.1,528.9 1215.4,528.9 1215.7,528.8 1216,528.8 1216.3,528.8 1216.6,528.8 1216.9,528.7 1217.2,528.7 1217.5,528.7 1217.8,528.6 1218.1,528.6 1218.4,528.6 1218.7,528.5 1219,528.5 1219.3,528.5 1219.6,528.5 1219.9,528.4 1220.2,528.4 1220.5,528.4 1220.8,528.3 1221.1,528.3 1221.4,528.3 1221.7,528.2 1222,528.2 1222.3,528.2 1222.6,528.1 1222.9,528.1 1223.2,528 1223.5,528 1223.8,527.9 1224.1,527.9 1224.4,527.8 1224.7,527.8 1225,527.7 1225.3,527.7 1225.6,527.6 1225.9,527.6 1226.2,527.5 1226.5,527.4 1226.8,527.4 1227.1,527.3 1227.4,527.2 1227.7,527.2 1228,527.1 1228.3,527 1228.6,526.9 1228.9,526.9 1229.2,526.8 1229.5,526.7 1229.8,526.7 1230.1,526.6 1230.4,526.5 1230.7,526.4 1231,526.4 1231.3,526.3 1231.6,526.2 1231.9,526.1 1232.2,526.1 1232.5,526 1232.8,525.9 1233.1,525.8 1233.4,525.7 1233.7,525.6 1234,525.5 1234.3,525.4 1234.6,525.3 1234.9,525.1 1235.2,525 1235.5,524.9 1235.8,524.8 1236.1,524.7 1236.4,524.6 1236.7,524.6 1237,524.5 1237.3,524.5 1237.6,524.4 1237.9,524.4 1238.2,524.4 1238.5,524.4 1238.8,524.5 1239.1,524.5 1239.4,524.6 1239.7,524.7 1240,524.8 1240.3,524.9 1240.6,525 1240.9,525.1 1241.2,525.3 1241.5,525.4 1241.8,525.5 1242.1,525.6 1242.4,525.7 1242.7,525.8 1243,525.9 1243.3,526 1243.6,526.1 1243.9,526.1 1244.2,526.1 1244.5,526.1 1244.8,526.2 1245.1,526.2 1245.4,526.2 1245.7,526.2 1246,526.2 1246.3,526.2 1246.6,526.3 1246.9,526.3 1247.2,526.3 1247.5,526.3 1247.8,526.3 1248.1,526.3 1248.4,526.3 1248.7,526.4 1249,526.4 1249.3,526.4 1249.6,526.4 1249.9,526.4 1250.2,526.4 1250.5,526.4 1250.8,526.4 1251.1,526.4 1251.4,526.4 1251.7,526.4 1252,526.5 1252.3,526.5 1252.6,526.5 1252.9,526.5 1253.2,526.5 1253.5,526.5 1253.8,526.5 1254.1,526.5 1254.4,526.5 1254.7,526.5 1255,526.5 1255.3,526.5 1255.6,526.5 1255.9,526.5 1256.2,526.5 1256.5,526.5 1256.8,526.5 1257.1,526.5 1257.4,526.5 1257.7,526.5 1258,526.5 1258.3,526.5 1258.6,526.5 1258.9,526.5 1259.2,526.5 1259.5,526.5 1259.8,526.5 1260.1,526.4 1260.4,526.4 1260.7,526.4 1261,526.4 1261.3,526.4 1261.6,526.4 1261.9,526.4 1262.2,526.4 1262.5,526.4 1262.8,526.4 1263.1,526.3 1263.4,526.3 1263.7,526.3 1264,526.3 1264.3,526.3 1264.6,526.3 1264.9,526.3 1265.2,526.2 1265.5,526.2 1265.8,526.2 1266.1,526.2 1266.4,526.2 1266.7,526.1 1267,526.1 1267.3,526.1 1267.6,526.1 1267.9,526.1 1268.2,526 1268.5,526 1268.8,526 1269.1,526 1269.4,525.9 1269.7,525.9 1270,525.9 1270.3,525.9 1270.6,525.8 1270.9,525.8 1271.1,525.8" fill="none" stroke="#7a26dc" stroke-width="1.8" stroke-linejoin="round" stroke-linecap="round"/>
<path d="M1081.6,584.5 1081.9,584.1 1082.2,583.8 1082.5,583.5 1082.8,583.2 1083.1,582.9 1083.4,582.6 1083.7,582.3 1084,582 1084.3,581.8 1084.6,581.5 1084.9,581.2 1085.2,581 1085.5,580.9 1085.8,580.8 1086.1,580.8 1086.4,581 1086.7,581.2 1087,581.5 1087.3,581.9 1087.6,582.3 1087.9,582.6 1088.2,582.9 1088.5,583.2 1088.8,583.4 1089.1,583.7 1089.4,583.9 1089.7,584.1 1090,584.3 1090.3,584.4 1090.6,584.5 1090.9,584.5 1091.2,584.5 1091.5,584.5 1091.8,584.5 1092.1,584.5 1092.4,584.5 1092.7,584.5 1093,584.5 1093.3,584.5 1093.6,584.5 1093.9,584.5 1094.2,584.5 1094.5,584.5 1094.8,584.5 1095.1,584.5 1095.4,584.5 1095.7,584.5 1096,584.5 1096.3,584.5 1096.6,584.5 1096.9,584.5 1097.2,584.5 1097.5,584.5 1097.8,584.5 1098.1,584.5 1098.4,584.5 1098.7,584.5 1099,584.5 1099.3,584.5 1099.6,584.5 1099.9,584.5 1100.2,584.5 1100.5,584.5 1100.8,584.5 1101.1,584.5 1101.4,584.5 1101.7,584.5 1102,584.5 1102.3,584.5 1102.6,584.5 1102.9,584.5 1103.2,584.5 1103.5,584.5 1103.8,584.4 1104.1,584.1 1104.4,583.6 1104.7,583.1 1105,582.6 1105.3,581.9 1105.6,581 1105.9,580.1 1106.2,579.5 1106.5,579.4 1106.8,580 1107.1,580.8 1107.4,581.8 1107.7,582.6 1108,583.1 1108.3,583.5 1108.6,583.9 1108.9,584.3 1109.2,584.5 1109.5,584.5 1109.8,584.5 1110.1,584.5 1110.4,584.5 1110.7,584.5 1111,584.5 1111.3,584.5 1111.6,584.5 1111.9,584.5 1112.2,584.5 1112.5,584.5 1112.8,584.5 1113.1,584.5 1113.4,584.5 1113.7,584.5 1114,584.5 1114.3,584.5 1114.6,584.5 1114.9,584.5 1115.2,584.5 1115.5,584.5 1115.8,584.5 1116.1,584.5 1116.4,584.5 1116.7,584.5 1117,584.5 1117.3,584.5 1117.6,584.5 1117.9,584.5 1118.2,584.5 1118.5,584.5 1118.8,584.5 1119.1,584.5 1119.4,584.5 1119.7,584.5 1120,584.5 1120.3,584.5 1120.6,584.5 1120.9,584.5 1121.2,584.5 1121.5,584.5 1121.8,584.5 1122.1,584.5 1122.4,584.5 1122.7,584.5 1123,584.5 1123.3,584.5 1123.6,584.5 1123.9,584.5 1124.2,584.5 1124.5,584.5 1124.8,584.5 1125.1,584.5 1125.4,584.5 1125.7,584.5 1126,584.1 1126.3,583.3 1126.6,582.3 1126.9,581.2 1127.2,580 1127.5,578.3 1127.8,576.1 1128.1,573.9 1128.4,572.7 1128.7,573 1129,574.6 1129.3,576.9 1129.6,579 1129.9,580.3 1130.2,581.3 1130.5,582.3 1130.8,583.1 1131.1,583.7 1131.4,584.1 1131.7,584.2 1132,584.2 1132.3,584.2 1132.6,584.1 1132.9,584.1 1133.2,584.1 1133.5,584 1133.8,584 1134.1,583.9 1134.4,583.8 1134.7,583.8 1135,583.7 1135.3,583.6 1135.6,583.5 1135.9,583.4 1136.2,583.3 1136.5,583.2 1136.8,583.1 1137.1,583 1137.4,582.8 1137.7,582.7 1138,582.5 1138.3,582.2 1138.6,581.9 1138.9,581.5 1139.2,581.1 1139.5,580.8 1139.8,580.4 1140.1,580.2 1140.4,580 1140.7,579.8 1141,579.8 1141.3,579.9 1141.6,580.1 1141.9,580.4 1142.2,580.7 1142.5,581.1 1142.8,581.4 1143.1,581.7 1143.4,581.9 1143.7,582 1144,581.9 1144.3,581.7 1144.6,581.3 1144.9,580.8 1145.2,580.2 1145.5,579.7 1145.8,579 1146.1,578.1 1146.4,577.2 1146.7,576.6 1147,576.4 1147.3,577 1147.6,578.1 1147.9,579.3 1148.2,580.4 1148.5,581.2 1148.8,581.9 1149.1,582.6 1149.4,583.2 1149.7,583.6 1150,583.7 1150.3,583.7 1150.6,583.7 1150.9,583.6 1151.2,583.6 1151.5,583.5 1151.8,583.4 1152.1,583.2 1152.4,583.1 1152.7,582.9 1153,582.7 1153.3,581.5 1153.6,579.5 1153.9,576.8 1154.2,574 1154.5,570.4 1154.8,564.8 1155.1,559.6 1155.4,557.3 1155.7,559.6 1156,564.9 1156.3,570.4 1156.6,573.9 1156.9,576.6 1157.2,579.1 1157.5,581.1 1157.8,582.4 1158.1,582.9 1158.4,583.1 1158.7,583.4 1159,583.6 1159.3,583.7 1159.6,583.9 1159.9,584 1160.2,584.2 1160.5,584.3 1160.8,584.3 1161.1,584.4 1161.4,584.4 1161.7,584.5 1162,584.5 1162.3,584.5 1162.6,584.5 1162.9,584.5 1163.2,584.5 1163.5,584.5 1163.8,584.5 1164.1,584.5 1164.4,584.5 1164.7,584.5 1165,584.5 1165.3,584.5 1165.6,584.5 1165.9,584.5 1166.2,584.5 1166.5,584.5 1166.8,584.5 1167.1,584.5 1167.4,584.5 1167.7,584.5 1168,584.5 1168.3,584.5 1168.6,584.5 1168.9,584.5 1169.2,584.5 1169.5,584.5 1169.8,584.5 1170.1,584.5 1170.4,584.5 1170.7,584.5 1171,584.5 1171.3,584.5 1171.6,584.5 1171.9,584.5 1172.2,584.5 1172.5,584.5 1172.8,584.5 1173.1,584.5 1173.4,584.5 1173.7,584.5 1174,584.5 1174.3,584.5 1174.6,584.5 1174.9,584.5 1175.2,584.5 1175.5,584.5 1175.8,584.5 1176.1,584.5 1176.4,584.5 1176.7,584.5 1177,584.5 1177.3,584.5 1177.6,584.5 1177.9,584.5 1178.2,584.5 1178.5,584.5 1178.8,584.5 1179.1,584.5 1179.4,584.5 1179.7,584.5 1180,584.5 1180.3,584.5 1180.6,584.5 1180.9,584.5 1181.2,584.5 1181.5,584.5 1181.8,584.5 1182.1,584.5 1182.4,584.5 1182.7,584.5 1183,584.5 1183.3,584.4 1183.6,584.3 1183.9,584.1 1184.2,583.9 1184.5,583.7 1184.8,583.5 1185.1,583.3 1185.4,583.1 1185.7,582.9 1186,582.8 1186.3,582.6 1186.6,582.5 1186.9,582.5 1187.2,582.5 1187.5,582.6 1187.8,582.7 1188.1,582.8 1188.4,583 1188.7,583.2 1189,583.4 1189.3,583.6 1189.6,583.8 1189.9,584 1190.2,584.2 1190.5,584.3 1190.8,584.4 1191.1,584.5 1191.4,584.5 1191.7,584.5 1192,584.5 1192.3,584.5 1192.6,584.5 1192.9,584.5 1193.2,584.5 1193.5,584.5 1193.8,584.5 1194.1,584.5 1194.4,584.5 1194.7,584.5 1195,584.6 1195.3,584.6 1195.6,584.6 1195.9,584.6 1196.2,584.6 1196.5,584.6 1196.8,584.6 1197.1,584.6 1197.4,584.6 1197.7,584.6 1198,584.6 1198.3,584.6 1198.6,584.6 1198.9,584.6 1199.2,584.6 1199.5,584.6 1199.8,584.6 1200.1,584.6 1200.4,584.6 1200.7,584.6 1201,584.6 1201.3,584.6 1201.6,584.6 1201.9,584.6 1202.2,584.6 1202.5,584.6 1202.8,584.6 1203.1,584.6 1203.4,584.6 1203.7,584.7 1204,584.7 1204.3,584.7 1204.6,584.7 1204.9,584.7 1205.2,584.7 1205.5,584.7 1205.8,584.7 1206.1,584.7 1206.4,584.7 1206.7,584.7 1207,584.7 1207.3,584.7 1207.6,584.7 1207.9,584.7 1208.2,584.7 1208.5,584.7 1208.8,584.7 1209.1,584.7 1209.4,584.7 1209.7,584.7 1210,584.7 1210.3,584.7 1210.6,584.7 1210.9,584.7 1211.2,584.7 1211.5,584.7 1211.8,584.7 1212.1,584.7 1212.4,584.7 1212.7,584.7 1213,584.7 1213.3,584.7 1213.6,584.7 1213.9,584.7 1214.2,584.7 1214.5,584.7 1214.8,584.7 1215.1,584.8 1215.4,584.8 1215.7,584.8 1216,584.8 1216.3,584.8 1216.6,584.8 1216.9,584.8 1217.2,584.8 1217.5,584.8 1217.8,584.8 1218.1,584.8 1218.4,584.8 1218.7,584.8 1219,584.8 1219.3,584.8 1219.6,584.8 1219.9,584.8 1220.2,584.8 1220.5,584.8 1220.8,584.8 1221.1,584.8 1221.4,584.8 1221.7,584.8 1222,584.8 1222.3,584.8 1222.6,584.8 1222.9,584.8 1223.2,584.8 1223.5,584.8 1223.8,584.8 1224.1,584.8 1224.4,584.8 1224.7,584.8 1225,584.8 1225.3,584.8 1225.6,584.8 1225.9,584.8 1226.2,584.8 1226.5,584.8 1226.8,584.8 1227.1,584.8 1227.4,584.8 1227.7,584.8 1228,584.8 1228.3,584.8 1228.6,584.8 1228.9,584.8 1229.2,584.8 1229.5,584.8 1229.8,584.8 1230.1,584.8 1230.4,584.8 1230.7,584.8 1231,584.8 1231.3,584.8 1231.6,584.8 1231.9,584.8 1232.2,584.8 1232.5,584.8 1232.8,584.8 1233.1,584.8 1233.4,584.8 1233.7,584.8 1234,584.9 1234.3,584.9 1234.6,584.9 1234.9,584.9 1235.2,584.9 1235.5,584.9 1235.8,584.9 1236.1,584.9 1236.4,584.9 1236.7,584.9 1237,584.9 1237.3,584.9 1237.6,584.9 1237.9,584.9 1238.2,584.9 1238.5,584.9 1238.8,584.9 1239.1,584.9 1239.4,584.9 1239.7,584.9 1240,584.9 1240.3,584.9 1240.6,584.9 1240.9,584.9 1241.2,584.9 1241.5,584.9 1241.8,584.9 1242.1,584.9 1242.4,584.9 1242.7,584.9 1243,584.9 1243.3,584.9 1243.6,584.9 1243.9,584.9 1244.2,584.9 1244.5,584.9 1244.8,584.9 1245.1,584.9 1245.4,584.9 1245.7,584.9 1246,584.9 1246.3,584.9 1246.6,584.9 1246.9,584.9 1247.2,584.9 1247.5,584.9 1247.8,584.9 1248.1,584.9 1248.4,584.9 1248.7,584.9 1249,584.9 1249.3,584.9 1249.6,584.9 1249.9,584.9 1250.2,584.9 1250.5,584.9 1250.8,584.9 1251.1,584.9 1251.4,584.9 1251.7,584.9 1252,584.9 1252.3,584.9 1252.6,584.9 1252.9,584.9 1253.2,584.9 1253.5,584.9 1253.8,584.9 1254.1,584.9 1254.4,584.9 1254.7,584.9 1255,584.9 1255.3,584.9 1255.6,584.9 1255.9,584.9 1256.2,584.9 1256.5,584.9 1256.8,584.9 1257.1,584.9 1257.4,584.9 1257.7,584.9 1258,584.9 1258.3,584.9 1258.6,584.9 1258.9,584.9 1259.2,584.9 1259.5,584.9 1259.8,584.9 1260.1,584.9 1260.4,584.9 1260.7,584.9 1261,584.9 1261.3,584.9 1261.6,584.9 1261.9,584.9 1262.2,584.9 1262.5,584.9 1262.8,584.9 1263.1,584.9 1263.4,584.9 1263.7,584.9 1264,584.9 1264.3,584.9 1264.6,584.9 1264.9,584.9 1265.2,584.9 1265.5,584.9 1265.8,584.9 1266.1,584.9 1266.4,584.9 1266.7,584.9 1267,584.9 1267.3,584.9 1267.6,584.9 1267.9,584.9 1268.2,584.9 1268.5,584.9 1268.8,584.9 1269.1,584.9 1269.4,584.9 1269.7,584.9 1270,584.9 1270.3,584.9 1270.6,584.9 1270.9,584.9 1271.1,584.9" fill="none" stroke="#dc30d2" stroke-width="1.8" stroke-linejoin="round" stroke-linecap="round"/>
<path d="M1081.6,619 1082.1,618.5 1082.6,618.1 1083.1,617.8 1083.6,617.3 1084.1,617.1 1084.6,616.8 1085.1,616.8 1085.6,616.8 1086.1,616.9 1086.6,617.1 1087.1,617.4 1087.6,617.7 1088.1,617.9 1088.6,618.2 1089.1,618.4 1089.6,618.8 1090.1,619 1090.6,619.1 1091.1,619.1 1091.6,619 1092.1,619.1 1092.6,619.1 1093.1,619.2 1093.6,619.2 1094.1,619.2 1094.6,619.3 1095.1,619.6 1095.6,619.8 1096.1,619.6 1096.6,619.5 1097.1,619.3 1097.6,619.4 1098.1,619.5 1098.6,619.6 1099.1,619.7 1099.6,619.7 1100.1,619.7 1100.6,619.9 1101.1,620 1101.6,620 1102.1,620 1102.6,619.9 1103.1,620 1103.6,620 1104.1,620 1104.6,620.1 1105.1,620 1105.6,620.2 1106.1,620.3 1106.6,620.4 1107.1,620.4 1107.6,620.2 1108.1,620.2 1108.6,620.2 1109.1,620.3 1109.6,620.3 1110.1,620.3 1110.6,620.4 1111.1,620.4 1111.6,620.3 1112.1,620.2 1112.6,620.2 1113.1,620.4 1113.6,620.3 1114.1,620.3 1114.6,620.4 1115.1,620.5 1115.6,620.8 1116.1,620.7 1116.6,620.5 1117.1,620.5 1117.6,620.5 1118.1,620.7 1118.6,620.6 1119.1,620.6 1119.6,620.6 1120.1,620.8 1120.6,620.8 1121.1,620.8 1121.6,620.9 1122.1,620.8 1122.6,620.8 1123.1,620.8 1123.6,621.1 1124.1,621.1 1124.6,621 1125.1,621 1125.6,621 1126.1,621.1 1126.6,620.9 1127.1,621 1127.6,620.9 1128.1,621 1128.6,620.9 1129.1,621 1129.6,621 1130.1,621.1 1130.6,621.1 1131.1,621.1 1131.6,621 1132.1,621 1132.6,621.2 1133.1,621.2 1133.6,621.3 1134.1,621.2 1134.6,621.3 1135.1,621.4 1135.6,621.5 1136.1,621.4 1136.6,621.4 1137.1,621.4 1137.6,621.4 1138.1,621.3 1138.6,621.2 1139.1,621.1 1139.6,621.3 1140.1,621.3 1140.6,621.3 1141.1,621.1 1141.6,621.1 1142.1,621 1142.6,620.9 1143.1,620.9 1143.6,620.8 1144.1,620.8 1144.6,620.8 1145.1,620.7 1145.6,620.7 1146.1,620.7 1146.6,620.5 1147.1,620.4 1147.6,620.3 1148.1,620.4 1148.6,620.4 1149.1,620.4 1149.6,620.3 1150.1,620.1 1150.6,620.1 1151.1,620 1151.6,619.9 1152.1,619.8 1152.6,619.8 1153.1,619.7 1153.6,619.6 1154.1,619.5 1154.6,619.4 1155.1,619.4 1155.6,619.5 1156.1,619.4 1156.6,619.4 1157.1,619.2 1157.6,619.1 1158.1,619.1 1158.6,619.1 1159.1,619.1 1159.6,619 1160.1,618.8 1160.6,618.7 1161.1,618.7 1161.6,618.6 1162.1,618.5 1162.6,618.1 1163.1,617.9 1163.6,617.9 1164.1,618 1164.6,618.1 1165.1,618 1165.6,618.1 1166.1,617.7 1166.6,617.7 1167.1,617.5 1167.6,617.3 1168.1,617.2 1168.6,617.1 1169.1,617 1169.6,617 1170.1,616.9 1170.6,616.7 1171.1,616.3 1171.6,616.2 1172.1,616.3 1172.6,616.3 1173.1,616.1 1173.6,615.8 1174.1,615.7 1174.6,615.6 1175.1,615.5 1175.6,615.3 1176.1,615.3 1176.6,615 1177.1,614.8 1177.6,614.6 1178.1,614.4 1178.6,614.3 1179.1,614 1179.6,613.9 1180.1,613.5 1180.6,613.5 1181.1,613.2 1181.6,612.9 1182.1,612.6 1182.6,612.2 1183.1,612 1183.6,611.7 1184.1,611.5 1184.6,611.1 1185.1,610.9 1185.6,610.5 1186.1,610 1186.6,609.7 1187.1,609.3 1187.6,608.9 1188.1,608.3 1188.6,607.7 1189.1,607.2 1189.6,606.5 1190.1,605.8 1190.6,605 1191.1,604.3 1191.6,603.5 1192.1,602.8 1192.6,602 1193.1,601.3 1193.6,600.4 1194.1,599.6 1194.6,598.6 1195.1,597.5 1195.6,596.3 1196.1,595.5 1196.6,594.8 1197.1,594.1 1197.6,593.5 1198.1,592.7 1198.6,592.1 1199.1,591.5 1199.6,591.3 1200.1,591.2 1200.6,591.5 1201.1,592 1201.6,592.6 1202.1,593.2 1202.6,593.9 1203.1,594.7 1203.6,595.5 1204.1,596.6 1204.6,597.7 1205.1,598.8 1205.6,599.7 1206.1,600.6 1206.6,601.4 1207.1,602.1 1207.6,602.8 1208.1,603.5 1208.6,604.3 1209.1,604.9 1209.6,605.4 1210.1,605.9 1210.6,606.5 1211.1,606.9 1211.6,607.2 1212.1,607.4 1212.6,607.8 1213.1,608.3 1213.6,608.6 1214.1,608.9 1214.6,609.1 1215.1,609.3 1215.6,609.5 1216.1,609.5 1216.6,609.8 1217.1,610 1217.6,610.3 1218.1,610.4 1218.6,610.5 1219.1,610.6 1219.6,610.6 1220.1,610.8 1220.6,610.8 1221.1,611 1221.6,611 1222.1,611 1222.6,611.2 1223.1,611 1223.6,610.8 1224.1,610.6 1224.6,610.6 1225.1,610.6 1225.6,610.3 1226.1,610 1226.6,609.7 1227.1,609.5 1227.6,609.3 1228.1,609.1 1228.6,608.8 1229.1,608.5 1229.6,608.1 1230.1,607.5 1230.6,607.1 1231.1,606.8 1231.6,606.3 1232.1,605.5 1232.6,604.6 1233.1,603.7 1233.6,602.8 1234.1,601.8 1234.6,601 1235.1,600.2 1235.6,599.5 1236.1,598.7 1236.6,597.9 1237.1,597.2 1237.6,596.7 1238.1,596.5 1238.6,596.4 1239.1,596.8 1239.6,597.1 1240.1,597.4 1240.6,597.8 1241.1,598.3 1241.6,599 1242.1,599.8 1242.6,600.7 1243.1,601.5 1243.6,602.4 1244.1,603.4 1244.6,604.7 1245.1,606.1 1245.6,607.7 1246.1,609 1246.6,610.1 1247.1,611.2 1247.6,611.8 1248.1,612.4 1248.6,612.9 1249.1,613.7 1249.6,614.4 1250.1,615.1 1250.6,615.7 1251.1,616 1251.6,616.3 1252.1,616.5 1252.6,616.8 1253.1,617.1 1253.6,617.4 1254.1,617.6 1254.6,617.8 1255.1,618 1255.6,618.2 1256.1,618.4 1256.6,618.6 1257.1,618.7 1257.6,618.8 1258.1,619 1258.6,619 1259.1,619.1 1259.6,619.1 1260.1,619.2 1260.6,619.1 1261.1,619 1261.6,619 1262.1,619 1262.6,619.1 1263.1,619 1263.6,618.9 1264.1,618.8 1264.6,618.8 1265.1,618.7 1265.6,618.9 1266.1,619.1 1266.6,619.1 1267.1,619.2 1267.6,619 1268.1,619 1268.6,619 1269.1,619.2 1269.6,619.3 1270.1,619.1 1270.6,618.9 1271.1,618.8" fill="none" stroke="#35d2d4" stroke-width="2.0" stroke-linejoin="round" stroke-linecap="round"/>
<path d="M1081.6,651.7 1082.1,651.2 1082.6,650.7 1083.1,650.4 1083.6,650.1 1084.1,649.7 1084.6,649.7 1085.1,649.6 1085.6,649.6 1086.1,649.6 1086.6,649.8 1087.1,650 1087.6,650.3 1088.1,650.6 1088.6,651.1 1089.1,651.6 1089.6,651.8 1090.1,651.9 1090.6,652.4 1091.1,652.6 1091.6,652.9 1092.1,652.9 1092.6,653.2 1093.1,653.4 1093.6,653.6 1094.1,653.7 1094.6,653.8 1095.1,653.9 1095.6,654 1096.1,654.1 1096.6,654.1 1097.1,654.3 1097.6,654.6 1098.1,654.9 1098.6,655 1099.1,655 1099.6,655 1100.1,655 1100.6,655 1101.1,655.1 1101.6,655.1 1102.1,655.1 1102.6,655.2 1103.1,655.3 1103.6,655.5 1104.1,655.6 1104.6,655.5 1105.1,655.4 1105.6,655.3 1106.1,655.4 1106.6,655.4 1107.1,655.6 1107.6,655.6 1108.1,655.5 1108.6,655.4 1109.1,655.4 1109.6,655.3 1110.1,655.2 1110.6,655.3 1111.1,655.3 1111.6,655.3 1112.1,655.2 1112.6,655.2 1113.1,655.3 1113.6,655.4 1114.1,655.3 1114.6,655.1 1115.1,655.1 1115.6,655.3 1116.1,655.3 1116.6,655.3 1117.1,655.3 1117.6,655.3 1118.1,655.3 1118.6,655.3 1119.1,655.2 1119.6,655.3 1120.1,655.3 1120.6,655.3 1121.1,655.4 1121.6,655.3 1122.1,655.2 1122.6,655.2 1123.1,655.3 1123.6,655.3 1124.1,655.1 1124.6,655.1 1125.1,655.2 1125.6,655.1 1126.1,655 1126.6,654.9 1127.1,655 1127.6,655 1128.1,655.2 1128.6,655.1 1129.1,655.1 1129.6,655 1130.1,655.2 1130.6,655.1 1131.1,655 1131.6,654.9 1132.1,654.9 1132.6,654.9 1133.1,654.9 1133.6,654.9 1134.1,654.7 1134.6,654.6 1135.1,654.6 1135.6,654.5 1136.1,654.5 1136.6,654.4 1137.1,654.4 1137.6,654.3 1138.1,654.3 1138.6,654.3 1139.1,654.3 1139.6,654.1 1140.1,653.9 1140.6,653.8 1141.1,653.7 1141.6,653.7 1142.1,653.7 1142.6,653.7 1143.1,653.6 1143.6,653.4 1144.1,653.4 1144.6,653.4 1145.1,653.3 1145.6,653.1 1146.1,653 1146.6,653.1 1147.1,653 1147.6,652.8 1148.1,652.5 1148.6,652.4 1149.1,652.4 1149.6,652.3 1150.1,652.2 1150.6,652 1151.1,652.1 1151.6,651.9 1152.1,651.8 1152.6,651.6 1153.1,651.6 1153.6,651.6 1154.1,651.7 1154.6,651.6 1155.1,651.5 1155.6,651.4 1156.1,651.3 1156.6,651.4 1157.1,651.3 1157.6,651.4 1158.1,651.4 1158.6,651.4 1159.1,651.4 1159.6,651.4 1160.1,651.5 1160.6,651.4 1161.1,651.3 1161.6,651.3 1162.1,651.3 1162.6,651.6 1163.1,651.5 1163.6,651.4 1164.1,651.3 1164.6,651.3 1165.1,651.3 1165.6,651.5 1166.1,651.6 1166.6,651.6 1167.1,651.5 1167.6,651.4 1168.1,651.4 1168.6,651.5 1169.1,651.6 1169.6,651.6 1170.1,651.5 1170.6,651.5 1171.1,651.6 1171.6,651.7 1172.1,651.8 1172.6,651.7 1173.1,651.6 1173.6,651.7 1174.1,651.8 1174.6,652 1175.1,652.1 1175.6,652 1176.1,651.8 1176.6,651.7 1177.1,651.7 1177.6,651.6 1178.1,651.7 1178.6,651.7 1179.1,651.8 1179.6,651.9 1180.1,651.9 1180.6,651.9 1181.1,651.7 1181.6,651.6 1182.1,651.5 1182.6,651.3 1183.1,651.2 1183.6,650.9 1184.1,650.9 1184.6,650.7 1185.1,650.5 1185.6,650.2 1186.1,650 1186.6,649.8 1187.1,649.6 1187.6,649.4 1188.1,649.2 1188.6,649 1189.1,648.7 1189.6,648.3 1190.1,648 1190.6,647.6 1191.1,647.4 1191.6,647 1192.1,646.7 1192.6,646.4 1193.1,646.1 1193.6,645.7 1194.1,645.3 1194.6,645 1195.1,644.7 1195.6,644.4 1196.1,643.9 1196.6,643.7 1197.1,643.3 1197.6,643.1 1198.1,642.9 1198.6,642.9 1199.1,642.8 1199.6,642.9 1200.1,643.1 1200.6,643.4 1201.1,643.7 1201.6,644 1202.1,644.3 1202.6,644.6 1203.1,644.9 1203.6,645.3 1204.1,645.8 1204.6,646.2 1205.1,646.6 1205.6,646.9 1206.1,647.2 1206.6,647.5 1207.1,647.8 1207.6,648.2 1208.1,648.4 1208.6,648.6 1209.1,648.8 1209.6,649 1210.1,649.3 1210.6,649.4 1211.1,649.6 1211.6,649.8 1212.1,649.9 1212.6,650.1 1213.1,650.2 1213.6,650.4 1214.1,650.7 1214.6,650.9 1215.1,650.9 1215.6,650.8 1216.1,651 1216.6,651 1217.1,651.1 1217.6,651 1218.1,651 1218.6,650.9 1219.1,650.8 1219.6,650.9 1220.1,650.8 1220.6,650.7 1221.1,650.8 1221.6,650.8 1222.1,650.7 1222.6,650.6 1223.1,650.6 1223.6,650.5 1224.1,650.5 1224.6,650.4 1225.1,650.3 1225.6,650.2 1226.1,650.2 1226.6,650.2 1227.1,650.1 1227.6,650 1228.1,649.9 1228.6,649.8 1229.1,649.5 1229.6,649.2 1230.1,649 1230.6,648.6 1231.1,648.5 1231.6,648.2 1232.1,648.1 1232.6,647.8 1233.1,647.6 1233.6,647.3 1234.1,647.1 1234.6,646.7 1235.1,646.5 1235.6,646.1 1236.1,646.1 1236.6,646 1237.1,646 1237.6,645.9 1238.1,645.8 1238.6,646.1 1239.1,646.3 1239.6,646.8 1240.1,647.2 1240.6,647.6 1241.1,647.8 1241.6,648 1242.1,648.3 1242.6,648.7 1243.1,649.3 1243.6,649.7 1244.1,650.1 1244.6,650.4 1245.1,650.9 1245.6,651.3 1246.1,651.7 1246.6,651.8 1247.1,652.2 1247.6,652.6 1248.1,653.1 1248.6,653.3 1249.1,653.5 1249.6,653.8 1250.1,654 1250.6,654.2 1251.1,654.3 1251.6,654.3 1252.1,654.2 1252.6,654.2 1253.1,654.2 1253.6,654.3 1254.1,654.3 1254.6,654.4 1255.1,654.3 1255.6,654.2 1256.1,654.1 1256.6,654.4 1257.1,654.4 1257.6,654.6 1258.1,654.6 1258.6,654.6 1259.1,654.6 1259.6,654.5 1260.1,654.6 1260.6,654.6 1261.1,654.6 1261.6,654.5 1262.1,654.4 1262.6,654.3 1263.1,654.5 1263.6,654.6 1264.1,654.6 1264.6,654.5 1265.1,654.6 1265.6,654.8 1266.1,654.7 1266.6,654.7 1267.1,654.7 1267.6,654.7 1268.1,654.8 1268.6,654.7 1269.1,654.9 1269.6,654.8 1270.1,654.9 1270.6,654.8 1271.1,654.7" fill="none" stroke="#1c1c1c" stroke-width="2.0" stroke-linejoin="round" stroke-linecap="round"/>
<text x="1084" y="425.6" font-size="13.4" textLength="166.6" lengthAdjust="spacingAndGlyphs" stroke="#000" stroke-width="0.3">E/CuNW@rGO/PMS/RNTD</text>
<text x="1085.2" y="493.7" font-size="13.4" textLength="125.3" lengthAdjust="spacingAndGlyphs" stroke="#000" stroke-width="0.3">E/CuNW@rGO/PMS</text>
<text x="1204" y="460" font-size="13.5" stroke="#000" stroke-width="0.3">D</text>
<text x="1239.6" y="460" font-size="13.5" stroke="#000" stroke-width="0.3">G</text>
<text x="1085.2" y="574.3" font-size="13.2" textLength="29.6" lengthAdjust="spacingAndGlyphs" stroke="#000" stroke-width="0.3">PMS</text>
<text x="1084.5" y="604.6" font-size="13.4" textLength="121.3" lengthAdjust="spacingAndGlyphs" stroke="#000" stroke-width="0.3">CuNW@rGO/RNTD</text>
<text x="1092.5" y="641.6" font-size="13.4" textLength="79.7" lengthAdjust="spacingAndGlyphs" stroke="#000" stroke-width="0.3">CuNW@rGO</text>
<rect x="1081.7" y="409" width="189.6" height="260.7" fill="none" stroke="#000" stroke-width="1.5"/>
<line x1="1114.5" y1="669.7" x2="1114.5" y2="676.5" stroke="#000" stroke-width="1.4"/>
<line x1="1176.9" y1="669.7" x2="1176.9" y2="676.5" stroke="#000" stroke-width="1.4"/>
<line x1="1239.3" y1="669.7" x2="1239.3" y2="676.5" stroke="#000" stroke-width="1.4"/>
<line x1="1083.3" y1="669.7" x2="1083.3" y2="673.1" stroke="#000" stroke-width="1.4"/>
<line x1="1145.7" y1="669.7" x2="1145.7" y2="673.1" stroke="#000" stroke-width="1.4"/>
<line x1="1208.1" y1="669.7" x2="1208.1" y2="673.1" stroke="#000" stroke-width="1.4"/>
<line x1="1270.5" y1="669.7" x2="1270.5" y2="673.1" stroke="#000" stroke-width="1.4"/>
<text x="1108.7" y="694.2" font-size="15.2" text-anchor="middle" stroke="#000" stroke-width="0.4">800</text>
<text x="1171.1" y="694.2" font-size="15.2" text-anchor="middle" stroke="#000" stroke-width="0.4">1200</text>
<text x="1233.5" y="694.2" font-size="15.2" text-anchor="middle" stroke="#000" stroke-width="0.4">1600</text>
<line x1="1081.6" y1="427.1" x2="1070.2" y2="421.3" stroke="#000" stroke-width="1.1"/>
<path d="M1061,416.5 L1072.7,418.6 L1069.5,424.8 Z" fill="#000"/>
<line x1="1081.4" y1="659.9" x2="1069.4" y2="663.8" stroke="#000" stroke-width="1.0"/>
<path d="M1060.3,666.7 L1069.3,660.2 L1071.4,666.7 Z" fill="#000"/>
<text x="969.5" y="716.9" font-size="23" textLength="171.5" lengthAdjust="spacingAndGlyphs" stroke="#000" stroke-width="0.4">Raman shift (cm</text>
<text x="1140.9" y="707.4" font-size="14" stroke="#000" stroke-width="0.4">-1</text>
<text x="1154.6" y="716.9" font-size="23" stroke="#000" stroke-width="0.4">)</text>
<text x="871.5" y="540" font-size="23.5" text-anchor="middle" textLength="152.3" lengthAdjust="spacingAndGlyphs" stroke="#000" stroke-width="0.4" transform="rotate(-90 871.5 540)">Intensity (a.u.)</text>
<text x="67.3" y="754.3" font-size="32" stroke="#000" stroke-width="0.4">g</text>
<path d="M79.2,1030 79.5,1030 79.7,1030 80,1030 80.2,1030 80.5,1030 80.7,1030 81,1030 81.2,1030 81.5,1030 81.7,1030 82,1030.7 82.2,1033.2 82.5,1034.7 82.7,1035.2 83,1035.6 83.2,1035.9 83.5,1036.1 83.7,1036.2 84,1036.2 84.2,1036.2 84.5,1036.3 84.7,1036.3 85,1036.3 85.2,1036.3 85.5,1036.4 85.7,1036.4 86,1036.4 86.2,1036.4 86.5,1036.4 86.7,1036.4 87,1036.5 87.2,1036.5 87.5,1036.5 87.7,1036.5 88,1036.5 88.2,1036.5 88.5,1036.5 88.7,1036.6 89,1036.6 89.2,1036.6 89.5,1036.6 89.7,1036.6 90,1036.6 90.2,1036.6 90.5,1036.6 90.7,1036.6 91,1036.6 91.2,1036.6 91.5,1036.7 91.7,1036.7 92,1036.7 92.2,1036.7 92.5,1036.7 92.7,1036.7 93,1036.7 93.2,1036.7 93.5,1036.7 93.7,1036.7 94,1036.7 94.2,1036.7 94.5,1036.7 94.7,1036.7 95,1036.7 95.2,1036.7 95.5,1036.7 95.7,1036.7 96,1036.7 96.2,1036.7 96.5,1036.8 96.7,1036.8 97,1036.8 97.2,1036.8 97.5,1036.8 97.7,1036.8 98,1036.8 98.2,1036.8 98.5,1036.8 98.7,1036.8 99,1036.8 99.2,1036.8 99.5,1036.8 99.7,1036.8 100,1036.8 100.2,1036.8 100.5,1036.8 100.7,1036.8 101,1036.8 101.2,1036.8 101.5,1036.8 101.7,1036.8 102,1036.8 102.2,1036.8 102.5,1036.8 102.7,1036.8 103,1036.8 103.2,1036.8 103.5,1036.9 103.7,1036.9 104,1036.9 104.2,1036.9 104.5,1036.9 104.7,1036.9 105,1036.9 105.2,1036.9 105.5,1036.9 105.7,1036.9 106,1036.9 106.2,1036.9 106.5,1036.9 106.7,1036.9 107,1036.9 107.2,1036.9 107.5,1036.9 107.7,1036.9 108,1036.9 108.2,1036.9 108.5,1036.9 108.7,1036.9 109,1036.9 109.2,1036.9 109.5,1036.9 109.7,1036.9 110,1036.9 110.2,1036.9 110.5,1036.9 110.7,1037 111,1037 111.2,1037 111.5,1037 111.7,1037 112,1037 112.2,1037 112.5,1037 112.7,1037 113,1037 113.2,1037 113.5,1037 113.7,1037 114,1037 114.2,1037 114.5,1037 114.7,1037 115,1037 115.2,1037 115.5,1037 115.7,1037 116,1037 116.2,1037 116.5,1037 116.7,1037 117,1037 117.2,1037 117.5,1037 117.7,1037 118,1037 118.2,1037 118.5,1037 118.7,1037 119,1037 119.2,1037 119.5,1037 119.7,1037 120,1037 120.2,1037.1 120.5,1037.1 120.7,1037.1 121,1037.1 121.2,1037.1 121.5,1037.1 121.7,1037.1 122,1037.1 122.2,1037.1 122.5,1037.1 122.7,1037.1 123,1037.1 123.2,1037.1 123.5,1037.1 123.7,1037.1 124,1037.1 124.2,1037.1 124.5,1037.1 124.7,1037.1 125,1037.1 125.2,1037.1 125.5,1037.1 125.7,1037.1 126,1037.1 126.2,1037.1 126.5,1037.1 126.7,1037.1 127,1037.1 127.2,1037.1 127.5,1037.1 127.7,1037.1 128,1037.1 128.2,1037.1 128.4,1037.1 128.7,1037.1 128.9,1037.1 129.2,1037.1 129.4,1037.1 129.7,1037.1 129.9,1037.1 130.2,1037.1 130.4,1037.1 130.7,1037.1 130.9,1037.1 131.2,1037.1 131.4,1037.1 131.7,1037.1 131.9,1037.1 132.2,1037.1 132.4,1036.8 132.7,1035.1 132.9,1032.6 133.2,1030 133.4,1026.6 133.7,1022.6 133.9,1020.2 134.2,1020.2 134.4,1020.5 134.7,1020.9 134.9,1021.5 135.2,1022 135.4,1022.5 135.7,1022.9 135.9,1023.3 136.2,1023.7 136.4,1024 136.7,1024.3 136.9,1024.7 137.2,1025 137.4,1025.3 137.7,1025.6 137.9,1025.9 138.2,1026.2 138.4,1026.4 138.7,1026.7 138.9,1027 139.2,1027.3 139.4,1027.6 139.7,1027.9 139.9,1028.1 140.2,1028.4 140.4,1028.6 140.7,1028.8 140.9,1029 141.2,1029.2 141.4,1029.4 141.7,1029.5 141.9,1029.6 142.2,1029.7 142.4,1029.8 142.7,1030 142.9,1030.1 143.2,1030.2 143.4,1030.3 143.7,1030.4 143.9,1030.5 144.2,1030.6 144.4,1030.6 144.7,1030.7 144.9,1030.8 145.2,1030.9 145.4,1031 145.7,1031 145.9,1031.1 146.2,1031.2 146.4,1031.3 146.7,1031.3 146.9,1031.4 147.2,1031.4 147.4,1031.5 147.7,1031.6 147.9,1031.6 148.2,1031.7 148.4,1031.7 148.7,1031.8 148.9,1031.8 149.2,1031.8 149.4,1031.9 149.7,1031.9 149.9,1032 150.2,1032 150.4,1032 150.7,1032.1 150.9,1032.1 151.2,1032.1 151.4,1032.2 151.7,1032.2 151.9,1032.2 152.2,1032.3 152.4,1032.3 152.7,1032.3 152.9,1032.4 153.2,1032.4 153.4,1032.4 153.7,1032.4 153.9,1032.5 154.2,1032.5 154.4,1032.5 154.7,1032.6 154.9,1032.6 155.2,1032.6 155.4,1032.6 155.7,1032.7 155.9,1032.7 156.2,1032.7 156.4,1032.7 156.7,1032.8 156.9,1032.8 157.2,1032.8 157.4,1032.8 157.7,1032.9 157.9,1032.9 158.2,1032.9 158.4,1032.9 158.7,1033 158.9,1033 159.2,1033 159.4,1033 159.7,1033 159.9,1033.1 160.2,1033.1 160.4,1033.1 160.7,1033.1 160.9,1033.1 161.2,1033.1 161.4,1033.2 161.7,1033.2 161.9,1033.2 162.2,1033.2 162.4,1033.2 162.7,1033.2 162.9,1033.2 163.2,1033.3 163.4,1033.3 163.7,1033.3 163.9,1033.3 164.2,1033.3 164.4,1033.3 164.7,1033.3 164.9,1033.3 165.2,1033.3 165.4,1033.4 165.7,1033.4 165.9,1033.4 166.2,1033.4 166.4,1033.4 166.7,1033.4 166.9,1033.4 167.2,1033.4 167.4,1033.4 167.7,1033.4 167.9,1033.4 168.2,1033.4 168.4,1033.4 168.7,1033.4 168.9,1033.4 169.2,1033.4 169.4,1033.4 169.7,1033.4 169.9,1033.4 170.2,1033.4 170.4,1033.5 170.7,1033.5 170.9,1033.5 171.2,1033.5 171.4,1033.5 171.7,1033.5 171.9,1033.5 172.2,1033.5 172.4,1033.5 172.7,1033.5 172.9,1033.5 173.2,1033.5 173.4,1033.5 173.7,1033.5 173.9,1033.5 174.2,1033.5 174.4,1033.5 174.7,1033.5 174.9,1033.5 175.2,1033.5 175.4,1033.5 175.7,1033.5 175.9,1033.5 176.2,1033.5 176.4,1033.5 176.7,1033.5 176.9,1033.5 177.2,1033.5 177.4,1033.5 177.7,1033.5 177.9,1033.5 178.2,1033.5 178.4,1033.5 178.7,1033.5 178.9,1033.5 179.2,1033.5 179.4,1033.5 179.7,1033.6 179.9,1033.6 180.2,1033.6 180.4,1033.6 180.7,1033.6 180.9,1033.6 181.2,1033.6 181.4,1033.6 181.7,1033.6 181.9,1033.6 182.2,1033.6 182.4,1033.6 182.7,1033.6 182.9,1033.6 183.2,1033.6 183.4,1033.6 183.7,1033.6 183.9,1033.6 184.2,1033.6 184.4,1033.6 184.7,1033.6 184.9,1033.6 185.2,1033.6 185.4,1033.6 185.7,1033.6 185.9,1033.6 186.2,1033.6 186.4,1033.6 186.7,1033.6 186.9,1033.6 187.2,1033.6 187.4,1033.6 187.7,1033.6 187.9,1033.6 188.2,1033.6 188.4,1033.6 188.7,1033.6 188.9,1033.6 189.2,1033.6 189.4,1033.6 189.7,1033.6 189.9,1033.6 190.2,1033.6 190.4,1033.6 190.7,1033.6 190.9,1033.6 191.2,1033.6 191.4,1033.6 191.7,1033.6 191.9,1033.6 192.2,1033.6 192.4,1033.6 192.7,1033.6 192.9,1033.6 193.2,1033.6 193.4,1033.6 193.7,1033.6 193.9,1033.6 194.2,1033.6 194.4,1033.6 194.7,1033.6 194.9,1033.6 195.2,1033.7 195.4,1033.7 195.7,1033.7 195.9,1033.7 196.2,1033.7 196.4,1033.7 196.7,1033.7 196.9,1033.7 197.2,1033.7 197.4,1033.7 197.7,1033.7 197.9,1033.7 198.2,1033.7 198.4,1033.7 198.7,1033.7 198.9,1033.7 199.2,1033.7 199.4,1033.7 199.7,1033.7 199.9,1033.7 200.2,1033.7 200.4,1033.7 200.7,1033.7 200.9,1033.7 201.2,1033.7 201.4,1033.7 201.7,1033.7 201.9,1033.7 202.2,1033.7 202.4,1033.7 202.7,1033.7 202.9,1033.7 203.2,1033.7 203.4,1033.7 203.7,1033.7 203.9,1033.7 204.2,1033.7 204.4,1033.7 204.7,1033.7 204.9,1033.7 205.2,1033.7 205.4,1033.7 205.7,1033.7 205.9,1033.8 206.2,1033.8 206.4,1033.8 206.7,1033.8 206.9,1033.8 207.2,1033.8 207.4,1033.8 207.7,1033.8 207.9,1033.8 208.2,1033.8 208.4,1033.8 208.7,1033.8 208.9,1033.8 209.2,1033.8 209.4,1033.8 209.7,1033.8 209.9,1033.8 210.2,1033.8 210.4,1033.8 210.7,1033.8 210.9,1033.8 211.2,1033.8 211.4,1033.8 211.7,1033.8 211.9,1033.8 212.2,1033.8 212.4,1033.8 212.7,1033.8 212.9,1033.8 213.2,1033.8 213.4,1033.9 213.7,1033.9 213.9,1033.9 214.2,1033.9 214.4,1033.9 214.7,1033.9 214.9,1033.9 215.2,1033.9 215.4,1033.9 215.7,1033.9 215.9,1033.9 216.2,1033.9 216.4,1033.9 216.7,1033.9 216.9,1033.9 217.2,1033.9 217.4,1033.9 217.7,1033.9 217.9,1033.9 218.2,1033.9 218.4,1033.9 218.7,1033.9 218.9,1033.9 219.2,1033.9 219.4,1033.9 219.7,1033.9 219.9,1033.9 220.2,1033.9 220.4,1034 220.7,1034 220.9,1034 221.2,1034 221.4,1034 221.7,1034 221.9,1034 222.2,1034 222.4,1034 222.7,1034 222.9,1034 223.2,1034 223.4,1034 223.7,1034 223.9,1034 224.2,1034 224.4,1034 224.7,1034 224.9,1034 225.2,1034 225.4,1034 225.7,1034 225.9,1034 226.2,1034 226.4,1034 226.7,1034 226.9,1034 227.2,1034 227.4,1034 227.7,1034 227.9,1034 228.2,1034 228.4,1034 228.7,1034 228.9,1034.1 229.2,1034.1 229.4,1034.1 229.7,1034.1 229.9,1034.1 230.2,1034.1 230.4,1034.1 230.7,1034.1 230.9,1034.1 231.2,1034.1 231.4,1034.1 231.7,1034.1 231.9,1034.1 232.2,1034.1 232.4,1034.1 232.7,1034.1 232.9,1034.1 233.2,1034.1 233.4,1034.1 233.7,1034.1 233.9,1034.1 234.2,1034.1 234.4,1034.1 234.7,1034.1 234.9,1034.1 235.2,1034.1 235.4,1034.1 235.7,1034.1 235.9,1034.1 236.2,1034.1 236.4,1034.1 236.7,1034.1 236.9,1034.1 237.2,1034.1 237.4,1034.1 237.7,1034.1 237.9,1034.1 238.2,1034.1 238.4,1034.1 238.7,1034.1 238.9,1034.1 239.2,1034.1 239.4,1034 239.7,1033.9 239.9,1033.8 240.2,1033.7 240.4,1033.6 240.7,1033.4 240.9,1033.1 241.2,1032.7 241.4,1032.2 241.7,1031.7 241.9,1031.3 242.2,1031 242.4,1030.8 242.7,1030.6 242.9,1030.4 243.2,1030.3 243.4,1030.2 243.7,1030.1 243.9,1030.1 244.2,1030.1 244.4,1030.1 244.7,1030.1 244.9,1030.1 245.2,1030.1 245.4,1030.1 245.7,1030.1 245.9,1030.1 246.2,1030.1 246.4,1030.1 246.7,1030.1 246.9,1030.1 247.2,1030.1 247.4,1030.1 247.7,1030.1 247.9,1030.1 248.2,1030.1 248.4,1030.1 248.7,1030.1 248.9,1030.1 249.2,1030.1 249.4,1030.1 249.7,1030.1 249.9,1030.1 250.2,1030.1 250.4,1030.1 250.7,1030.1 250.9,1030.1 251.2,1030.1 251.4,1030.1 251.7,1030.1 251.9,1030.1 252.2,1030.1 252.4,1030.1 252.7,1030.1 252.9,1030.1 253.2,1030.1 253.4,1030.1 253.7,1030.2 253.9,1030.2 254.2,1030.2 254.4,1030.2 254.7,1030.3 254.9,1030.3 255.2,1030.3 255.4,1030.4 255.7,1030.4 255.9,1030.4 256.2,1030.5 256.4,1030.5 256.7,1030.6 256.9,1030.6 257.2,1030.7 257.4,1030.7 257.7,1030.7 257.9,1030.8 258.2,1030.8 258.4,1030.9 258.7,1030.9 258.9,1030.9 259.2,1031 259.4,1031 259.7,1031 259.9,1031.1 260.2,1031.1 260.4,1031.1 260.7,1031.2 260.9,1031.2 261.2,1031.2 261.4,1031.3 261.7,1031.3 261.9,1031.3 262.2,1031.3 262.4,1031.4 262.7,1031.4 262.9,1031.4 263.2,1031.5 263.4,1031.5 263.7,1031.5 263.9,1031.6 264.2,1031.6 264.4,1031.6 264.7,1031.6 264.9,1031.7 265.2,1031.7 265.4,1031.7 265.7,1031.8 265.9,1031.8 266.2,1031.8 266.4,1031.8 266.7,1031.9 266.9,1031.9 267.2,1031.9 267.4,1032 267.7,1032 267.9,1032 268.2,1032.1 268.4,1032.1 268.7,1032.1 268.9,1032.1 269.2,1032.2 269.4,1032.2 269.7,1032.2 269.9,1032.3 270.2,1032.3 270.4,1032.3 270.7,1032.3 270.9,1032.4 271.2,1032.4 271.4,1032.4 271.7,1032.5 271.9,1032.5 272.2,1032.5 272.4,1032.5 272.7,1032.6 272.9,1032.6 273.2,1032.6 273.4,1032.7 273.7,1032.7 273.9,1032.7 274.2,1032.8 274.4,1032.8 274.7,1032.8 274.9,1032.8 275.2,1032.9 275.4,1032.9 275.7,1032.9 275.9,1033 276.2,1033 276.4,1033 276.7,1033 276.9,1033.1 277.2,1033.1 277.4,1033.1 277.7,1033.2 277.9,1033.2 278.2,1033.2 278.4,1033.2 278.7,1033.3 278.9,1033.3 279.2,1033.3 279.4,1033.3 279.7,1033.4 279.9,1033.4 280.2,1033.4 280.4,1033.4 280.7,1033.4 280.9,1033.5 281.2,1033.5 281.4,1033.5 281.7,1033.5 281.9,1033.5 282.2,1033.6 282.4,1033.6 282.7,1033.6 282.9,1033.6 283.2,1033.6 283.4,1033.6 283.7,1033.7 283.9,1033.7 284.2,1033.7 284.4,1033.7 284.7,1033.7 284.9,1033.8 285.2,1033.8 285.4,1033.8 285.7,1033.8 285.9,1033.8 286.2,1033.8 286.4,1033.9 286.7,1033.9 286.9,1033.9 287.2,1033.9 287.4,1033.9 287.7,1033.9 287.9,1034 288.2,1034 288.4,1034 288.7,1034 288.9,1034 289.2,1034 289.4,1034.1 289.7,1034.1 289.9,1034.1 290.2,1034.1 290.4,1034.1 290.7,1034.1 290.9,1034.2 291.2,1034.2 291.4,1034.2 291.7,1034.2 291.9,1034.2 292.2,1034.2 292.4,1034.3 292.7,1034.3 292.9,1034.3 293.2,1034.3 293.4,1034.3 293.7,1034.3 293.9,1034.4 294.2,1034.4 294.4,1034.4 294.7,1034.4 294.9,1034.4 295.2,1034.4 295.4,1034.4 295.7,1034.5 295.9,1034.5 296.2,1034.5 296.4,1034.5 296.7,1034.5 296.9,1034.5 297.2,1034.5 297.4,1034.6 297.7,1034.6 297.9,1034.6 298.2,1034.6 298.4,1034.6 298.7,1034.6 298.9,1034.6 299.2,1034.7 299.4,1034.7 299.7,1034.7 299.9,1034.7 300.2,1034.7 300.4,1034.7 300.7,1034.7 300.9,1034.8 301.2,1034.8 301.4,1034.8 301.7,1034.8 301.9,1034.8 302.2,1034.8 302.4,1034.8 302.7,1034.8 302.9,1034.9 303.2,1034.9 303.4,1034.9 303.7,1034.9 303.9,1034.9 304.2,1034.9 304.4,1034.9 304.7,1034.9 304.9,1034.9 305.2,1035 305.4,1035 305.7,1035 305.9,1035 306.2,1035 306.4,1035 306.7,1035 306.9,1035 307.2,1035 307.4,1035.1 307.7,1035.1 307.9,1035.1 308.2,1035.1 308.4,1035.1 308.7,1035.1 308.9,1035.1 309.2,1035.1 309.4,1035.1 309.7,1035.1 309.9,1035.2 310.2,1035.2 310.4,1035.2 310.7,1035.2 310.9,1035.2 311.2,1035.2 311.4,1035.2 311.7,1035.2 311.9,1035.2 312.2,1035.2 312.4,1035.2 312.7,1035.2 312.9,1035.3 313.2,1035.3 313.4,1035.3 313.7,1035.3 313.9,1035.3 314.2,1035.3 314.4,1035.3 314.7,1035.3 314.9,1035.3 315.2,1035.3 315.4,1035.3 315.7,1035.3 315.9,1035.3 316.2,1035.4 316.4,1035.4 316.7,1035.4 316.9,1035.4 317.2,1035.4 317.4,1035.4 317.7,1035.4 317.9,1035.4 318.2,1035.4 318.4,1035.4 318.7,1035.4 318.9,1035.4 319.2,1035.4 319.4,1035.4 319.7,1035.4 319.9,1035.4 320.2,1035.4 320.4,1035.4 320.7,1035.5 320.9,1035.5 321.2,1035.5 321.4,1035.5 321.7,1035.5 321.9,1035.5 322.2,1035.5 322.4,1035.5 322.7,1035.5 322.9,1035.5 323.2,1035.5 323.4,1035.5 323.7,1035.5 323.9,1035.5 324.2,1035.5 324.4,1035.5 324.7,1035.5 324.9,1035.5 325.2,1035.5 325.4,1035.5 325.7,1035.6 325.9,1035.6 326.2,1035.6 326.4,1035.6 326.7,1035.6 326.9,1035.6 327.2,1035.6 327.4,1035.6 327.7,1035.6 327.9,1035.6 328.2,1035.6 328.4,1035.6 328.7,1035.6 328.9,1035.6 329.2,1035.6 329.4,1035.6 329.7,1035.6 329.9,1035.6 330.2,1035.6 330.4,1035.6 330.7,1035.7 330.9,1035.7 331.2,1035.7 331.4,1035.7 331.7,1035.7 331.9,1035.7 332.2,1035.7 332.4,1035.7 332.7,1035.7 332.9,1035.7 333.2,1035.7 333.4,1035.7 333.7,1035.7 333.9,1035.7 334.2,1035.7 334.4,1035.7 334.7,1035.7 334.9,1035.7 335.2,1035.7 335.4,1035.7 335.7,1035.7 335.9,1035.7 336.2,1035.8 336.4,1035.8 336.7,1035.8 336.9,1035.8 337.2,1035.8 337.4,1035.8 337.7,1035.8 337.9,1035.8 338.2,1035.8 338.4,1035.8 338.7,1035.8 338.9,1035.8 339.2,1035.8 339.4,1035.8 339.7,1035.8 339.9,1035.8 340.2,1035.8 340.4,1035.8 340.7,1035.8 340.9,1035.8 341.2,1035.8 341.4,1035.8 341.7,1035.8 341.9,1035.9 342.2,1035.9 342.4,1035.9 342.7,1035.9 342.9,1035.9 343.2,1035.9 343.4,1035.9 343.7,1035.9 343.9,1035.9 344.2,1035.9 344.4,1035.9 344.7,1035.9 344.9,1035.9 345.2,1035.9 345.4,1035.9 345.7,1035.9 345.9,1035.9 346.2,1035.9 346.4,1035.9 346.7,1035.9 346.9,1035.9 347.2,1035.9 347.4,1035.9 347.7,1035.9 347.9,1036 348.2,1036 348.4,1036 348.7,1036 348.9,1036 349.2,1036 349.4,1036 349.7,1036 349.9,1036 350.2,1036 350.4,1036 350.7,1036 350.9,1036 351.2,1036 351.4,1036 351.7,1036 351.9,1036 352.2,1036 352.4,1036 352.7,1036 352.9,1036 353.2,1036 353.4,1036 353.7,1036 353.9,1036 354.2,1036 354.4,1036 354.7,1036.1 354.9,1036.1 355.2,1036.1 355.4,1036.1 355.7,1036.1 355.9,1036.1 356.2,1036.1 356.4,1036.1 356.7,1036.1 356.9,1036.1 357.2,1036.1 357.4,1036.1 357.7,1036.1 357.9,1036.1 358.2,1036.1 358.4,1036.1 358.7,1036.1 358.9,1036.1 359.2,1036.1 359.4,1036.1 359.7,1036.1 359.9,1036.1 360.2,1036.1 360.4,1036.1 360.7,1036.1 360.9,1036.1 361.2,1036.1 361.4,1036.1 361.7,1036.1 361.9,1036.1 362.2,1036.1 362.4,1036.2 362.7,1036.2 362.9,1036.2 363.2,1036.2 363.4,1036.2 363.7,1036.2 363.9,1036.2 364.2,1036.2 364.4,1036.2 364.7,1036.2 364.9,1036.2 365.2,1036.2 365.4,1036.2 365.7,1036.2 365.9,1036.2 366.2,1036.2 366.4,1036.2 366.7,1036.2 366.9,1036.2 367.2,1036.2 367.4,1036.2 367.7,1036.2 367.9,1036.2 368.2,1036.2 368.4,1036.2 368.7,1036.2 368.9,1036.2 369.2,1036.2 369.4,1036.2 369.7,1036.2 369.9,1036.2 370.2,1036.2 370.4,1036.2 370.7,1036.2 370.9,1036.2 371.2,1036.2 371.4,1036.3 371.7,1036.3 371.9,1036.3 372.2,1036.3 372.4,1036.3 372.7,1036.3 372.9,1036.3 373.2,1036.3 373.4,1036.3 373.7,1036.3 373.9,1036.3 374.2,1036.3 374.4,1036.3 374.7,1036.3 374.9,1036.3 375.2,1036.3 375.4,1036.3 375.7,1036.3 375.9,1036.3 376.2,1036.3 376.4,1036.3 376.7,1036.3 376.9,1036.3 377.2,1036.3 377.4,1036.3 377.7,1036.3 377.9,1036.3 378.2,1036.3 378.4,1036.3 378.7,1036.3 378.9,1036.3 379.2,1036.3 379.4,1036.3 379.7,1036.3 379.9,1036.3 380.2,1036.3 380.4,1036.3 380.7,1036.3 380.9,1036.3 381.2,1036.3 381.4,1036.3 381.7,1036.3 381.9,1036.3 382.2,1036.3 382.4,1036.3 382.7,1036.3 382.9,1036.3 383.2,1036.3 383.4,1036.3 383.7,1036.3 383.9,1036.3 384.2,1036.3 384.4,1036.4 384.7,1036.4 384.9,1036.4 385.2,1036.4 385.4,1036.4 385.7,1036.4 385.9,1036.4 386.2,1036.4 386.4,1036.4 386.7,1036.4 386.9,1036.4 387.2,1036.4 387.4,1036.4 387.7,1036.4 387.9,1036.4 388.2,1036.4 388.4,1036.4 388.7,1036.4 388.9,1036.4 389.2,1036.4 389.4,1036.4 389.7,1036.4 389.9,1036.4 390.2,1036.4 390.4,1036.4 390.7,1036.4 390.9,1036.4 391.2,1036.4 391.4,1036.4 391.7,1036.4 391.9,1036.4 392.2,1036.4 392.4,1036.4 392.7,1036.4 392.9,1036.4 393.2,1036.4 393.4,1036.4 393.7,1036.4 393.9,1036.4 394.2,1036.4 394.4,1036.4 394.7,1036.4 394.9,1036.4 395.2,1036.4 395.4,1036.4 395.7,1036.4 395.9,1036.4 396.2,1036.4 396.4,1036.4 396.7,1036.4 396.9,1036.4 397.2,1036.4 397.4,1036.4 397.7,1036.4 397.9,1036.4 398.2,1036.4 398.4,1036.4 398.7,1036.4 398.9,1036.4 399.2,1036.4 399.4,1036.4 399.7,1036.4 399.9,1036.4 400.2,1036.4 400.4,1036.4 400.7,1036.4 400.9,1036.4 401.2,1036.4 401.4,1036.4" fill="none" stroke="#18a8e2" stroke-width="4.6" stroke-linejoin="round" stroke-linecap="butt"/>
<path d="M79.7,953 80,999.6 80.2,1007.9 80.5,1010.9 80.7,1012.7 81,1014.2 81.2,1015.4 81.5,1016.4 81.7,1017.2 82,1017.9 82.2,1018.5 82.5,1019 82.7,1019.6 83,1020.2 83.2,1020.9 83.5,1021.5 83.7,1022.1 84,1022.7 84.2,1023.3 84.5,1023.8 84.7,1024.2 85,1024.6 85.2,1025 85.5,1025.3 85.7,1025.5 86,1025.7 86.2,1026 86.5,1026.2 86.7,1026.4 87,1026.6 87.2,1026.8 87.5,1027 87.7,1027.1 88,1027.3 88.2,1027.4 88.5,1027.6 88.7,1027.7 89,1027.8 89.2,1028 89.5,1028.1 89.7,1028.2 90,1028.3 90.2,1028.4 90.5,1028.5 90.7,1028.6 91,1028.7 91.2,1028.9 91.5,1029 91.7,1029.1 92,1029.2 92.2,1029.3 92.5,1029.4 92.7,1029.5 93,1029.6 93.2,1029.6 93.5,1029.7 93.7,1029.8 94,1029.9 94.2,1030 94.5,1030.1 94.7,1030.2 95,1030.2 95.2,1030.3 95.5,1030.4 95.7,1030.5 96,1030.5 96.2,1030.6 96.5,1030.7 96.7,1030.7 97,1030.8 97.2,1030.9 97.5,1030.9 97.7,1031 98,1031 98.2,1031.1 98.5,1031.1 98.7,1031.1 99,1031.2 99.2,1031.2 99.5,1031.2 99.7,1031.3 100,1031.3 100.2,1031.3 100.5,1031.4 100.7,1031.4 101,1031.4 101.2,1031.5 101.5,1031.5 101.7,1031.5 102,1031.5 102.2,1031.6 102.5,1031.6 102.7,1031.6 103,1031.6 103.2,1031.7 103.5,1031.7 103.7,1031.7 104,1031.7 104.2,1031.8 104.5,1031.8 104.7,1031.8 105,1031.8 105.2,1031.9 105.5,1031.9 105.7,1031.9 106,1031.9 106.2,1031.9 106.5,1032 106.7,1032 107,1032 107.2,1032 107.5,1032 107.7,1032.1 108,1032.1 108.2,1032.1 108.5,1032.1 108.7,1032.1 109,1032.1 109.2,1032.2 109.5,1032.2 109.7,1032.2 110,1032.2 110.2,1032.2 110.5,1032.2 110.7,1032.2 111,1032.3 111.2,1032.3 111.5,1032.3 111.7,1032.3 112,1032.3 112.2,1032.3 112.5,1032.3 112.7,1032.4 113,1032.4 113.2,1032.4 113.5,1032.4 113.7,1032.4 114,1032.4 114.2,1032.4 114.5,1032.4 114.7,1032.4 115,1032.5 115.2,1032.5 115.5,1032.5 115.7,1032.5 116,1032.5 116.2,1032.5 116.5,1032.5 116.7,1032.5 117,1032.5 117.2,1032.5 117.5,1032.6 117.7,1032.6 118,1032.6 118.2,1032.6 118.5,1032.6 118.7,1032.6 119,1032.6 119.2,1032.6 119.5,1032.6 119.7,1032.6 120,1032.6 120.2,1032.6 120.5,1032.7 120.7,1032.7 121,1032.7 121.2,1032.7 121.5,1032.7 121.7,1032.7 122,1032.7 122.2,1032.7 122.5,1032.7 122.7,1032.7 123,1032.7 123.2,1032.7 123.5,1032.8 123.7,1032.8 124,1032.8 124.2,1032.8 124.5,1032.8 124.7,1032.8 125,1032.8 125.2,1032.8 125.5,1032.8 125.7,1032.8 126,1032.8 126.2,1032.8 126.5,1032.8 126.7,1032.8 127,1032.8 127.2,1032.8 127.5,1032.9 127.7,1032.9 128,1032.9 128.2,1032.9 128.4,1032.9 128.7,1032.9 128.9,1032.9 129.2,1032.9 129.4,1032.9 129.7,1032.9 129.9,1032.9 130.2,1032.9 130.4,1032.9 130.7,1032.9 130.9,1032.9 131.2,1032.9 131.4,1032.9 131.7,1032.9 131.9,1032.9 132.2,1032.9 132.4,1032.3 132.7,1029.2 132.9,1024.7 133.2,1020 133.4,1014 133.7,1007.8 133.9,1005.6 134.2,1005.9 134.4,1006.5 134.7,1007.3 134.9,1008.1 135.2,1008.8 135.4,1009.3 135.7,1009.9 135.9,1010.4 136.2,1010.9 136.4,1011.3 136.7,1011.8 136.9,1012.2 137.2,1012.6 137.4,1013 137.7,1013.4 137.9,1013.8 138.2,1014.2 138.4,1014.6 138.7,1015 138.9,1015.3 139.2,1015.7 139.4,1016 139.7,1016.3 139.9,1016.6 140.2,1016.9 140.4,1017.2 140.7,1017.5 140.9,1017.8 141.2,1018.1 141.4,1018.4 141.7,1018.7 141.9,1019 142.2,1019.3 142.4,1019.5 142.7,1019.8 142.9,1020.1 143.2,1020.3 143.4,1020.5 143.7,1020.8 143.9,1021 144.2,1021.2 144.4,1021.4 144.7,1021.5 144.9,1021.7 145.2,1021.9 145.4,1022 145.7,1022.1 145.9,1022.3 146.2,1022.4 146.4,1022.5 146.7,1022.7 146.9,1022.8 147.2,1022.9 147.4,1023 147.7,1023.2 147.9,1023.3 148.2,1023.4 148.4,1023.5 148.7,1023.6 148.9,1023.7 149.2,1023.8 149.4,1023.9 149.7,1024 149.9,1024.1 150.2,1024.2 150.4,1024.2 150.7,1024.3 150.9,1024.4 151.2,1024.5 151.4,1024.6 151.7,1024.7 151.9,1024.7 152.2,1024.8 152.4,1024.9 152.7,1025 152.9,1025 153.2,1025.1 153.4,1025.2 153.7,1025.2 153.9,1025.3 154.2,1025.4 154.4,1025.4 154.7,1025.5 154.9,1025.6 155.2,1025.6 155.4,1025.7 155.7,1025.7 155.9,1025.8 156.2,1025.9 156.4,1025.9 156.7,1026 156.9,1026 157.2,1026.1 157.4,1026.2 157.7,1026.2 157.9,1026.3 158.2,1026.3 158.4,1026.4 158.7,1026.4 158.9,1026.5 159.2,1026.5 159.4,1026.6 159.7,1026.6 159.9,1026.7 160.2,1026.7 160.4,1026.8 160.7,1026.8 160.9,1026.9 161.2,1026.9 161.4,1027 161.7,1027 161.9,1027.1 162.2,1027.1 162.4,1027.1 162.7,1027.2 162.9,1027.2 163.2,1027.3 163.4,1027.3 163.7,1027.3 163.9,1027.4 164.2,1027.4 164.4,1027.5 164.7,1027.5 164.9,1027.5 165.2,1027.6 165.4,1027.6 165.7,1027.6 165.9,1027.7 166.2,1027.7 166.4,1027.7 166.7,1027.7 166.9,1027.8 167.2,1027.8 167.4,1027.8 167.7,1027.9 167.9,1027.9 168.2,1027.9 168.4,1027.9 168.7,1028 168.9,1028 169.2,1028 169.4,1028 169.7,1028 169.9,1028.1 170.2,1028.1 170.4,1028.1 170.7,1028.1 170.9,1028.2 171.2,1028.2 171.4,1028.2 171.7,1028.2 171.9,1028.2 172.2,1028.3 172.4,1028.3 172.7,1028.3 172.9,1028.3 173.2,1028.3 173.4,1028.4 173.7,1028.4 173.9,1028.4 174.2,1028.4 174.4,1028.4 174.7,1028.5 174.9,1028.5 175.2,1028.5 175.4,1028.5 175.7,1028.5 175.9,1028.5 176.2,1028.6 176.4,1028.6 176.7,1028.6 176.9,1028.6 177.2,1028.6 177.4,1028.6 177.7,1028.7 177.9,1028.7 178.2,1028.7 178.4,1028.7 178.7,1028.7 178.9,1028.7 179.2,1028.8 179.4,1028.8 179.7,1028.8 179.9,1028.8 180.2,1028.8 180.4,1028.8 180.7,1028.8 180.9,1028.9 181.2,1028.9 181.4,1028.9 181.7,1028.9 181.9,1028.9 182.2,1028.9 182.4,1028.9 182.7,1029 182.9,1029 183.2,1029 183.4,1029 183.7,1029 183.9,1029 184.2,1029 184.4,1029.1 184.7,1029.1 184.9,1029.1 185.2,1029.1 185.4,1029.1 185.7,1029.1 185.9,1029.1 186.2,1029.2 186.4,1029.2 186.7,1029.2 186.9,1029.2 187.2,1029.2 187.4,1029.2 187.7,1029.2 187.9,1029.2 188.2,1029.3 188.4,1029.3 188.7,1029.3 188.9,1029.3 189.2,1029.3 189.4,1029.3 189.7,1029.3 189.9,1029.3 190.2,1029.4 190.4,1029.4 190.7,1029.4 190.9,1029.4 191.2,1029.4 191.4,1029.4 191.7,1029.4 191.9,1029.5 192.2,1029.5 192.4,1029.5 192.7,1029.5 192.9,1029.5 193.2,1029.5 193.4,1029.5 193.7,1029.5 193.9,1029.6 194.2,1029.6 194.4,1029.6 194.7,1029.6 194.9,1029.6 195.2,1029.6 195.4,1029.6 195.7,1029.7 195.9,1029.7 196.2,1029.7 196.4,1029.7 196.7,1029.7 196.9,1029.7 197.2,1029.7 197.4,1029.7 197.7,1029.8 197.9,1029.8 198.2,1029.8 198.4,1029.8 198.7,1029.8 198.9,1029.8 199.2,1029.8 199.4,1029.8 199.7,1029.9 199.9,1029.9 200.2,1029.9 200.4,1029.9 200.7,1029.9 200.9,1029.9 201.2,1029.9 201.4,1029.9 201.7,1030 201.9,1030 202.2,1030 202.4,1030 202.7,1030 202.9,1030 203.2,1030 203.4,1030 203.7,1030.1 203.9,1030.1 204.2,1030.1 204.4,1030.1 204.7,1030.1 204.9,1030.1 205.2,1030.1 205.4,1030.1 205.7,1030.1 205.9,1030.2 206.2,1030.2 206.4,1030.2 206.7,1030.2 206.9,1030.2 207.2,1030.2 207.4,1030.2 207.7,1030.2 207.9,1030.2 208.2,1030.3 208.4,1030.3 208.7,1030.3 208.9,1030.3 209.2,1030.3 209.4,1030.3 209.7,1030.3 209.9,1030.3 210.2,1030.3 210.4,1030.4 210.7,1030.4 210.9,1030.4 211.2,1030.4 211.4,1030.4 211.7,1030.4 211.9,1030.4 212.2,1030.4 212.4,1030.4 212.7,1030.5 212.9,1030.5 213.2,1030.5 213.4,1030.5 213.7,1030.5 213.9,1030.5 214.2,1030.5 214.4,1030.5 214.7,1030.5 214.9,1030.6 215.2,1030.6 215.4,1030.6 215.7,1030.6 215.9,1030.6 216.2,1030.6 216.4,1030.6 216.7,1030.6 216.9,1030.6 217.2,1030.6 217.4,1030.7 217.7,1030.7 217.9,1030.7 218.2,1030.7 218.4,1030.7 218.7,1030.7 218.9,1030.7 219.2,1030.7 219.4,1030.7 219.7,1030.8 219.9,1030.8 220.2,1030.8 220.4,1030.8 220.7,1030.8 220.9,1030.8 221.2,1030.8 221.4,1030.8 221.7,1030.9 221.9,1030.9 222.2,1030.9 222.4,1030.9 222.7,1030.9 222.9,1030.9 223.2,1030.9 223.4,1030.9 223.7,1031 223.9,1031 224.2,1031 224.4,1031 224.7,1031 224.9,1031 225.2,1031 225.4,1031 225.7,1031.1 225.9,1031.1 226.2,1031.1 226.4,1031.1 226.7,1031.1 226.9,1031.1 227.2,1031.1 227.4,1031.2 227.7,1031.2 227.9,1031.2 228.2,1031.2 228.4,1031.2 228.7,1031.2 228.9,1031.2 229.2,1031.2 229.4,1031.2 229.7,1031.3 229.9,1031.3 230.2,1031.3 230.4,1031.3 230.7,1031.3 230.9,1031.3 231.2,1031.3 231.4,1031.3 231.7,1031.3 231.9,1031.4 232.2,1031.4 232.4,1031.4 232.7,1031.4 232.9,1031.4 233.2,1031.4 233.4,1031.4 233.7,1031.4 233.9,1031.4 234.2,1031.4 234.4,1031.4 234.7,1031.4 234.9,1031.5 235.2,1031.5 235.4,1031.5 235.7,1031.5 235.9,1031.5 236.2,1031.5 236.4,1031.5 236.7,1031.5 236.9,1031.5 237.2,1031.5 237.4,1031.5 237.7,1031.5 237.9,1031.5 238.2,1031.5 238.4,1031.5 238.7,1031.5 238.9,1030.9 239.2,1028 239.4,1023.9 239.7,1020 239.9,1015.9 240.2,1011.7 240.4,1009.3 240.7,1009.3 240.9,1009.7 241.2,1010.4 241.4,1011.1 241.7,1011.9 241.9,1012.7 242.2,1013.3 242.4,1013.8 242.7,1014.4 242.9,1014.9 243.2,1015.4 243.4,1015.9 243.7,1016.4 243.9,1016.8 244.2,1017.2 244.4,1017.5 244.7,1017.8 244.9,1018 245.2,1018.3 245.4,1018.5 245.7,1018.7 245.9,1018.8 246.2,1019 246.4,1019.2 246.7,1019.3 246.9,1019.5 247.2,1019.6 247.4,1019.7 247.7,1019.9 247.9,1020 248.2,1020.1 248.4,1020.3 248.7,1020.4 248.9,1020.6 249.2,1020.7 249.4,1020.9 249.7,1021 249.9,1021.2 250.2,1021.3 250.4,1021.5 250.7,1021.7 250.9,1021.8 251.2,1021.9 251.4,1022.1 251.7,1022.2 251.9,1022.3 252.2,1022.4 252.4,1022.6 252.7,1022.7 252.9,1022.8 253.2,1022.9 253.4,1023 253.7,1023.1 253.9,1023.1 254.2,1023.2 254.4,1023.3 254.7,1023.4 254.9,1023.5 255.2,1023.6 255.4,1023.7 255.7,1023.7 255.9,1023.8 256.2,1023.9 256.4,1024 256.7,1024 256.9,1024.1 257.2,1024.2 257.4,1024.3 257.7,1024.3 257.9,1024.4 258.2,1024.5 258.4,1024.6 258.7,1024.6 258.9,1024.7 259.2,1024.8 259.4,1024.9 259.7,1025 259.9,1025 260.2,1025.1 260.4,1025.2 260.7,1025.3 260.9,1025.4 261.2,1025.5 261.4,1025.6 261.7,1025.7 261.9,1025.8 262.2,1025.9 262.4,1026 262.7,1026.1 262.9,1026.2 263.2,1026.3 263.4,1026.4 263.7,1026.5 263.9,1026.6 264.2,1026.7 264.4,1026.8 264.7,1026.9 264.9,1027 265.2,1027.1 265.4,1027.2 265.7,1027.3 265.9,1027.4 266.2,1027.4 266.4,1027.5 266.7,1027.6 266.9,1027.6 267.2,1027.7 267.4,1027.7 267.7,1027.8 267.9,1027.9 268.2,1027.9 268.4,1028 268.7,1028 268.9,1028.1 269.2,1028.1 269.4,1028.2 269.7,1028.2 269.9,1028.3 270.2,1028.3 270.4,1028.3 270.7,1028.4 270.9,1028.4 271.2,1028.5 271.4,1028.5 271.7,1028.6 271.9,1028.6 272.2,1028.7 272.4,1028.7 272.7,1028.7 272.9,1028.8 273.2,1028.8 273.4,1028.8 273.7,1028.9 273.9,1028.9 274.2,1029 274.4,1029 274.7,1029 274.9,1029.1 275.2,1029.1 275.4,1029.1 275.7,1029.2 275.9,1029.2 276.2,1029.2 276.4,1029.3 276.7,1029.3 276.9,1029.3 277.2,1029.4 277.4,1029.4 277.7,1029.4 277.9,1029.4 278.2,1029.5 278.4,1029.5 278.7,1029.5 278.9,1029.5 279.2,1029.6 279.4,1029.6 279.7,1029.6 279.9,1029.7 280.2,1029.7 280.4,1029.7 280.7,1029.7 280.9,1029.7 281.2,1029.8 281.4,1029.8 281.7,1029.8 281.9,1029.8 282.2,1029.9 282.4,1029.9 282.7,1029.9 282.9,1029.9 283.2,1030 283.4,1030 283.7,1030 283.9,1030 284.2,1030 284.4,1030.1 284.7,1030.1 284.9,1030.1 285.2,1030.1 285.4,1030.1 285.7,1030.2 285.9,1030.2 286.2,1030.2 286.4,1030.2 286.7,1030.2 286.9,1030.3 287.2,1030.3 287.4,1030.3 287.7,1030.3 287.9,1030.3 288.2,1030.4 288.4,1030.4 288.7,1030.4 288.9,1030.4 289.2,1030.4 289.4,1030.5 289.7,1030.5 289.9,1030.5 290.2,1030.5 290.4,1030.5 290.7,1030.5 290.9,1030.6 291.2,1030.6 291.4,1030.6 291.7,1030.6 291.9,1030.6 292.2,1030.6 292.4,1030.7 292.7,1030.7 292.9,1030.7 293.2,1030.7 293.4,1030.7 293.7,1030.7 293.9,1030.8 294.2,1030.8 294.4,1030.8 294.7,1030.8 294.9,1030.8 295.2,1030.8 295.4,1030.8 295.7,1030.9 295.9,1030.9 296.2,1030.9 296.4,1030.9 296.7,1030.9 296.9,1030.9 297.2,1030.9 297.4,1031 297.7,1031 297.9,1031 298.2,1031 298.4,1031 298.7,1031 298.9,1031 299.2,1031 299.4,1031 299.7,1031.1 299.9,1031.1 300.2,1031.1 300.4,1031.1 300.7,1031.1 300.9,1031.1 301.2,1031.1 301.4,1031.1 301.7,1031.1 301.9,1031.1 302.2,1031.2 302.4,1031.2 302.7,1031.2 302.9,1031.2 303.2,1031.2 303.4,1031.2 303.7,1031.2 303.9,1031.2 304.2,1031.2 304.4,1031.2 304.7,1031.2 304.9,1031.2 305.2,1031.2 305.4,1031.3 305.7,1031.3 305.9,1031.3 306.2,1031.3 306.4,1031.3 306.7,1031.3 306.9,1031.3 307.2,1031.3 307.4,1031.3 307.7,1031.3 307.9,1031.3 308.2,1031.3 308.4,1031.3 308.7,1031.3 308.9,1031.3 309.2,1031.4 309.4,1031.4 309.7,1031.4 309.9,1031.4 310.2,1031.4 310.4,1031.4 310.7,1031.4 310.9,1031.4 311.2,1031.4 311.4,1031.4 311.7,1031.4 311.9,1031.4 312.2,1031.4 312.4,1031.4 312.7,1031.4 312.9,1031.4 313.2,1031.4 313.4,1031.5 313.7,1031.5 313.9,1031.5 314.2,1031.5 314.4,1031.5 314.7,1031.5 314.9,1031.5 315.2,1031.5 315.4,1031.5 315.7,1031.5 315.9,1031.5 316.2,1031.5 316.4,1031.5 316.7,1031.5 316.9,1031.5 317.2,1031.5 317.4,1031.5 317.7,1031.5 317.9,1031.5 318.2,1031.6 318.4,1031.6 318.7,1031.6 318.9,1031.6 319.2,1031.6 319.4,1031.6 319.7,1031.6 319.9,1031.6 320.2,1031.6 320.4,1031.6 320.7,1031.6 320.9,1031.6 321.2,1031.6 321.4,1031.6 321.7,1031.6 321.9,1031.6 322.2,1031.6 322.4,1031.6 322.7,1031.6 322.9,1031.6 323.2,1031.6 323.4,1031.6 323.7,1031.6 323.9,1031.7 324.2,1031.7 324.4,1031.7 324.7,1031.7 324.9,1031.7 325.2,1031.7 325.4,1031.7 325.7,1031.7 325.9,1031.7 326.2,1031.7 326.4,1031.7 326.7,1031.7 326.9,1031.7 327.2,1031.7 327.4,1031.7 327.7,1031.7 327.9,1031.7 328.2,1031.7 328.4,1031.7 328.7,1031.7 328.9,1031.7 329.2,1031.7 329.4,1031.7 329.7,1031.7 329.9,1031.7 330.2,1031.8 330.4,1031.8 330.7,1031.8 330.9,1031.8 331.2,1031.8 331.4,1031.8 331.7,1031.8 331.9,1031.8 332.2,1031.8 332.4,1031.8 332.7,1031.8 332.9,1031.8 333.2,1031.8 333.4,1031.8 333.7,1031.8 333.9,1031.8 334.2,1031.8 334.4,1031.8 334.7,1031.8 334.9,1031.8 335.2,1031.8 335.4,1031.8 335.7,1031.8 335.9,1031.8 336.2,1031.8 336.4,1031.8 336.7,1031.8 336.9,1031.8 337.2,1031.8 337.4,1031.9 337.7,1031.9 337.9,1031.9 338.2,1031.9 338.4,1031.9 338.7,1031.9 338.9,1031.9 339.2,1031.9 339.4,1031.9 339.7,1031.9 339.9,1031.9 340.2,1031.9 340.4,1031.9 340.7,1031.9 340.9,1031.9 341.2,1031.9 341.4,1031.9 341.7,1031.9 341.9,1031.9 342.2,1031.9 342.4,1031.9 342.7,1031.9 342.9,1031.9 343.2,1031.9 343.4,1031.9 343.7,1031.9 343.9,1031.9 344.2,1031.9 344.4,1032 344.7,1032 344.9,1032 345.2,1032 345.4,1032 345.7,1032 345.9,1032 346.2,1032 346.4,1032 346.7,1032 346.9,1032 347.2,1032 347.4,1032 347.7,1032 347.9,1032 348.2,1032 348.4,1032 348.7,1032 348.9,1032 349.2,1032 349.4,1032 349.7,1032 349.9,1032 350.2,1032 350.4,1032 350.7,1032 350.9,1032 351.2,1032.1 351.4,1032.1 351.7,1032.1 351.9,1032.1 352.2,1032.1 352.4,1032.1 352.7,1032.1 352.9,1032.1 353.2,1032.1 353.4,1032.1 353.7,1032.1 353.9,1032.1 354.2,1032.1 354.4,1032.1 354.7,1032.1 354.9,1032.1 355.2,1032.1 355.4,1032.1 355.7,1032.1 355.9,1032.1 356.2,1032.1 356.4,1032.1 356.7,1032.1 356.9,1032.1 357.2,1032.1 357.4,1032.1 357.7,1032.1 357.9,1032.2 358.2,1032.2 358.4,1032.2 358.7,1032.2 358.9,1032.2 359.2,1032.2 359.4,1032.2 359.7,1032.2 359.9,1032.2 360.2,1032.2 360.4,1032.2 360.7,1032.2 360.9,1032.2 361.2,1032.2 361.4,1032.2 361.7,1032.2 361.9,1032.2 362.2,1032.2 362.4,1032.2 362.7,1032.2 362.9,1032.2 363.2,1032.2 363.4,1032.2 363.7,1032.2 363.9,1032.2 364.2,1032.2 364.4,1032.2 364.7,1032.2 364.9,1032.3 365.2,1032.3 365.4,1032.3 365.7,1032.3 365.9,1032.3 366.2,1032.3 366.4,1032.3 366.7,1032.3 366.9,1032.3 367.2,1032.3 367.4,1032.3 367.7,1032.3 367.9,1032.3 368.2,1032.3 368.4,1032.3 368.7,1032.3 368.9,1032.3 369.2,1032.3 369.4,1032.3 369.7,1032.3 369.9,1032.3 370.2,1032.3 370.4,1032.3 370.7,1032.3 370.9,1032.3 371.2,1032.3 371.4,1032.3 371.7,1032.3 371.9,1032.3 372.2,1032.4 372.4,1032.4 372.7,1032.4 372.9,1032.4 373.2,1032.4 373.4,1032.4 373.7,1032.4 373.9,1032.4 374.2,1032.4 374.4,1032.4 374.7,1032.4 374.9,1032.4 375.2,1032.4 375.4,1032.4 375.7,1032.4 375.9,1032.4 376.2,1032.4 376.4,1032.4 376.7,1032.4 376.9,1032.4 377.2,1032.4 377.4,1032.4 377.7,1032.4 377.9,1032.4 378.2,1032.4 378.4,1032.4 378.7,1032.4 378.9,1032.4 379.2,1032.4 379.4,1032.4 379.7,1032.5 379.9,1032.5 380.2,1032.5 380.4,1032.5 380.7,1032.5 380.9,1032.5 381.2,1032.5 381.4,1032.5 381.7,1032.5 381.9,1032.5 382.2,1032.5 382.4,1032.5 382.7,1032.5 382.9,1032.5 383.2,1032.5 383.4,1032.5 383.7,1032.5 383.9,1032.5 384.2,1032.5 384.4,1032.5 384.7,1032.5 384.9,1032.5 385.2,1032.5 385.4,1032.5 385.7,1032.5 385.9,1032.5 386.2,1032.5 386.4,1032.5 386.7,1032.5 386.9,1032.5 387.2,1032.5 387.4,1032.5 387.7,1032.5 387.9,1032.6 388.2,1032.6 388.4,1032.6 388.7,1032.6 388.9,1032.6 389.2,1032.6 389.4,1032.6 389.7,1032.6 389.9,1032.6 390.2,1032.6 390.4,1032.6 390.7,1032.6 390.9,1032.6 391.2,1032.6 391.4,1032.6 391.7,1032.6 391.9,1032.6 392.2,1032.6 392.4,1032.6 392.7,1032.6 392.9,1032.6 393.2,1032.6 393.4,1032.6 393.7,1032.6 393.9,1032.6 394.2,1032.6 394.4,1032.6 394.7,1032.6 394.9,1032.6 395.2,1032.6 395.4,1032.6 395.7,1032.6 395.9,1032.6 396.2,1032.6 396.4,1032.6 396.7,1032.7 396.9,1032.7 397.2,1032.7 397.4,1032.7 397.7,1032.7 397.9,1032.7 398.2,1032.7 398.4,1032.7 398.7,1032.7 398.9,1032.7 399.2,1032.7 399.4,1032.7 399.7,1032.7 399.9,1032.7 400.2,1032.7 400.4,1032.7 400.7,1032.7 400.9,1032.7 401.2,1032.7 401.4,1032.7" fill="none" stroke="#cc3f5c" stroke-width="4.7" stroke-linejoin="round" stroke-linecap="butt"/>
<line x1="80.4" y1="786.1" x2="80.4" y2="920" stroke="#5a62b2" stroke-width="1.6"/>
<line x1="80.4" y1="918" x2="80.4" y2="937" stroke="#5a62b2" stroke-width="2.6"/>
<line x1="80.4" y1="935" x2="80.4" y2="956" stroke="#5a62b2" stroke-width="3.7"/>
<path d="M80.5,953 80.8,991.9 81,998.5 81.2,1001.9 81.5,1003.6 81.8,1004.9 82,1006 82.2,1006.8 82.5,1007.4 82.8,1007.9 83,1008.3 83.2,1008.7 83.5,1009 83.8,1009.3 84,1009.6 84.2,1009.7 84.5,1009.9 84.8,1009.9 85,1010 85.2,1010.1 85.5,1010.1 85.8,1010.2 86,1010.3 86.2,1010.3 86.5,1010.4 86.8,1010.4 87,1010.5 87.2,1010.5 87.5,1010.6 87.8,1010.6 88,1010.7 88.2,1010.7 88.5,1010.7 88.8,1010.8 89,1010.8 89.2,1010.9 89.5,1010.9 89.8,1010.9 90,1011 90.2,1011 90.5,1011 90.8,1011.1 91,1011.1 91.2,1011.1 91.5,1011.1 91.8,1011.2 92,1011.2 92.2,1011.2 92.5,1011.2 92.8,1011.3 93,1011.3 93.2,1011.3 93.5,1011.3 93.8,1011.3 94,1011.4 94.2,1011.4 94.5,1011.4 94.8,1011.4 95,1011.4 95.2,1011.4 95.5,1011.5 95.8,1011.5 96,1011.5 96.2,1011.5 96.5,1011.5 96.8,1011.5 97,1011.6 97.2,1011.6 97.5,1011.6 97.8,1011.6 98,1011.6 98.2,1011.7 98.5,1011.7 98.8,1011.7 99,1011.7 99.2,1011.7 99.5,1011.8 99.8,1011.8 100,1011.8 100.2,1011.8 100.5,1011.8 100.8,1011.9 101,1011.9 101.2,1011.9 101.5,1011.9 101.8,1012 102,1012 102.2,1012 102.5,1012 102.8,1012 103,1012.1 103.2,1012.1 103.5,1012.1 103.8,1012.1 104,1012.1 104.2,1012.2 104.5,1012.2 104.8,1012.2 105,1012.2 105.2,1012.3 105.5,1012.3 105.8,1012.3 106,1012.3 106.2,1012.3 106.5,1012.3 106.8,1012.4 107,1012.4 107.2,1012.4 107.5,1012.4 107.8,1012.4 108,1012.5 108.2,1012.5 108.5,1012.5 108.8,1012.5 109,1012.5 109.2,1012.5 109.5,1012.6 109.8,1012.6 110,1012.6 110.2,1012.6 110.5,1012.6 110.8,1012.6 111,1012.7 111.2,1012.7 111.5,1012.7 111.8,1012.7 112,1012.7 112.2,1012.7 112.5,1012.8 112.8,1012.8 113,1012.8 113.2,1012.8 113.5,1012.8 113.8,1012.8 114,1012.8 114.2,1012.9 114.5,1012.9 114.8,1012.9 115,1012.9 115.2,1012.9 115.5,1012.9 115.8,1012.9 116,1013 116.2,1013 116.5,1013 116.8,1013 117,1013 117.2,1013 117.5,1013 117.8,1013 118,1013.1 118.2,1013.1 118.5,1013.1 118.8,1013.1 119,1013.1 119.2,1013.1 119.5,1013.1 119.8,1013.2 120,1013.2 120.2,1013.2 120.5,1013.2 120.8,1013.2 121,1013.2 121.2,1013.2 121.5,1013.3 121.8,1013.3 122,1013.3 122.2,1013.3 122.5,1013.3 122.8,1013.3 123,1013.3 123.2,1013.3 123.5,1013.4 123.8,1013.4 124,1013.4 124.2,1013.4 124.5,1013.4 124.8,1013.4 125,1013.4 125.2,1013.4 125.5,1013.4 125.8,1013.5 126,1013.5 126.2,1013.5 126.5,1013.5 126.8,1013.5 127,1013.5 127.2,1013.5 127.5,1013.5 127.8,1013.5 128,1013.5 128.2,1013.5 128.5,1013.5 128.8,1013.6 129,1013.6 129.2,1013.6 129.5,1013.6 129.8,1013.6 130,1013.6 130.2,1013.6 130.5,1013.6 130.8,1013.6 131,1013.6 131.2,1013.6 131.5,1013.6 131.8,1013.6 132,1013.6 132.2,1013.6 132.5,1012.2 132.8,1007.7 133,1002.1 133.2,996.4 133.5,988.9 133.8,982.1 134,979.2 134.2,980 134.5,981.9 134.8,984.2 135,986 135.2,987.3 135.5,988.4 135.8,989.5 136,990.5 136.2,991.5 136.5,992.4 136.8,993.3 137,994.1 137.2,994.9 137.5,995.7 137.8,996.5 138,997.2 138.2,997.8 138.5,998.4 138.8,998.9 139,999.5 139.2,1000 139.5,1000.5 139.8,1001 140,1001.5 140.2,1002 140.5,1002.4 140.8,1002.9 141,1003.3 141.2,1003.7 141.5,1004.1 141.8,1004.5 142,1004.9 142.2,1005.2 142.5,1005.5 142.8,1005.8 143,1006.1 143.2,1006.4 143.5,1006.6 143.8,1006.8 144,1007 144.2,1007.2 144.5,1007.5 144.8,1007.7 145,1007.8 145.2,1008 145.5,1008.2 145.8,1008.4 146,1008.6 146.2,1008.7 146.5,1008.9 146.8,1009 147,1009.2 147.2,1009.3 147.5,1009.5 147.8,1009.6 148,1009.7 148.2,1009.9 148.5,1010 148.8,1010.1 149,1010.2 149.2,1010.3 149.5,1010.4 149.8,1010.5 150,1010.6 150.2,1010.7 150.5,1010.8 150.8,1010.9 151,1011 151.2,1011.1 151.5,1011.2 151.8,1011.2 152,1011.3 152.2,1011.4 152.5,1011.5 152.8,1011.6 153,1011.7 153.2,1011.7 153.5,1011.8 153.8,1011.9 154,1012 154.2,1012 154.5,1012.1 154.8,1012.2 155,1012.2 155.2,1012.3 155.5,1012.4 155.8,1012.4 156,1012.5 156.2,1012.5 156.5,1012.6 156.8,1012.7 157,1012.7 157.2,1012.8 157.5,1012.8 157.8,1012.9 158,1012.9 158.2,1013 158.5,1013 158.8,1013 159,1013.1 159.2,1013.1 159.5,1013.2 159.8,1013.2 160,1013.2 160.2,1013.3 160.5,1013.3 160.8,1013.3 161,1013.4 161.2,1013.4 161.5,1013.4 161.8,1013.5 162,1013.5 162.2,1013.5 162.5,1013.6 162.8,1013.6 163,1013.6 163.2,1013.7 163.5,1013.7 163.8,1013.7 164,1013.7 164.2,1013.8 164.5,1013.8 164.8,1013.8 165,1013.8 165.2,1013.9 165.5,1013.9 165.8,1013.9 166,1014 166.2,1014 166.5,1014 166.8,1014 167,1014 167.2,1014.1 167.5,1014.1 167.8,1014.1 168,1014.1 168.2,1014.2 168.5,1014.2 168.8,1014.2 169,1014.2 169.2,1014.2 169.5,1014.3 169.8,1014.3 170,1014.3 170.2,1014.3 170.5,1014.3 170.8,1014.4 171,1014.4 171.2,1014.4 171.5,1014.4 171.8,1014.4 172,1014.4 172.2,1014.4 172.5,1014.5 172.8,1014.5 173,1014.5 173.2,1014.5 173.5,1014.5 173.8,1014.5 174,1014.5 174.2,1014.5 174.5,1014.6 174.8,1014.6 175,1014.6 175.2,1014.6 175.5,1014.6 175.8,1014.6 176,1014.6 176.2,1014.6 176.5,1014.6 176.8,1014.6 177,1014.6 177.2,1014.6 177.5,1014.6 177.8,1014.7 178,1014.7 178.2,1014.7 178.5,1014.7 178.8,1014.7 179,1014.7 179.2,1014.7 179.5,1014.7 179.8,1014.7 180,1014.7 180.2,1014.7 180.5,1014.7 180.8,1014.7 181,1014.7 181.2,1014.7 181.5,1014.7 181.8,1014.7 182,1014.7 182.2,1014.7 182.5,1014.7 182.8,1014.8 183,1014.8 183.2,1014.8 183.5,1014.8 183.8,1014.8 184,1014.8 184.2,1014.8 184.5,1014.8 184.8,1014.8 185,1014.8 185.2,1014.8 185.5,1014.8 185.8,1014.8 186,1014.8 186.2,1014.8 186.5,1014.8 186.8,1014.8 187,1014.8 187.2,1014.8 187.5,1014.8 187.8,1014.8 188,1014.8 188.2,1014.8 188.5,1014.8 188.8,1014.8 189,1014.8 189.2,1014.8 189.5,1014.9 189.8,1014.9 190,1014.9 190.2,1014.9 190.5,1014.9 190.8,1014.9 191,1014.9 191.2,1014.9 191.5,1014.9 191.8,1014.9 192,1014.9 192.2,1014.9 192.5,1014.9 192.8,1014.9 193,1014.9 193.2,1014.9 193.5,1014.9 193.8,1014.9 194,1014.9 194.2,1014.9 194.5,1014.9 194.8,1014.9 195,1014.9 195.2,1014.9 195.5,1014.9 195.8,1014.9 196,1014.9 196.2,1014.9 196.5,1014.9 196.8,1014.9 197,1014.9 197.2,1014.9 197.5,1014.9 197.8,1014.9 198,1015 198.2,1015 198.5,1015 198.8,1015 199,1015 199.2,1015 199.5,1015 199.8,1015 200,1015 200.2,1015 200.5,1015 200.8,1015 201,1015 201.2,1015 201.5,1015 201.8,1015 202,1015 202.2,1015 202.5,1015 202.8,1015 203,1015 203.2,1015 203.5,1015 203.8,1015 204,1015 204.2,1015.1 204.5,1015.1 204.8,1015.1 205,1015.1 205.2,1015.1 205.5,1015.1 205.8,1015.1 206,1015.1 206.2,1015.1 206.5,1015.1 206.8,1015.1 207,1015.1 207.2,1015.1 207.5,1015.1 207.8,1015.1 208,1015.1 208.2,1015.1 208.5,1015.1 208.8,1015.1 209,1015.1 209.2,1015.1 209.5,1015.2 209.8,1015.2 210,1015.2 210.2,1015.2 210.5,1015.2 210.8,1015.2 211,1015.2 211.2,1015.2 211.5,1015.2 211.8,1015.2 212,1015.2 212.2,1015.2 212.5,1015.2 212.8,1015.2 213,1015.2 213.2,1015.2 213.5,1015.2 213.8,1015.2 214,1015.2 214.2,1015.3 214.5,1015.3 214.8,1015.3 215,1015.3 215.2,1015.3 215.5,1015.3 215.8,1015.3 216,1015.3 216.2,1015.3 216.5,1015.3 216.8,1015.3 217,1015.3 217.2,1015.3 217.5,1015.3 217.8,1015.3 218,1015.3 218.2,1015.3 218.5,1015.3 218.8,1015.3 219,1015.4 219.2,1015.4 219.5,1015.4 219.8,1015.4 220,1015.4 220.2,1015.4 220.5,1015.4 220.8,1015.4 221,1015.4 221.2,1015.4 221.5,1015.4 221.8,1015.4 222,1015.4 222.2,1015.4 222.5,1015.4 222.8,1015.4 223,1015.4 223.2,1015.4 223.5,1015.4 223.8,1015.4 224,1015.4 224.2,1015.5 224.5,1015.5 224.8,1015.5 225,1015.5 225.2,1015.5 225.5,1015.5 225.8,1015.5 226,1015.5 226.2,1015.5 226.5,1015.5 226.8,1015.5 227,1015.5 227.2,1015.5 227.5,1015.5 227.8,1015.5 228,1015.5 228.2,1015.5 228.5,1015.5 228.8,1015.5 229,1015.5 229.2,1015.5 229.5,1015.5 229.8,1015.5 230,1015.5 230.2,1015.5 230.5,1015.5 230.8,1015.6 231,1015.6 231.2,1015.6 231.5,1015.6 231.8,1015.6 232,1015.6 232.2,1015.6 232.5,1015.6 232.8,1015.6 233,1015.6 233.2,1015.6 233.5,1015.6 233.8,1015.6 234,1015.6 234.2,1015.6 234.5,1015.6 234.8,1015.6 235,1015.6 235.2,1015.6 235.5,1015.6 235.8,1015.6 236,1015.6 236.2,1015.6 236.5,1015.6 236.8,1015.6 237,1015.6 237.2,1015.6 237.5,1015.6 237.8,1015.6 238,1015.6 238.2,1015.6 238.5,1015.6 238.8,1015.6 239,1014.3 239.2,1010.1 239.5,1004.5 239.8,998.9 240,991.4 240.2,983.3 240.5,978 240.8,977.8 241,979.7 241.2,982.4 241.5,985.1 241.8,987.1 242,988.9 242.2,990.7 242.5,992.3 242.8,994 243,995.8 243.2,997.6 243.5,999.3 243.8,1000.7 244,1001.8 244.2,1002.6 244.5,1003.3 244.8,1003.9 245,1004.4 245.2,1004.9 245.5,1005.3 245.8,1005.6 246,1005.9 246.2,1006.1 246.5,1006.4 246.8,1006.6 247,1006.9 247.2,1007.1 247.5,1007.2 247.8,1007.4 248,1007.6 248.2,1007.7 248.5,1007.9 248.8,1008 249,1008.2 249.2,1008.3 249.5,1008.4 249.8,1008.5 250,1008.6 250.2,1008.6 250.5,1008.7 250.8,1008.8 251,1008.9 251.2,1009 251.5,1009 251.8,1009.1 252,1009.2 252.2,1009.3 252.5,1009.4 252.8,1009.5 253,1009.7 253.2,1009.8 253.5,1009.9 253.8,1010.1 254,1010.3 254.2,1010.4 254.5,1010.6 254.8,1010.8 255,1011 255.2,1011.1 255.5,1011.3 255.8,1011.5 256,1011.6 256.2,1011.8 256.5,1011.9 256.8,1012 257,1012.1 257.2,1012.3 257.5,1012.4 257.8,1012.5 258,1012.6 258.2,1012.7 258.5,1012.8 258.8,1012.9 259,1013 259.2,1013.1 259.5,1013.2 259.8,1013.3 260,1013.4 260.2,1013.5 260.5,1013.6 260.8,1013.7 261,1013.8 261.2,1013.9 261.5,1014 261.8,1014.1 262,1014.2 262.2,1014.4 262.5,1014.5 262.8,1014.6 263,1014.7 263.2,1014.8 263.5,1015 263.8,1015.1 264,1015.2 264.2,1015.3 264.5,1015.4 264.8,1015.5 265,1015.6 265.2,1015.8 265.5,1015.9 265.8,1015.9 266,1016 266.2,1016.1 266.5,1016.2 266.8,1016.3 267,1016.4 267.2,1016.4 267.5,1016.5 267.8,1016.6 268,1016.6 268.2,1016.7 268.5,1016.8 268.8,1016.8 269,1016.9 269.2,1016.9 269.5,1017 269.8,1017.1 270,1017.1 270.2,1017.2 270.5,1017.2 270.8,1017.3 271,1017.3 271.2,1017.4 271.5,1017.4 271.8,1017.5 272,1017.5 272.2,1017.6 272.5,1017.6 272.8,1017.6 273,1017.7 273.2,1017.7 273.5,1017.8 273.8,1017.8 274,1017.9 274.2,1017.9 274.5,1017.9 274.8,1018 275,1018 275.2,1018 275.5,1018.1 275.8,1018.1 276,1018.1 276.2,1018.2 276.5,1018.2 276.8,1018.3 277,1018.3 277.2,1018.3 277.5,1018.4 277.8,1018.4 278,1018.4 278.2,1018.5 278.5,1018.5 278.8,1018.5 279,1018.6 279.2,1018.6 279.5,1018.6 279.8,1018.6 280,1018.6 280.2,1018.7 280.5,1018.7 280.8,1018.7 281,1018.7 281.2,1018.7 281.5,1018.7 281.8,1018.7 282,1018.7 282.2,1018.7 282.5,1018.7 282.8,1018.7 283,1018.7 283.2,1018.7 283.5,1018.7 283.8,1018.7 284,1018.7 284.2,1018.7 284.5,1018.7 284.8,1018.7 285,1018.7 285.2,1018.7 285.5,1018.7 285.8,1018.7 286,1018.7 286.2,1018.7 286.5,1018.7 286.8,1018.7 287,1018.7 287.2,1018.7 287.5,1018.7 287.8,1018.7 288,1018.7 288.2,1018.7 288.5,1018.6 288.8,1018.6 289,1018.6 289.2,1018.6 289.5,1018.6 289.8,1018.6 290,1018.6 290.2,1018.6 290.5,1018.6 290.8,1018.6 291,1018.6 291.2,1018.6 291.5,1018.6 291.8,1018.6 292,1018.6 292.2,1018.6 292.5,1018.6 292.8,1018.6 293,1018.6 293.2,1018.6 293.5,1018.6 293.8,1018.6 294,1018.6 294.2,1018.6 294.5,1018.6 294.8,1018.5 295,1018.5 295.2,1018.5 295.5,1018.5 295.8,1018.5 296,1018.5 296.2,1018.5 296.5,1018.5 296.8,1018.5 297,1018.5 297.2,1018.5 297.5,1018.5 297.8,1018.5 298,1018.5 298.2,1018.5 298.5,1018.5 298.8,1018.5 299,1018.5 299.2,1018.5 299.5,1018.5 299.8,1018.5 300,1018.5 300.2,1018.5 300.5,1018.4 300.8,1018.4 301,1018.4 301.2,1018.4 301.5,1018.4 301.8,1018.4 302,1018.4 302.2,1018.4 302.5,1018.4 302.8,1018.4 303,1018.4 303.2,1018.4 303.5,1018.4 303.8,1018.4 304,1018.4 304.2,1018.4 304.5,1018.4 304.8,1018.4 305,1018.4 305.2,1018.4 305.5,1018.4 305.8,1018.4 306,1018.4 306.2,1018.4 306.5,1018.4 306.8,1018.4 307,1018.4 307.2,1018.3 307.5,1018.3 307.8,1018.3 308,1018.3 308.2,1018.3 308.5,1018.3 308.8,1018.3 309,1018.3 309.2,1018.3 309.5,1018.3 309.8,1018.3 310,1018.3 310.2,1018.3 310.5,1018.3 310.8,1018.3 311,1018.3 311.2,1018.3 311.5,1018.3 311.8,1018.3 312,1018.3 312.2,1018.3 312.5,1018.3 312.8,1018.3 313,1018.3 313.2,1018.2 313.5,1018.2 313.8,1018.2 314,1018.2 314.2,1018.2 314.5,1018.2 314.8,1018.2 315,1018.2 315.2,1018.2 315.5,1018.2 315.8,1018.2 316,1018.2 316.2,1018.2 316.5,1018.2 316.8,1018.2 317,1018.2 317.2,1018.2 317.5,1018.2 317.8,1018.2 318,1018.2 318.2,1018.2 318.5,1018.2 318.8,1018.1 319,1018.1 319.2,1018.1 319.5,1018.1 319.8,1018.1 320,1018.1 320.2,1018.1 320.5,1018.1 320.8,1018.1 321,1018.1 321.2,1018.1 321.5,1018.1 321.8,1018.1 322,1018.1 322.2,1018.1 322.5,1018.1 322.8,1018.1 323,1018.1 323.2,1018.1 323.5,1018.1 323.8,1018.1 324,1018.1 324.2,1018 324.5,1018 324.8,1018 325,1018 325.2,1018 325.5,1018 325.8,1018 326,1018 326.2,1018 326.5,1018 326.8,1018 327,1018 327.2,1018 327.5,1018 327.8,1018 328,1018 328.2,1018 328.5,1018 328.8,1018 329,1018 329.2,1018 329.5,1018 329.8,1018 330,1018 330.2,1018 330.5,1017.9 330.8,1017.9 331,1017.9 331.2,1017.9 331.5,1017.9 331.8,1017.9 332,1017.9 332.2,1017.9 332.5,1017.9 332.8,1017.9 333,1017.9 333.2,1017.9 333.5,1017.9 333.8,1017.9 334,1017.9 334.2,1017.9 334.5,1017.9 334.8,1017.9 335,1017.9 335.2,1017.9 335.5,1017.9 335.8,1017.9 336,1017.9 336.2,1017.9 336.5,1017.9 336.8,1017.9 337,1017.9 337.2,1017.9 337.5,1017.9 337.8,1017.9 338,1017.9 338.2,1017.8 338.5,1017.8 338.8,1017.8 339,1017.8 339.2,1017.8 339.5,1017.8 339.8,1017.8 340,1017.8 340.2,1017.8 340.5,1017.8 340.8,1017.8 341,1017.8 341.2,1017.8 341.5,1017.8 341.8,1017.8 342,1017.8 342.2,1017.8 342.5,1017.8 342.8,1017.8 343,1017.8 343.2,1017.8 343.5,1017.8 343.8,1017.8 344,1017.8 344.2,1017.8 344.5,1017.8 344.8,1017.8 345,1017.8 345.2,1017.8 345.5,1017.8 345.8,1017.8 346,1017.8 346.2,1017.8 346.5,1017.8 346.8,1017.8 347,1017.8 347.2,1017.8 347.5,1017.8 347.8,1017.8 348,1017.8 348.2,1017.8 348.5,1017.8 348.8,1017.8 349,1017.8 349.2,1017.8 349.5,1017.8 349.8,1017.8 350,1017.8 350.2,1017.8 350.5,1017.8 350.8,1017.8 351,1017.8 351.2,1017.8 351.5,1017.8 351.8,1017.8 352,1017.8 352.2,1017.8 352.5,1017.8 352.8,1017.8 353,1017.8 353.2,1017.8 353.5,1017.8 353.8,1017.8 354,1017.8 354.2,1017.8 354.5,1017.8 354.8,1017.9 355,1017.9 355.2,1017.9 355.5,1017.9 355.8,1017.9 356,1017.9 356.2,1017.9 356.5,1017.9 356.8,1017.9 357,1017.9 357.2,1017.9 357.5,1017.9 357.8,1017.9 358,1017.9 358.2,1017.9 358.5,1017.9 358.8,1017.9 359,1017.9 359.2,1017.9 359.5,1017.9 359.8,1017.9 360,1017.9 360.2,1017.9 360.5,1017.9 360.8,1018 361,1018 361.2,1018 361.5,1018 361.8,1018 362,1018 362.2,1018 362.5,1018 362.8,1018 363,1018 363.2,1018 363.5,1018 363.8,1018 364,1018 364.2,1018 364.5,1018 364.8,1018 365,1018 365.2,1018 365.5,1018.1 365.8,1018.1 366,1018.1 366.2,1018.1 366.5,1018.1 366.8,1018.1 367,1018.1 367.2,1018.1 367.5,1018.1 367.8,1018.1 368,1018.1 368.2,1018.1 368.5,1018.1 368.8,1018.1 369,1018.1 369.2,1018.1 369.5,1018.1 369.8,1018.2 370,1018.2 370.2,1018.2 370.5,1018.2 370.8,1018.2 371,1018.2 371.2,1018.2 371.5,1018.2 371.8,1018.2 372,1018.2 372.2,1018.2 372.5,1018.2 372.8,1018.2 373,1018.2 373.2,1018.2 373.5,1018.2 373.8,1018.2 374,1018.2 374.2,1018.2 374.5,1018.3 374.8,1018.3 375,1018.3 375.2,1018.3 375.5,1018.3 375.8,1018.3 376,1018.3 376.2,1018.3 376.5,1018.3 376.8,1018.3 377,1018.3 377.2,1018.3 377.5,1018.3 377.8,1018.3 378,1018.3 378.2,1018.3 378.5,1018.3 378.8,1018.3 379,1018.3 379.2,1018.3 379.5,1018.3 379.8,1018.3 380,1018.3 380.2,1018.4 380.5,1018.4 380.8,1018.4 381,1018.4 381.2,1018.4 381.5,1018.4 381.8,1018.4 382,1018.4 382.2,1018.4 382.5,1018.4 382.8,1018.4 383,1018.4 383.2,1018.4 383.5,1018.4 383.8,1018.4 384,1018.4 384.2,1018.4 384.5,1018.4 384.8,1018.4 385,1018.4 385.2,1018.4 385.5,1018.4 385.8,1018.4 386,1018.4 386.2,1018.5 386.5,1018.5 386.8,1018.5 387,1018.5 387.2,1018.5 387.5,1018.5 387.8,1018.5 388,1018.5 388.2,1018.5 388.5,1018.5 388.8,1018.5 389,1018.5 389.2,1018.5 389.5,1018.5 389.8,1018.5 390,1018.5 390.2,1018.5 390.5,1018.5 390.8,1018.5 391,1018.5 391.2,1018.5 391.5,1018.5 391.8,1018.5 392,1018.5 392.2,1018.5 392.5,1018.6 392.8,1018.6 393,1018.6 393.2,1018.6 393.5,1018.6 393.8,1018.6 394,1018.6 394.2,1018.6 394.5,1018.6 394.8,1018.6 395,1018.6 395.2,1018.6 395.5,1018.6 395.8,1018.6 396,1018.6 396.2,1018.6 396.5,1018.6 396.8,1018.6 397,1018.6 397.2,1018.6 397.5,1018.6 397.8,1018.6 398,1018.6 398.2,1018.6 398.5,1018.7 398.8,1018.7 399,1018.7 399.2,1018.7 399.5,1018.7 399.8,1018.7 400,1018.7 400.2,1018.7 400.5,1018.7 400.8,1018.7 401,1018.7 401.2,1018.7 401.4,1018.7" fill="none" stroke="#5a62b2" stroke-width="5.0" stroke-linejoin="round" stroke-linecap="butt"/>
<path d="M80.4,783.5 L82.7,788.3 L78.1,788.3 Z" fill="#5a62b2"/>
<path d="M80.4,824.2 L82.7,829 L78.1,829 Z" fill="#5a62b2"/>
<path d="M80.4,852.8 L82.7,857.6 L78.1,857.6 Z" fill="#5a62b2"/>
<path d="M80.4,875.1 L82.7,879.9 L78.1,879.9 Z" fill="#5a62b2"/>
<path d="M80.4,892.5 L82.7,897.3 L78.1,897.3 Z" fill="#5a62b2"/>
<path d="M80.4,906.2 L82.7,911 L78.1,911 Z" fill="#5a62b2"/>
<path d="M80.4,917.3 L82.7,922.1 L78.1,922.1 Z" fill="#5a62b2"/>
<path d="M80.4,926 L82.7,930.8 L78.1,930.8 Z" fill="#5a62b2"/>
<path d="M80.4,932.7 L82.7,937.5 L78.1,937.5 Z" fill="#5a62b2"/>
<path d="M80.4,938.3 L82.7,943.1 L78.1,943.1 Z" fill="#5a62b2"/>
<path d="M80.4,943.1 L82.7,947.9 L78.1,947.9 Z" fill="#5a62b2"/>
<path d="M80.4,947.1 L82.7,951.9 L78.1,951.9 Z" fill="#5a62b2"/>
<path d="M134,974.8 L136.6,980.2 L131.4,980.2 Z" fill="#5a62b2"/>
<path d="M240.6,973 L243.2,978.4 L238,978.4 Z" fill="#5a62b2"/>
<path d="M401.6,1015.4 L404.2,1020.8 L399,1020.8 Z" fill="#5a62b2"/>
<circle cx="401.6" cy="1032.7" r="2.4" fill="#cc3f5c"/>
<line x1="169.3" y1="930" x2="150.5" y2="955.3" stroke="#000" stroke-width="1.0"/>
<path d="M138.4,971.3 L144.6,951.2 L157.2,959.9Z" fill="#000"/>
<line x1="284.6" y1="954.2" x2="264.5" y2="977.8" stroke="#000" stroke-width="1.0"/>
<path d="M250.5,994.4 L259.8,974.2 L269.5,981.2Z" fill="#000"/>
<text x="165.8" y="915.6" font-size="18.3" textLength="79.5" lengthAdjust="spacingAndGlyphs" stroke="#000" stroke-width="0.4">Add PMS</text>
<text x="274.1" y="945.2" font-size="18.3" textLength="91" lengthAdjust="spacingAndGlyphs" stroke="#000" stroke-width="0.4">Add RNTD</text>
<line x1="289.4" y1="817.5" x2="328.6" y2="817.5" stroke="#18a8e2" stroke-width="1.7"/>
<rect x="306.7" y="815.4" width="4.2" height="4.2" fill="#18a8e2"/>
<line x1="289.4" y1="838.3" x2="328.6" y2="838.3" stroke="#cc3f5c" stroke-width="1.7"/>
<circle cx="308.8" cy="838.3" r="2.3" fill="#cc3f5c"/>
<line x1="289.4" y1="858.7" x2="328.6" y2="858.7" stroke="#5a62b2" stroke-width="1.7"/>
<path d="M308.8,855.7 L311.2,860.7 L306.4,860.7 Z" fill="#5a62b2"/>
<text x="332.1" y="822.8" font-size="16.2" textLength="44.8" lengthAdjust="spacingAndGlyphs" stroke="#000" stroke-width="0.4">-0.2 V</text>
<text x="332.1" y="843.6" font-size="16.2" textLength="44.8" lengthAdjust="spacingAndGlyphs" stroke="#000" stroke-width="0.4">-0.4 V</text>
<text x="332.1" y="864" font-size="16.2" textLength="44.8" lengthAdjust="spacingAndGlyphs" stroke="#000" stroke-width="0.4">-0.8 V</text>
<rect x="74.9" y="774.5" width="331" height="264.2" fill="none" stroke="#000" stroke-width="1.5"/>
<line x1="74.9" y1="1038.7" x2="68.1" y2="1038.7" stroke="#000" stroke-width="1.5"/>
<line x1="74.9" y1="975.7" x2="68.1" y2="975.7" stroke="#000" stroke-width="1.5"/>
<line x1="74.9" y1="912.8" x2="68.1" y2="912.8" stroke="#000" stroke-width="1.5"/>
<line x1="74.9" y1="849.8" x2="68.1" y2="849.8" stroke="#000" stroke-width="1.5"/>
<line x1="74.9" y1="786.8" x2="68.1" y2="786.8" stroke="#000" stroke-width="1.5"/>
<line x1="74.9" y1="1007.2" x2="71.5" y2="1007.2" stroke="#000" stroke-width="1.5"/>
<line x1="74.9" y1="944.2" x2="71.5" y2="944.2" stroke="#000" stroke-width="1.5"/>
<line x1="74.9" y1="881.3" x2="71.5" y2="881.3" stroke="#000" stroke-width="1.5"/>
<line x1="74.9" y1="818.3" x2="71.5" y2="818.3" stroke="#000" stroke-width="1.5"/>
<text x="63.8" y="1044.4" font-size="16.3" text-anchor="end" stroke="#000" stroke-width="0.4">0</text>
<text x="63.8" y="981.4" font-size="16.3" text-anchor="end" stroke="#000" stroke-width="0.4">100</text>
<text x="63.8" y="918.5" font-size="16.3" text-anchor="end" stroke="#000" stroke-width="0.4">200</text>
<text x="63.8" y="855.5" font-size="16.3" text-anchor="end" stroke="#000" stroke-width="0.4">300</text>
<text x="63.8" y="792.5" font-size="16.3" text-anchor="end" stroke="#000" stroke-width="0.4">400</text>
<line x1="80.3" y1="1038.7" x2="80.3" y2="1045.5" stroke="#000" stroke-width="1.5"/>
<line x1="133.6" y1="1038.7" x2="133.6" y2="1045.5" stroke="#000" stroke-width="1.5"/>
<line x1="187" y1="1038.7" x2="187" y2="1045.5" stroke="#000" stroke-width="1.5"/>
<line x1="240.3" y1="1038.7" x2="240.3" y2="1045.5" stroke="#000" stroke-width="1.5"/>
<line x1="293.7" y1="1038.7" x2="293.7" y2="1045.5" stroke="#000" stroke-width="1.5"/>
<line x1="347.1" y1="1038.7" x2="347.1" y2="1045.5" stroke="#000" stroke-width="1.5"/>
<line x1="400.4" y1="1038.7" x2="400.4" y2="1045.5" stroke="#000" stroke-width="1.5"/>
<line x1="107" y1="1038.7" x2="107" y2="1042.1" stroke="#000" stroke-width="1.5"/>
<line x1="160.3" y1="1038.7" x2="160.3" y2="1042.1" stroke="#000" stroke-width="1.5"/>
<line x1="213.7" y1="1038.7" x2="213.7" y2="1042.1" stroke="#000" stroke-width="1.5"/>
<line x1="267" y1="1038.7" x2="267" y2="1042.1" stroke="#000" stroke-width="1.5"/>
<line x1="320.4" y1="1038.7" x2="320.4" y2="1042.1" stroke="#000" stroke-width="1.5"/>
<line x1="373.7" y1="1038.7" x2="373.7" y2="1042.1" stroke="#000" stroke-width="1.5"/>
<text x="80.3" y="1064.4" font-size="16.3" text-anchor="middle" stroke="#000" stroke-width="0.4">0</text>
<text x="133.6" y="1064.4" font-size="16.3" text-anchor="middle" stroke="#000" stroke-width="0.4">100</text>
<text x="187" y="1064.4" font-size="16.3" text-anchor="middle" stroke="#000" stroke-width="0.4">200</text>
<text x="240.3" y="1064.4" font-size="16.3" text-anchor="middle" stroke="#000" stroke-width="0.4">300</text>
<text x="293.7" y="1064.4" font-size="16.3" text-anchor="middle" stroke="#000" stroke-width="0.4">400</text>
<text x="347.1" y="1064.4" font-size="16.3" text-anchor="middle" stroke="#000" stroke-width="0.4">500</text>
<text x="400.4" y="1064.4" font-size="16.3" text-anchor="middle" stroke="#000" stroke-width="0.4">600</text>
<text x="240.5" y="1096.5" font-size="25" text-anchor="middle" textLength="94.5" lengthAdjust="spacingAndGlyphs" stroke="#000" stroke-width="0.4">Time (s)</text>
<text x="27.5" y="906" font-size="25" text-anchor="middle" textLength="141.5" lengthAdjust="spacingAndGlyphs" stroke="#000" stroke-width="0.4" transform="rotate(-90 27.5 906)">Current (µA)</text>
<text x="442.6" y="757.5" font-size="32" stroke="#000" stroke-width="0.4">h</text>
<rect x="514.9" y="994.3" width="66.1" height="62.2" fill="url(#gh0)" stroke="#000" stroke-width="1.5"/>
<rect x="597.2" y="972.8" width="66.1" height="83.7" fill="url(#gh1)" stroke="#000" stroke-width="1.5"/>
<rect x="680" y="832.4" width="66" height="224.1" fill="url(#gh2)" stroke="#000" stroke-width="1.5"/>
<rect x="762.5" y="877" width="65.9" height="179.5" fill="url(#gh3)" stroke="#000" stroke-width="1.5"/>
<rect x="506.7" y="774.4" width="330.1" height="282.1" fill="none" stroke="#000" stroke-width="1.5"/>
<line x1="506.7" y1="1056.5" x2="499.9" y2="1056.5" stroke="#000" stroke-width="1.5"/>
<line x1="506.7" y1="1039.5" x2="502.9" y2="1039.5" stroke="#000" stroke-width="1.4"/>
<line x1="506.7" y1="1029.6" x2="502.9" y2="1029.6" stroke="#000" stroke-width="1.4"/>
<line x1="506.7" y1="1022.5" x2="502.9" y2="1022.5" stroke="#000" stroke-width="1.4"/>
<line x1="506.7" y1="1017.1" x2="502.9" y2="1017.1" stroke="#000" stroke-width="1.4"/>
<line x1="506.7" y1="1012.6" x2="502.9" y2="1012.6" stroke="#000" stroke-width="1.4"/>
<line x1="506.7" y1="1008.8" x2="502.9" y2="1008.8" stroke="#000" stroke-width="1.4"/>
<line x1="506.7" y1="1005.5" x2="502.9" y2="1005.5" stroke="#000" stroke-width="1.4"/>
<line x1="506.7" y1="1002.7" x2="502.9" y2="1002.7" stroke="#000" stroke-width="1.4"/>
<line x1="506.7" y1="1000.1" x2="501.9" y2="1000.1" stroke="#000" stroke-width="1.5"/>
<line x1="506.7" y1="983.1" x2="502.9" y2="983.1" stroke="#000" stroke-width="1.4"/>
<line x1="506.7" y1="973.2" x2="502.9" y2="973.2" stroke="#000" stroke-width="1.4"/>
<line x1="506.7" y1="966.1" x2="502.9" y2="966.1" stroke="#000" stroke-width="1.4"/>
<line x1="506.7" y1="960.6" x2="502.9" y2="960.6" stroke="#000" stroke-width="1.4"/>
<line x1="506.7" y1="956.2" x2="502.9" y2="956.2" stroke="#000" stroke-width="1.4"/>
<line x1="506.7" y1="952.4" x2="502.9" y2="952.4" stroke="#000" stroke-width="1.4"/>
<line x1="506.7" y1="949.1" x2="502.9" y2="949.1" stroke="#000" stroke-width="1.4"/>
<line x1="506.7" y1="946.2" x2="502.9" y2="946.2" stroke="#000" stroke-width="1.4"/>
<line x1="506.7" y1="943.7" x2="499.9" y2="943.7" stroke="#000" stroke-width="1.5"/>
<line x1="506.7" y1="926.7" x2="502.9" y2="926.7" stroke="#000" stroke-width="1.4"/>
<line x1="506.7" y1="916.7" x2="502.9" y2="916.7" stroke="#000" stroke-width="1.4"/>
<line x1="506.7" y1="909.7" x2="502.9" y2="909.7" stroke="#000" stroke-width="1.4"/>
<line x1="506.7" y1="904.2" x2="502.9" y2="904.2" stroke="#000" stroke-width="1.4"/>
<line x1="506.7" y1="899.8" x2="502.9" y2="899.8" stroke="#000" stroke-width="1.4"/>
<line x1="506.7" y1="896" x2="502.9" y2="896" stroke="#000" stroke-width="1.4"/>
<line x1="506.7" y1="892.7" x2="502.9" y2="892.7" stroke="#000" stroke-width="1.4"/>
<line x1="506.7" y1="889.8" x2="502.9" y2="889.8" stroke="#000" stroke-width="1.4"/>
<line x1="506.7" y1="887.2" x2="501.9" y2="887.2" stroke="#000" stroke-width="1.5"/>
<line x1="506.7" y1="870.3" x2="502.9" y2="870.3" stroke="#000" stroke-width="1.4"/>
<line x1="506.7" y1="860.3" x2="502.9" y2="860.3" stroke="#000" stroke-width="1.4"/>
<line x1="506.7" y1="853.3" x2="502.9" y2="853.3" stroke="#000" stroke-width="1.4"/>
<line x1="506.7" y1="847.8" x2="502.9" y2="847.8" stroke="#000" stroke-width="1.4"/>
<line x1="506.7" y1="843.3" x2="502.9" y2="843.3" stroke="#000" stroke-width="1.4"/>
<line x1="506.7" y1="839.6" x2="502.9" y2="839.6" stroke="#000" stroke-width="1.4"/>
<line x1="506.7" y1="836.3" x2="502.9" y2="836.3" stroke="#000" stroke-width="1.4"/>
<line x1="506.7" y1="833.4" x2="502.9" y2="833.4" stroke="#000" stroke-width="1.4"/>
<line x1="506.7" y1="830.8" x2="499.9" y2="830.8" stroke="#000" stroke-width="1.5"/>
<line x1="506.7" y1="813.8" x2="502.9" y2="813.8" stroke="#000" stroke-width="1.4"/>
<line x1="506.7" y1="803.9" x2="502.9" y2="803.9" stroke="#000" stroke-width="1.4"/>
<line x1="506.7" y1="796.9" x2="502.9" y2="796.9" stroke="#000" stroke-width="1.4"/>
<line x1="506.7" y1="791.4" x2="502.9" y2="791.4" stroke="#000" stroke-width="1.4"/>
<line x1="506.7" y1="786.9" x2="502.9" y2="786.9" stroke="#000" stroke-width="1.4"/>
<line x1="506.7" y1="783.1" x2="502.9" y2="783.1" stroke="#000" stroke-width="1.4"/>
<line x1="506.7" y1="779.9" x2="502.9" y2="779.9" stroke="#000" stroke-width="1.4"/>
<line x1="506.7" y1="777" x2="502.9" y2="777" stroke="#000" stroke-width="1.4"/>
<line x1="506.7" y1="774.4" x2="501.9" y2="774.4" stroke="#000" stroke-width="1.5"/>
<text x="496.2" y="835.8" font-size="14.4" text-anchor="end" textLength="39.8" lengthAdjust="spacingAndGlyphs" stroke="#000" stroke-width="0.4">1E-10</text>
<text x="496.2" y="948.7" font-size="14.4" text-anchor="end" textLength="39.8" lengthAdjust="spacingAndGlyphs" stroke="#000" stroke-width="0.4">1E-12</text>
<text x="496.2" y="1061.5" font-size="14.4" text-anchor="end" textLength="39.8" lengthAdjust="spacingAndGlyphs" stroke="#000" stroke-width="0.4">1E-14</text>
<line x1="547.6" y1="1056.5" x2="547.6" y2="1063.7" stroke="#000" stroke-width="1.5"/>
<line x1="630.3" y1="1056.5" x2="630.3" y2="1063.7" stroke="#000" stroke-width="1.5"/>
<line x1="712.8" y1="1056.5" x2="712.8" y2="1063.7" stroke="#000" stroke-width="1.5"/>
<line x1="795.2" y1="1056.5" x2="795.2" y2="1063.7" stroke="#000" stroke-width="1.5"/>
<text x="527.8" y="1086.3" font-size="19.6" textLength="32.2" lengthAdjust="spacingAndGlyphs" stroke="#000" stroke-width="0.4">OH</text>
<circle cx="562.7" cy="1074.3" r="2.4" fill="#000"/>
<text x="604.7" y="1086.3" font-size="19.6" textLength="32.7" lengthAdjust="spacingAndGlyphs" stroke="#000" stroke-width="0.4">SO</text>
<text x="636.4" y="1093.4" font-size="13" stroke="#000" stroke-width="0.3">4</text>
<circle cx="646.9" cy="1075.6" r="2.4" fill="#000"/>
<line x1="650.6" y1="1076.4" x2="654.8" y2="1076.4" stroke="#000" stroke-width="1.4"/>
<text x="698" y="1078" font-size="13.5" stroke="#000" stroke-width="0.3">1</text>
<text x="704.8" y="1086.3" font-size="19.6" textLength="16.8" lengthAdjust="spacingAndGlyphs" stroke="#000" stroke-width="0.4">O</text>
<text x="720.9" y="1093.4" font-size="13" stroke="#000" stroke-width="0.3">2</text>
<text x="777.6" y="1086.3" font-size="19.6" textLength="16.8" lengthAdjust="spacingAndGlyphs" stroke="#000" stroke-width="0.4">O</text>
<text x="793.8" y="1093.4" font-size="13" stroke="#000" stroke-width="0.3">2</text>
<circle cx="805.3" cy="1075.6" r="2.4" fill="#000"/>
<line x1="808.4" y1="1076.4" x2="812.8" y2="1076.4" stroke="#000" stroke-width="1.4"/>
<text x="447.6" y="915" font-size="24.8" text-anchor="middle" textLength="257.5" lengthAdjust="spacingAndGlyphs" stroke="#000" stroke-width="0.4" transform="rotate(-90 447.6 915)">ROS concentration (M)</text>
<text x="865.2" y="764" font-size="32" stroke="#000" stroke-width="0.4">i</text>
<rect x="883.3" y="790.1" width="39.9" height="18.8" fill="#05a6e6"/>
<rect x="883.3" y="817.4" width="39.9" height="18.8" fill="#f7922b"/>
<rect x="883.3" y="844.1" width="39.9" height="18.8" fill="#df4560"/>
<rect x="883.3" y="874" width="39.9" height="18.8" fill="#6267b6"/>
<rect x="883.3" y="905.1" width="39.9" height="18.8" fill="#fc7efc"/>
<text x="928.6" y="805.4" font-size="17.8" textLength="100.3" lengthAdjust="spacingAndGlyphs" stroke="#000" stroke-width="0.4">Cu(III)+ETP</text>
<circle cx="932.5" cy="821.1" r="2.2" fill="#000"/>
<text x="934.6" y="832.2" font-size="17.8" textLength="28.8" lengthAdjust="spacingAndGlyphs" stroke="#000" stroke-width="0.4">OH</text>
<text x="928.6" y="859.5" font-size="17.8" textLength="27.6" lengthAdjust="spacingAndGlyphs" stroke="#000" stroke-width="0.4">SO</text>
<text x="956" y="864.4" font-size="12" stroke="#000" stroke-width="0.3">4</text>
<circle cx="966.6" cy="848.7" r="2.1" fill="#000"/>
<line x1="969.6" y1="849.2" x2="973.3" y2="849.2" stroke="#000" stroke-width="1.3"/>
<text x="930.8" y="881.8" font-size="11.5" stroke="#000" stroke-width="0.3">1</text>
<text x="935.8" y="889.3" font-size="17.8" textLength="15.2" lengthAdjust="spacingAndGlyphs" stroke="#000" stroke-width="0.4">O</text>
<text x="950.8" y="894.6" font-size="12" stroke="#000" stroke-width="0.3">2</text>
<text x="928.6" y="920" font-size="17.8" textLength="15.4" lengthAdjust="spacingAndGlyphs" stroke="#000" stroke-width="0.4">O</text>
<text x="943.5" y="925.5" font-size="12" stroke="#000" stroke-width="0.3">2</text>
<circle cx="953.5" cy="909.7" r="2.1" fill="#000"/>
<line x1="956.5" y1="910.2" x2="960.4" y2="910.2" stroke="#000" stroke-width="1.3"/>
<path d="M965.7,920 A115.6,63.4 0 0 1 1196.9,920 L1196.9,950 A115.6,63.4 0 0 1 965.7,950 Z" fill="#05a6e6"/>
<path d="M1081.3,920 1031.2,977.1 1031.2,1007.1 1028.4,1006.4 1025.6,1005.6 1022.9,1004.7 1020.2,1003.8 1017.5,1002.9 1014.9,1001.9 1012.4,1000.9 1009.9,999.9 1007.5,998.8 1005.1,997.7 1002.7,996.5 1000.5,995.3 998.2,994.1 996.1,992.8 994,991.6 992,990.2 990,988.9 988.1,987.5 986.3,986.1 984.5,984.7 982.9,983.2 981.3,981.8 979.7,980.3 978.3,978.7 976.9,977.2 976.9,947.2Z" fill="#6267b6" stroke="#6267b6" stroke-width="0.6"/>
<path d="M1081.3,920 1177.5,955.2 1177.5,985.2 1175.7,986.6 1173.9,988 1172,989.3 1170,990.6 1168,991.9 1165.9,993.2 1163.8,994.4 1161.6,995.6 1159.3,996.8 1157,997.9 1154.7,999 1152.2,1000.1 1149.8,1001.1 1147.2,1002.1 1144.7,1003 1142,1003.9 1139.4,1004.8 1136.7,1005.7 1133.9,1006.4 1131.2,1007.2 1128.3,1007.9 1125.5,1008.6 1122.6,1009.2 1119.7,1009.8 1119.7,979.8Z" fill="#f7922b" stroke="#f7922b" stroke-width="0.6"/>
<path d="M1081.3,920 1119.7,979.8 1119.7,1009.8 1116.8,1010.3 1113.9,1010.8 1111,1011.3 1108.1,1011.7 1105.1,1012 1102.1,1012.4 1099.1,1012.6 1096.1,1012.9 1093.1,1013.1 1090.1,1013.2 1087.1,1013.3 1084,1013.4 1081,1013.4 1078,1013.4 1074.9,1013.3 1071.9,1013.2 1068.9,1013 1065.9,1012.8 1062.9,1012.6 1059.9,1012.3 1056.9,1012 1054,1011.6 1051,1011.2 1048.1,1010.7 1045.2,1010.2 1042.4,1009.7 1039.5,1009.1 1036.7,1008.5 1033.9,1007.8 1031.2,1007.1 1031.2,977.1Z" fill="#df4560" stroke="#df4560" stroke-width="0.6"/>
<text x="1057.8" y="846.8" font-size="18.2" textLength="64.1" lengthAdjust="spacingAndGlyphs" fill="#1ea7e0" stroke="#1ea7e0" stroke-width="0.4">66.28%</text>
<text x="1139.4" y="1019.4" font-size="18.3" textLength="62.4" lengthAdjust="spacingAndGlyphs" fill="#f39a3c" stroke="#f39a3c" stroke-width="0.4">10.34%</text>
<text x="947.8" y="1013.3" font-size="18.3" textLength="62.6" lengthAdjust="spacingAndGlyphs" fill="#6068b8" stroke="#6068b8" stroke-width="0.4">10.66%</text>
<text x="1047" y="1036.6" font-size="18.3" textLength="53" lengthAdjust="spacingAndGlyphs" fill="#d9455f" stroke="#d9455f" stroke-width="0.4">12.6%</text>
<text x="923.5" y="992.2" font-size="18.3" textLength="53.3" lengthAdjust="spacingAndGlyphs" fill="#f58af0" stroke="#f58af0" stroke-width="0.4">0.11%</text>
<text x="923.9" y="1075.7" font-size="20.8" textLength="267.7" lengthAdjust="spacingAndGlyphs" stroke="#000" stroke-width="0.4">E/CuNW@rGO/PMS system</text>
</g>
</svg>
</body></html>
